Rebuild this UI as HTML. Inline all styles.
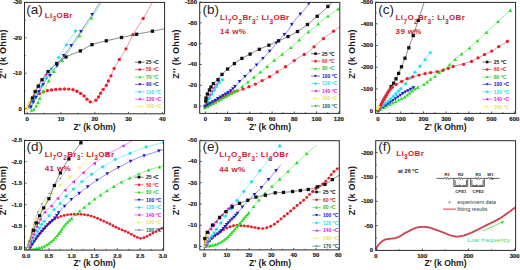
<!DOCTYPE html>
<html><head><meta charset="utf-8"><style>
html,body{margin:0;padding:0;background:#fff;}
svg{display:block;font-family:"Liberation Sans", sans-serif;}
</style></head><body>
<svg width="520" height="270" viewBox="0 0 520 270">
<rect width="520" height="270" fill="#fff"/>
<clipPath id="ca"><rect x="24.5" y="2.4" width="140.1" height="111.39999999999999"/></clipPath>
<g clip-path="url(#ca)">
<path d="M28.00 108.50 L28.22 107.99 L28.52 107.30 L28.86 106.47 L29.25 105.56 L29.67 104.61 L30.11 103.67 L30.56 102.79 L31.00 102.00 L31.45 101.29 L31.92 100.60 L32.41 99.94 L32.92 99.30 L33.43 98.68 L33.96 98.10 L34.48 97.53 L35.00 97.00 L35.51 96.50 L36.02 96.03 L36.53 95.60 L37.04 95.19 L37.57 94.80 L38.12 94.42 L38.69 94.06 L39.30 93.70 L39.94 93.35 L40.62 93.01 L41.32 92.69 L42.04 92.38 L42.78 92.08 L43.52 91.80 L44.26 91.54 L45.00 91.30 L45.72 91.08 L46.43 90.89 L47.14 90.71 L47.86 90.55 L48.59 90.40 L49.35 90.26 L50.15 90.13 L51.00 90.00 L51.91 89.87 L52.87 89.75 L53.88 89.64 L54.91 89.53 L55.95 89.43 L56.99 89.35 L58.01 89.27 L59.00 89.20 L59.98 89.14 L60.97 89.10 L61.97 89.06 L62.95 89.03 L63.91 89.01 L64.83 89.00 L65.70 89.00 L66.50 89.00 L67.23 89.01 L67.90 89.02 L68.52 89.03 L69.09 89.06 L69.65 89.09 L70.19 89.14 L70.74 89.21 L71.30 89.30 L71.88 89.41 L72.45 89.54 L73.02 89.68 L73.59 89.84 L74.14 90.02 L74.68 90.20 L75.20 90.40 L75.70 90.60 L76.17 90.81 L76.61 91.04 L77.03 91.28 L77.43 91.53 L77.83 91.79 L78.24 92.06 L78.66 92.33 L79.10 92.60 L79.57 92.87 L80.06 93.15 L80.56 93.43 L81.07 93.72 L81.57 94.02 L82.07 94.33 L82.55 94.65 L83.00 95.00 L83.42 95.37 L83.83 95.77 L84.21 96.18 L84.59 96.61 L84.96 97.04 L85.33 97.47 L85.71 97.89 L86.10 98.30 L86.50 98.71 L86.91 99.13 L87.32 99.56 L87.73 99.97 L88.15 100.38 L88.56 100.76 L88.98 101.10 L89.40 101.40 L89.82 101.67 L90.25 101.94 L90.68 102.19 L91.11 102.40 L91.54 102.57 L91.97 102.68 L92.39 102.73 L92.80 102.70 L93.21 102.57 L93.61 102.36 L94.01 102.07 L94.40 101.73 L94.79 101.36 L95.17 100.96 L95.54 100.57 L95.90 100.20 L96.25 99.84 L96.60 99.46 L96.93 99.08 L97.26 98.68 L97.58 98.27 L97.90 97.86 L98.20 97.43 L98.50 97.00 L98.78 96.55 L99.05 96.09 L99.30 95.62 L99.55 95.14 L99.80 94.66 L100.05 94.17 L100.32 93.68 L100.60 93.20 L100.90 92.72 L101.20 92.23 L101.52 91.74 L101.84 91.26 L102.17 90.77 L102.50 90.28 L102.85 89.79 L103.20 89.30 L103.57 88.82 L103.96 88.34 L104.37 87.86 L104.78 87.38 L105.19 86.90 L105.58 86.41 L105.96 85.91 L106.30 85.40 L106.61 84.88 L106.88 84.35 L107.14 83.82 L107.38 83.28 L107.62 82.73 L107.86 82.17 L108.12 81.59 L108.40 81.00 L108.70 80.40 L109.00 79.81 L109.32 79.20 L109.64 78.58 L109.97 77.94 L110.30 77.27 L110.65 76.56 L111.00 75.80 L111.35 75.00 L111.69 74.16 L112.03 73.30 L112.39 72.39 L112.76 71.46 L113.17 70.50 L113.61 69.51 L114.10 68.50 L114.64 67.46 L115.22 66.39 L115.83 65.29 L116.47 64.16 L117.15 63.00 L117.85 61.82 L118.56 60.62 L119.30 59.40 L120.06 58.17 L120.86 56.94 L121.69 55.69 L122.54 54.41 L123.40 53.10 L124.27 51.73 L125.14 50.30 L126.00 48.80 L126.84 47.22 L127.65 45.57 L128.46 43.86 L129.28 42.10 L130.13 40.30 L131.02 38.45 L131.97 36.59 L133.00 34.70 L134.12 32.78 L135.33 30.83 L136.61 28.84 L137.93 26.81 L139.26 24.76 L140.60 22.69 L141.92 20.60 L143.20 18.50 L144.51 16.26 L145.91 13.81 L147.33 11.26 L148.74 8.74 L150.06 6.34 L151.25 4.17 L152.25 2.36 L153.00 1.00" fill="none" stroke="#ed575f" stroke-width="0.65"/>
<circle cx="39.30" cy="93.70" r="1.65" fill="#e8202a"/>
<circle cx="43.23" cy="91.96" r="1.65" fill="#e8202a"/>
<circle cx="47.33" cy="90.67" r="1.65" fill="#e8202a"/>
<circle cx="51.56" cy="89.92" r="1.65" fill="#e8202a"/>
<circle cx="55.83" cy="89.44" r="1.65" fill="#e8202a"/>
<circle cx="60.12" cy="89.14" r="1.65" fill="#e8202a"/>
<circle cx="64.42" cy="89.01" r="1.65" fill="#e8202a"/>
<circle cx="68.72" cy="89.04" r="1.65" fill="#e8202a"/>
<circle cx="72.96" cy="89.67" r="1.65" fill="#e8202a"/>
<circle cx="76.95" cy="91.24" r="1.65" fill="#e8202a"/>
<circle cx="80.63" cy="93.47" r="1.65" fill="#e8202a"/>
<circle cx="84.06" cy="96.02" r="1.65" fill="#e8202a"/>
<circle cx="86.96" cy="99.19" r="1.65" fill="#e8202a"/>
<circle cx="90.29" cy="101.87" r="1.65" fill="#e8202a"/>
<circle cx="95.90" cy="100.20" r="1.65" fill="#e8202a"/>
<circle cx="98.50" cy="97.00" r="1.65" fill="#e8202a"/>
<circle cx="100.60" cy="93.20" r="1.65" fill="#e8202a"/>
<circle cx="103.20" cy="89.30" r="1.65" fill="#e8202a"/>
<circle cx="106.30" cy="85.40" r="1.65" fill="#e8202a"/>
<circle cx="108.40" cy="81.00" r="1.65" fill="#e8202a"/>
<circle cx="111.00" cy="75.80" r="1.65" fill="#e8202a"/>
<circle cx="114.10" cy="68.50" r="1.65" fill="#e8202a"/>
<circle cx="119.30" cy="59.40" r="1.65" fill="#e8202a"/>
<circle cx="126.00" cy="48.80" r="1.65" fill="#e8202a"/>
<circle cx="133.00" cy="34.70" r="1.65" fill="#e8202a"/>
<circle cx="143.20" cy="18.50" r="1.65" fill="#e8202a"/>
<path d="M26.80 109.50 L26.97 109.16 L27.19 108.70 L27.45 108.16 L27.74 107.56 L28.06 106.92 L28.38 106.27 L28.70 105.62 L29.00 105.00 L29.30 104.40 L29.60 103.79 L29.92 103.16 L30.23 102.53 L30.55 101.90 L30.87 101.26 L31.19 100.63 L31.50 100.00 L31.81 99.38 L32.12 98.75 L32.44 98.12 L32.75 97.50 L33.06 96.88 L33.38 96.25 L33.69 95.62 L34.00 95.00 L34.33 94.34 L34.68 93.63 L35.05 92.91 L35.41 92.19 L35.75 91.51 L36.05 90.90 L36.31 90.39 L36.50 90.00" fill="none" stroke="#f5f281" stroke-width="2.5"/>
<path d="M28.78 109.50L25.18 107.52L25.18 111.48Z" fill="#f2ee58"/>
<path d="M29.48 108.06L25.88 106.08L25.88 110.04Z" fill="#f2ee58"/>
<path d="M30.18 106.62L26.58 104.64L26.58 108.60Z" fill="#f2ee58"/>
<path d="M30.89 105.19L27.29 103.21L27.29 107.17Z" fill="#f2ee58"/>
<path d="M31.60 103.75L28.00 101.77L28.00 105.73Z" fill="#f2ee58"/>
<path d="M32.32 102.32L28.72 100.34L28.72 104.30Z" fill="#f2ee58"/>
<path d="M33.03 100.89L29.43 98.91L29.43 102.87Z" fill="#f2ee58"/>
<path d="M33.75 99.46L30.15 97.48L30.15 101.44Z" fill="#f2ee58"/>
<path d="M34.46 98.03L30.86 96.05L30.86 100.01Z" fill="#f2ee58"/>
<path d="M35.18 96.60L31.58 94.62L31.58 98.58Z" fill="#f2ee58"/>
<path d="M35.90 95.17L32.30 93.19L32.30 97.15Z" fill="#f2ee58"/>
<path d="M36.61 93.74L33.01 91.76L33.01 95.72Z" fill="#f2ee58"/>
<path d="M37.33 92.31L33.73 90.33L33.73 94.29Z" fill="#f2ee58"/>
<path d="M38.04 90.88L34.44 88.90L34.44 92.86Z" fill="#f2ee58"/>
<path d="M28.50 108.50 L28.69 108.00 L28.94 107.33 L29.23 106.54 L29.56 105.66 L29.92 104.72 L30.28 103.78 L30.65 102.86 L31.00 102.00 L31.34 101.20 L31.69 100.42 L32.05 99.65 L32.41 98.88 L32.79 98.08 L33.18 97.27 L33.58 96.41 L34.00 95.50 L34.44 94.52 L34.91 93.48 L35.39 92.39 L35.88 91.28 L36.38 90.17 L36.89 89.07 L37.40 88.00 L37.90 87.00 L38.40 86.04 L38.91 85.11 L39.43 84.20 L39.94 83.31 L40.46 82.45 L40.98 81.61 L41.49 80.79 L42.00 80.00 L42.53 79.20 L43.10 78.39 L43.68 77.59 L44.26 76.81 L44.80 76.09 L45.28 75.45 L45.69 74.91 L46.00 74.50" fill="none" stroke="#e757e7" stroke-width="0.65"/>
<path d="M27.68 106.00L30.98 104.19L30.98 107.81Z" fill="#e020e0"/>
<path d="M29.68 101.50L32.98 99.69L32.98 103.31Z" fill="#e020e0"/>
<path d="M32.19 96.00L35.48 94.19L35.48 97.81Z" fill="#e020e0"/>
<path d="M36.09 87.00L39.38 85.19L39.38 88.81Z" fill="#e020e0"/>
<path d="M40.19 80.00L43.48 78.19L43.48 81.81Z" fill="#e020e0"/>
<path d="M44.19 74.50L47.48 72.69L47.48 76.31Z" fill="#e020e0"/>
<path d="M29.50 109.00 L29.73 108.46 L30.03 107.73 L30.38 106.87 L30.78 105.91 L31.21 104.90 L31.64 103.88 L32.08 102.90 L32.50 102.00 L32.91 101.17 L33.32 100.38 L33.73 99.59 L34.16 98.81 L34.59 98.03 L35.04 97.22 L35.51 96.38 L36.00 95.50 L36.51 94.58 L37.04 93.62 L37.59 92.63 L38.16 91.62 L38.73 90.60 L39.32 89.57 L39.91 88.53 L40.50 87.50 L41.09 86.47 L41.69 85.45 L42.30 84.42 L42.91 83.38 L43.54 82.32 L44.18 81.24 L44.83 80.14 L45.50 79.00 L46.21 77.80 L46.95 76.52 L47.73 75.21 L48.51 73.88 L49.28 72.56 L50.03 71.29 L50.74 70.09 L51.40 69.00 L52.00 68.01 L52.57 67.10 L53.10 66.24 L53.61 65.44 L54.10 64.68 L54.57 63.94 L55.04 63.22 L55.50 62.50 L55.95 61.80 L56.37 61.16 L56.78 60.54 L57.18 59.94 L57.57 59.35 L57.97 58.73 L58.37 58.09 L58.80 57.40 L59.24 56.66 L59.69 55.88 L60.15 55.08 L60.62 54.26 L61.09 53.44 L61.56 52.61 L62.03 51.79 L62.50 51.00 L62.97 50.23 L63.43 49.46 L63.90 48.70 L64.37 47.95 L64.84 47.20 L65.32 46.44 L65.81 45.67 L66.30 44.90 L66.80 44.12 L67.30 43.35 L67.81 42.57 L68.32 41.79 L68.85 40.99 L69.38 40.18 L69.93 39.35 L70.50 38.50 L71.12 37.56 L71.81 36.53 L72.54 35.44 L73.26 34.35 L73.96 33.31 L74.58 32.37 L75.11 31.59 L75.50 31.00" fill="none" stroke="#59e7f3" stroke-width="0.65"/>
<path d="M30.50 105.02L32.48 107.00L30.50 108.98L28.52 107.00Z" fill="#22e0f0"/>
<path d="M32.50 100.52L34.48 102.50L32.50 104.48L30.52 102.50Z" fill="#22e0f0"/>
<path d="M35.00 96.02L36.98 98.00L35.00 99.98L33.02 98.00Z" fill="#22e0f0"/>
<path d="M38.00 90.52L39.98 92.50L38.00 94.48L36.02 92.50Z" fill="#22e0f0"/>
<path d="M41.50 84.02L43.48 86.00L41.50 87.98L39.52 86.00Z" fill="#22e0f0"/>
<path d="M46.00 76.02L47.98 78.00L46.00 79.98L44.02 78.00Z" fill="#22e0f0"/>
<path d="M51.40 66.82L53.38 68.80L51.40 70.78L49.42 68.80Z" fill="#22e0f0"/>
<path d="M58.80 55.42L60.78 57.40L58.80 59.38L56.82 57.40Z" fill="#22e0f0"/>
<path d="M66.30 42.92L68.28 44.90L66.30 46.88L64.32 44.90Z" fill="#22e0f0"/>
<path d="M75.50 29.02L77.48 31.00L75.50 32.98L73.52 31.00Z" fill="#22e0f0"/>
<path d="M30.50 110.50 L30.70 110.47 L30.96 110.45 L31.28 110.42 L31.62 110.38 L31.99 110.32 L32.35 110.24 L32.69 110.14 L33.00 110.00 L33.28 109.83 L33.55 109.62 L33.81 109.38 L34.06 109.12 L34.31 108.85 L34.55 108.57 L34.78 108.28 L35.00 108.00 L35.20 107.73 L35.38 107.49 L35.54 107.24 L35.70 106.98 L35.86 106.69 L36.05 106.36 L36.25 105.97 L36.50 105.50 L36.78 104.96 L37.08 104.36 L37.41 103.71 L37.75 103.01 L38.11 102.27 L38.49 101.48 L38.89 100.66 L39.30 99.80 L39.72 98.90 L40.16 97.96 L40.61 96.97 L41.08 95.94 L41.57 94.88 L42.09 93.78 L42.63 92.66 L43.20 91.50 L43.81 90.30 L44.46 89.03 L45.15 87.72 L45.86 86.38 L46.57 85.03 L47.29 83.69 L48.01 82.38 L48.70 81.10 L49.39 79.84 L50.08 78.57 L50.78 77.31 L51.47 76.06 L52.15 74.84 L52.82 73.66 L53.47 72.55 L54.10 71.50 L54.69 70.54 L55.26 69.66 L55.80 68.84 L56.32 68.06 L56.85 67.30 L57.38 66.55 L57.93 65.79 L58.50 65.00 L59.07 64.22 L59.63 63.49 L60.19 62.77 L60.76 62.05 L61.36 61.29 L62.00 60.46 L62.71 59.54 L63.50 58.50 L64.38 57.32 L65.35 56.02 L66.39 54.62 L67.48 53.16 L68.58 51.66 L69.68 50.15 L70.76 48.65 L71.80 47.20 L72.81 45.75 L73.83 44.28 L74.84 42.79 L75.84 41.30 L76.83 39.83 L77.79 38.40 L78.71 37.01 L79.60 35.70 L80.44 34.46 L81.23 33.29 L81.99 32.16 L82.72 31.08 L83.44 30.01 L84.15 28.95 L84.87 27.89 L85.60 26.80 L86.35 25.70 L87.10 24.59 L87.86 23.47 L88.61 22.37 L89.36 21.27 L90.09 20.19 L90.81 19.13 L91.50 18.10 L92.16 17.11 L92.80 16.16 L93.42 15.23 L94.03 14.32 L94.63 13.40 L95.24 12.47 L95.86 11.51 L96.50 10.50 L97.20 9.38 L97.97 8.14 L98.77 6.83 L99.56 5.53 L100.32 4.28 L101.00 3.15 L101.57 2.20 L102.00 1.50" fill="none" stroke="#59e559" stroke-width="0.65"/>
<path d="M31.50 108.48L33.31 111.78L29.68 111.78Z" fill="#22dd22"/>
<path d="M34.00 107.39L35.81 110.69L32.19 110.69Z" fill="#22dd22"/>
<path d="M36.20 104.19L38.02 107.48L34.39 107.48Z" fill="#22dd22"/>
<path d="M38.00 100.69L39.81 103.98L36.19 103.98Z" fill="#22dd22"/>
<path d="M39.80 96.69L41.61 99.98L37.98 99.98Z" fill="#22dd22"/>
<path d="M43.20 89.39L45.02 92.69L41.39 92.69Z" fill="#22dd22"/>
<path d="M48.70 79.28L50.52 82.58L46.89 82.58Z" fill="#22dd22"/>
<path d="M54.10 69.69L55.91 72.98L52.29 72.98Z" fill="#22dd22"/>
<path d="M62.40 58.69L64.22 61.98L60.59 61.98Z" fill="#22dd22"/>
<path d="M79.60 33.89L81.41 37.19L77.78 37.19Z" fill="#22dd22"/>
<path d="M91.50 16.29L93.31 19.59L89.69 19.59Z" fill="#22dd22"/>
<path d="M30.00 109.00 L30.27 108.46 L30.63 107.73 L31.06 106.87 L31.53 105.91 L32.03 104.90 L32.54 103.88 L33.04 102.90 L33.50 102.00 L33.93 101.17 L34.36 100.36 L34.79 99.57 L35.22 98.78 L35.65 97.99 L36.09 97.18 L36.54 96.36 L37.00 95.50 L37.47 94.61 L37.95 93.70 L38.44 92.76 L38.94 91.81 L39.44 90.86 L39.95 89.90 L40.47 88.94 L41.00 88.00 L41.54 87.06 L42.09 86.10 L42.65 85.14 L43.22 84.19 L43.79 83.24 L44.36 82.30 L44.93 81.39 L45.50 80.50 L46.05 79.65 L46.57 78.85 L47.08 78.08 L47.60 77.31 L48.14 76.54 L48.71 75.74 L49.32 74.90 L50.00 74.00 L50.75 73.04 L51.56 72.05 L52.42 71.02 L53.31 69.96 L54.21 68.88 L55.13 67.77 L56.03 66.64 L56.90 65.50 L57.75 64.33 L58.59 63.13 L59.43 61.89 L60.26 60.64 L61.10 59.38 L61.95 58.11 L62.82 56.85 L63.70 55.60 L64.59 54.38 L65.47 53.21 L66.36 52.04 L67.27 50.87 L68.20 49.66 L69.15 48.40 L70.15 47.05 L71.20 45.60 L72.34 43.99 L73.57 42.21 L74.86 40.33 L76.17 38.40 L77.47 36.48 L78.71 34.64 L79.87 32.93 L80.90 31.40 L81.80 30.07 L82.59 28.89 L83.30 27.83 L83.95 26.84 L84.57 25.90 L85.19 24.97 L85.82 24.02 L86.50 23.00 L87.22 21.93 L87.96 20.82 L88.71 19.71 L89.46 18.60 L90.20 17.51 L90.91 16.45 L91.58 15.44 L92.20 14.50 L92.76 13.64 L93.27 12.85 L93.73 12.11 L94.18 11.41 L94.61 10.71 L95.05 10.01 L95.50 9.28 L96.00 8.50 L96.56 7.62 L97.18 6.66 L97.83 5.64 L98.49 4.62 L99.11 3.66 L99.67 2.78 L100.15 2.05 L100.50 1.50" fill="none" stroke="#5151db" stroke-width="0.65"/>
<path d="M31.00 108.81L32.81 105.52L29.18 105.52Z" fill="#1818d0"/>
<path d="M33.50 103.81L35.31 100.52L31.68 100.52Z" fill="#1818d0"/>
<path d="M36.00 99.31L37.81 96.02L34.19 96.02Z" fill="#1818d0"/>
<path d="M39.10 93.31L40.91 90.02L37.29 90.02Z" fill="#1818d0"/>
<path d="M43.20 86.31L45.02 83.02L41.39 83.02Z" fill="#1818d0"/>
<path d="M50.00 77.41L51.81 74.11L48.19 74.11Z" fill="#1818d0"/>
<path d="M56.90 67.81L58.71 64.52L55.09 64.52Z" fill="#1818d0"/>
<path d="M63.70 57.41L65.52 54.12L61.89 54.12Z" fill="#1818d0"/>
<path d="M71.20 47.41L73.02 44.12L69.39 44.12Z" fill="#1818d0"/>
<path d="M80.90 33.21L82.72 29.91L79.09 29.91Z" fill="#1818d0"/>
<path d="M92.20 16.32L94.02 13.02L90.39 13.02Z" fill="#1818d0"/>
<path d="M28.50 108.00 L28.61 107.71 L28.75 107.33 L28.91 106.88 L29.09 106.38 L29.30 105.82 L29.52 105.23 L29.75 104.62 L30.00 104.00 L30.26 103.35 L30.55 102.65 L30.86 101.91 L31.18 101.15 L31.50 100.37 L31.84 99.58 L32.17 98.78 L32.50 98.00 L32.83 97.21 L33.15 96.41 L33.48 95.59 L33.81 94.77 L34.15 93.95 L34.49 93.15 L34.84 92.36 L35.20 91.60 L35.56 90.87 L35.93 90.18 L36.31 89.51 L36.69 88.84 L37.08 88.18 L37.47 87.51 L37.88 86.82 L38.30 86.10 L38.72 85.36 L39.13 84.63 L39.54 83.88 L39.96 83.12 L40.41 82.34 L40.89 81.53 L41.42 80.68 L42.00 79.80 L42.63 78.87 L43.30 77.88 L44.00 76.86 L44.74 75.81 L45.52 74.75 L46.34 73.69 L47.20 72.63 L48.10 71.60 L49.05 70.57 L50.06 69.53 L51.11 68.48 L52.20 67.44 L53.31 66.42 L54.44 65.41 L55.57 64.44 L56.70 63.50 L57.79 62.61 L58.86 61.75 L59.91 60.93 L60.99 60.12 L62.11 59.34 L63.30 58.56 L64.59 57.78 L66.00 57.00 L67.58 56.22 L69.31 55.45 L71.15 54.69 L73.06 53.93 L74.98 53.18 L76.88 52.42 L78.70 51.66 L80.40 50.90 L81.97 50.11 L83.43 49.30 L84.84 48.48 L86.21 47.66 L87.58 46.86 L88.98 46.09 L90.44 45.37 L92.00 44.70 L93.65 44.10 L95.36 43.55 L97.13 43.04 L98.92 42.57 L100.75 42.12 L102.60 41.68 L104.45 41.24 L106.30 40.80 L108.16 40.36 L110.04 39.93 L111.94 39.51 L113.85 39.11 L115.77 38.70 L117.69 38.30 L119.60 37.90 L121.50 37.50 L123.39 37.09 L125.27 36.69 L127.14 36.29 L129.01 35.89 L130.89 35.49 L132.78 35.09 L134.68 34.69 L136.60 34.30 L138.56 33.90 L140.55 33.51 L142.57 33.11 L144.59 32.72 L146.61 32.33 L148.59 31.94 L150.53 31.57 L152.40 31.20 L154.30 30.82 L156.27 30.43 L158.26 30.04 L160.19 29.66 L161.99 29.30 L163.61 28.98 L164.97 28.71 L166.00 28.50" fill="none" stroke="#444444" stroke-width="0.65"/>
<rect x="30.85" y="96.35" width="3.30" height="3.30" fill="#111111"/>
<rect x="33.55" y="89.95" width="3.30" height="3.30" fill="#111111"/>
<rect x="36.65" y="84.45" width="3.30" height="3.30" fill="#111111"/>
<rect x="40.35" y="78.15" width="3.30" height="3.30" fill="#111111"/>
<rect x="46.45" y="69.95" width="3.30" height="3.30" fill="#111111"/>
<rect x="55.05" y="61.85" width="3.30" height="3.30" fill="#111111"/>
<rect x="64.35" y="55.35" width="3.30" height="3.30" fill="#111111"/>
<rect x="78.75" y="49.25" width="3.30" height="3.30" fill="#111111"/>
<rect x="90.35" y="43.05" width="3.30" height="3.30" fill="#111111"/>
<rect x="104.65" y="39.15" width="3.30" height="3.30" fill="#111111"/>
<rect x="119.85" y="35.85" width="3.30" height="3.30" fill="#111111"/>
<rect x="134.95" y="32.65" width="3.30" height="3.30" fill="#111111"/>
<rect x="150.75" y="29.55" width="3.30" height="3.30" fill="#111111"/>
</g>
<rect x="24.5" y="2.4" width="140.1" height="111.39999999999999" fill="none" stroke="#2a2a2a" stroke-width="1"/>
<line x1="24.5" y1="2.40" x2="26.5" y2="2.40" stroke="#333" stroke-width="0.8"/>
<text x="21.80" y="4.30" font-size="6.0" fill="#151515" text-anchor="end" font-weight="bold" stroke="#151515" stroke-width="0.15">-30</text>
<line x1="24.5" y1="37.80" x2="26.5" y2="37.80" stroke="#333" stroke-width="0.8"/>
<text x="21.80" y="39.70" font-size="6.0" fill="#151515" text-anchor="end" font-weight="bold" stroke="#151515" stroke-width="0.15">-20</text>
<line x1="24.5" y1="73.20" x2="26.5" y2="73.20" stroke="#333" stroke-width="0.8"/>
<text x="21.80" y="75.10" font-size="6.0" fill="#151515" text-anchor="end" font-weight="bold" stroke="#151515" stroke-width="0.15">-10</text>
<line x1="24.5" y1="108.60" x2="26.5" y2="108.60" stroke="#333" stroke-width="0.8"/>
<text x="21.80" y="110.50" font-size="6.0" fill="#151515" text-anchor="end" font-weight="bold" stroke="#151515" stroke-width="0.15">0</text>
<line x1="24.5" y1="20.10" x2="25.7" y2="20.10" stroke="#333" stroke-width="0.7"/>
<line x1="24.5" y1="55.50" x2="25.7" y2="55.50" stroke="#333" stroke-width="0.7"/>
<line x1="24.5" y1="90.90" x2="25.7" y2="90.90" stroke="#333" stroke-width="0.7"/>
<line x1="27.20" y1="113.8" x2="27.20" y2="111.8" stroke="#333" stroke-width="0.8"/>
<text x="27.20" y="121.20" font-size="6.0" fill="#151515" text-anchor="middle" font-weight="bold" stroke="#151515" stroke-width="0.15">0</text>
<line x1="61.00" y1="113.8" x2="61.00" y2="111.8" stroke="#333" stroke-width="0.8"/>
<text x="61.00" y="121.20" font-size="6.0" fill="#151515" text-anchor="middle" font-weight="bold" stroke="#151515" stroke-width="0.15">10</text>
<line x1="94.80" y1="113.8" x2="94.80" y2="111.8" stroke="#333" stroke-width="0.8"/>
<text x="94.80" y="121.20" font-size="6.0" fill="#151515" text-anchor="middle" font-weight="bold" stroke="#151515" stroke-width="0.15">20</text>
<line x1="128.60" y1="113.8" x2="128.60" y2="111.8" stroke="#333" stroke-width="0.8"/>
<text x="128.60" y="121.20" font-size="6.0" fill="#151515" text-anchor="middle" font-weight="bold" stroke="#151515" stroke-width="0.15">30</text>
<line x1="162.40" y1="113.8" x2="162.40" y2="111.8" stroke="#333" stroke-width="0.8"/>
<text x="162.40" y="121.20" font-size="6.0" fill="#151515" text-anchor="middle" font-weight="bold" stroke="#151515" stroke-width="0.15">40</text>
<line x1="44.10" y1="113.8" x2="44.10" y2="112.6" stroke="#333" stroke-width="0.7"/>
<line x1="77.90" y1="113.8" x2="77.90" y2="112.6" stroke="#333" stroke-width="0.7"/>
<line x1="111.70" y1="113.8" x2="111.70" y2="112.6" stroke="#333" stroke-width="0.7"/>
<line x1="145.50" y1="113.8" x2="145.50" y2="112.6" stroke="#333" stroke-width="0.7"/>
<text x="94.60" y="129.90" font-size="8.6" fill="#1a1a1a" text-anchor="middle" font-weight="bold" >Z' (k Ohm)</text>
<text x="0" y="0" font-size="9.1" fill="#1a1a1a" text-anchor="middle" font-weight="bold" letter-spacing="0.25" transform="translate(6.30,54.00) rotate(-90)">Z'' (k Ohm)</text>
<text x="26.20" y="14.40" font-size="13.5" fill="#262626" text-anchor="start" font-weight="normal" >(a)</text>
<text x="44.8" y="17.6" font-size="8.0" fill="#cc2234" font-weight="bold" letter-spacing="0.35">Li<tspan dy="3.3" font-size="6.56">3</tspan><tspan dy="-3.3">OBr</tspan></text>
<line x1="135" y1="62.20" x2="144.5" y2="62.20" stroke="#111111" stroke-width="0.6"/>
<rect x="138.45" y="60.90" width="2.60" height="2.60" fill="#111111"/>
<text x="146.00" y="64.00" font-size="5.0" fill="#111111" text-anchor="start" font-weight="bold" >25 <tspan dy="-1.5" font-size="3.2">o</tspan><tspan dy="1.5">C</tspan></text>
<line x1="135" y1="69.60" x2="144.5" y2="69.60" stroke="#e8202a" stroke-width="0.6"/>
<circle cx="139.75" cy="69.60" r="1.30" fill="#e8202a"/>
<text x="146.00" y="71.40" font-size="5.0" fill="#e8202a" text-anchor="start" font-weight="bold" >50 <tspan dy="-1.5" font-size="3.2">o</tspan><tspan dy="1.5">C</tspan></text>
<line x1="135" y1="77.00" x2="144.5" y2="77.00" stroke="#22dd22" stroke-width="0.6"/>
<path d="M139.75 75.57L141.18 78.17L138.32 78.17Z" fill="#22dd22"/>
<text x="146.00" y="78.80" font-size="5.0" fill="#30c030" text-anchor="start" font-weight="bold" >70 <tspan dy="-1.5" font-size="3.2">o</tspan><tspan dy="1.5">C</tspan></text>
<line x1="135" y1="84.40" x2="144.5" y2="84.40" stroke="#1818d0" stroke-width="0.6"/>
<path d="M139.75 85.83L141.18 83.23L138.32 83.23Z" fill="#1818d0"/>
<text x="146.00" y="86.20" font-size="5.0" fill="#1818d0" text-anchor="start" font-weight="bold" >90 <tspan dy="-1.5" font-size="3.2">o</tspan><tspan dy="1.5">C</tspan></text>
<line x1="135" y1="91.80" x2="144.5" y2="91.80" stroke="#22e0f0" stroke-width="0.6"/>
<path d="M139.75 90.24L141.31 91.80L139.75 93.36L138.19 91.80Z" fill="#22e0f0"/>
<text x="146.00" y="93.60" font-size="5.0" fill="#30d8e8" text-anchor="start" font-weight="bold" >110 <tspan dy="-1.5" font-size="3.2">o</tspan><tspan dy="1.5">C</tspan></text>
<line x1="135" y1="99.20" x2="144.5" y2="99.20" stroke="#e020e0" stroke-width="0.6"/>
<path d="M138.32 99.20L140.92 97.77L140.92 100.63Z" fill="#e020e0"/>
<text x="146.00" y="101.00" font-size="5.0" fill="#e020e0" text-anchor="start" font-weight="bold" >130 <tspan dy="-1.5" font-size="3.2">o</tspan><tspan dy="1.5">C</tspan></text>
<line x1="135" y1="106.60" x2="144.5" y2="106.60" stroke="#f2ee58" stroke-width="0.6"/>
<path d="M141.18 106.60L138.58 105.17L138.58 108.03Z" fill="#f2ee58"/>
<text x="146.00" y="108.40" font-size="5.0" fill="#e8e060" text-anchor="start" font-weight="bold" >150 <tspan dy="-1.5" font-size="3.2">o</tspan><tspan dy="1.5">C</tspan></text>
<clipPath id="cb"><rect x="199.7" y="2.4" width="140.10000000000002" height="111.0"/></clipPath>
<g clip-path="url(#cb)">
<path d="M205.00 107.50 L205.04 107.15 L205.10 106.68 L205.17 106.12 L205.24 105.50 L205.33 104.85 L205.41 104.20 L205.51 103.57 L205.60 103.00 L205.70 102.47 L205.80 101.94 L205.91 101.42 L206.02 100.91 L206.14 100.40 L206.26 99.92 L206.38 99.45 L206.50 99.00 L206.63 98.56 L206.77 98.11 L206.91 97.67 L207.06 97.25 L207.19 96.86 L207.32 96.52 L207.42 96.22 L207.50 96.00" fill="none" stroke="#f5f281" stroke-width="1.0"/>
<path d="M206.81 107.50L203.51 105.69L203.51 109.31Z" fill="#f2ee58"/>
<path d="M207.03 105.71L203.73 103.90L203.73 107.53Z" fill="#f2ee58"/>
<path d="M207.27 103.93L203.97 102.11L203.97 105.74Z" fill="#f2ee58"/>
<path d="M207.57 102.16L204.27 100.34L204.27 103.97Z" fill="#f2ee58"/>
<path d="M207.96 100.40L204.66 98.58L204.66 102.21Z" fill="#f2ee58"/>
<path d="M208.41 98.66L205.11 96.84L205.11 100.47Z" fill="#f2ee58"/>
<path d="M208.98 96.95L205.68 95.13L205.68 98.76Z" fill="#f2ee58"/>
<path d="M205.50 106.00 L205.65 105.53 L205.86 104.90 L206.10 104.15 L206.38 103.31 L206.66 102.44 L206.95 101.57 L207.24 100.74 L207.50 100.00 L207.75 99.31 L208.01 98.63 L208.27 97.96 L208.53 97.31 L208.79 96.68 L209.04 96.09 L209.27 95.52 L209.50 95.00 L209.70 94.54 L209.88 94.13 L210.03 93.77 L210.19 93.44 L210.35 93.11 L210.53 92.77 L210.74 92.41 L211.00 92.00 L211.30 91.55 L211.64 91.08 L212.02 90.59 L212.41 90.09 L212.81 89.57 L213.21 89.05 L213.61 88.53 L214.00 88.00 L214.38 87.46 L214.76 86.90 L215.15 86.32 L215.53 85.74 L215.91 85.17 L216.29 84.62 L216.65 84.09 L217.00 83.60 L217.35 83.13 L217.72 82.66 L218.08 82.21 L218.44 81.77 L218.77 81.38 L219.06 81.03 L219.31 80.73 L219.50 80.50" fill="none" stroke="#e757e7" stroke-width="0.65"/>
<path d="M203.69 106.00L206.99 104.19L206.99 107.81Z" fill="#e020e0"/>
<path d="M204.93 102.20L208.23 100.38L208.23 104.01Z" fill="#e020e0"/>
<path d="M206.27 98.43L209.57 96.62L209.57 100.25Z" fill="#e020e0"/>
<path d="M207.80 94.73L211.10 92.92L211.10 96.55Z" fill="#e020e0"/>
<path d="M209.72 91.24L213.02 89.42L213.02 93.05Z" fill="#e020e0"/>
<path d="M212.14 88.06L215.44 86.24L215.44 89.87Z" fill="#e020e0"/>
<path d="M214.38 84.75L217.68 82.93L217.68 86.56Z" fill="#e020e0"/>
<path d="M216.80 81.56L220.10 79.75L220.10 83.38Z" fill="#e020e0"/>
<path d="M205.50 106.00 L205.73 105.53 L206.04 104.90 L206.41 104.15 L206.81 103.31 L207.24 102.44 L207.68 101.57 L208.10 100.74 L208.50 100.00 L208.88 99.32 L209.26 98.66 L209.65 98.01 L210.03 97.38 L210.41 96.76 L210.79 96.16 L211.15 95.57 L211.50 95.00 L211.84 94.45 L212.17 93.93 L212.50 93.43 L212.81 92.94 L213.12 92.46 L213.42 91.98 L213.71 91.49 L214.00 91.00 L214.27 90.50 L214.51 90.00 L214.74 89.50 L214.97 89.00 L215.20 88.50 L215.44 88.00 L215.71 87.50 L216.00 87.00 L216.32 86.50 L216.67 85.99 L217.03 85.47 L217.40 84.96 L217.79 84.46 L218.18 83.96 L218.59 83.47 L219.00 83.00 L219.45 82.52 L219.94 82.03 L220.46 81.53 L220.99 81.05 L221.49 80.60 L221.94 80.20 L222.32 79.86 L222.60 79.60" fill="none" stroke="#59e7f3" stroke-width="0.65"/>
<path d="M205.50 104.02L207.48 106.00L205.50 107.98L203.52 106.00Z" fill="#22e0f0"/>
<path d="M207.48 99.98L209.46 101.96L207.48 103.94L205.50 101.96Z" fill="#22e0f0"/>
<path d="M209.64 96.03L211.62 98.01L209.64 99.99L207.66 98.01Z" fill="#22e0f0"/>
<path d="M212.01 92.21L213.99 94.19L212.01 96.17L210.03 94.19Z" fill="#22e0f0"/>
<path d="M214.34 88.36L216.32 90.34L214.34 92.32L212.36 90.34Z" fill="#22e0f0"/>
<path d="M216.42 84.38L218.40 86.36L216.42 88.34L214.44 86.36Z" fill="#22e0f0"/>
<path d="M219.18 80.83L221.16 82.81L219.18 84.79L217.20 82.81Z" fill="#22e0f0"/>
<path d="M222.46 77.75L224.44 79.73L222.46 81.71L220.48 79.73Z" fill="#22e0f0"/>
<path d="M205.00 107.00 L205.39 106.81 L205.90 106.56 L206.51 106.25 L207.19 105.92 L207.91 105.56 L208.63 105.20 L209.34 104.84 L210.00 104.50 L210.62 104.17 L211.25 103.84 L211.88 103.51 L212.50 103.17 L213.12 102.83 L213.75 102.49 L214.38 102.14 L215.00 101.80 L215.62 101.45 L216.25 101.11 L216.88 100.76 L217.50 100.41 L218.12 100.05 L218.75 99.70 L219.38 99.35 L220.00 99.00 L220.62 98.65 L221.25 98.30 L221.88 97.95 L222.50 97.60 L223.12 97.25 L223.75 96.90 L224.38 96.55 L225.00 96.20 L225.62 95.84 L226.25 95.48 L226.88 95.11 L227.50 94.74 L228.12 94.38 L228.75 94.04 L229.38 93.71 L230.00 93.40 L230.62 93.12 L231.25 92.85 L231.88 92.60 L232.50 92.36 L233.12 92.13 L233.75 91.91 L234.38 91.70 L235.00 91.50 L235.63 91.31 L236.25 91.14 L236.88 90.99 L237.51 90.84 L238.14 90.70 L238.76 90.55 L239.38 90.38 L240.00 90.20 L240.60 90.00 L241.19 89.80 L241.76 89.59 L242.34 89.37 L242.92 89.14 L243.52 88.90 L244.14 88.66 L244.80 88.40 L245.49 88.13 L246.21 87.85 L246.96 87.55 L247.72 87.25 L248.49 86.94 L249.26 86.63 L250.04 86.31 L250.80 86.00 L251.56 85.69 L252.34 85.37 L253.12 85.05 L253.89 84.73 L254.67 84.40 L255.43 84.07 L256.18 83.74 L256.90 83.40 L257.60 83.06 L258.28 82.72 L258.94 82.37 L259.59 82.02 L260.23 81.67 L260.88 81.31 L261.53 80.96 L262.20 80.60 L262.88 80.24 L263.56 79.89 L264.24 79.53 L264.93 79.17 L265.62 78.81 L266.31 78.44 L267.01 78.07 L267.70 77.70 L268.40 77.33 L269.10 76.95 L269.81 76.57 L270.51 76.19 L271.22 75.81 L271.92 75.41 L272.61 75.01 L273.30 74.60 L273.97 74.17 L274.63 73.74 L275.28 73.29 L275.93 72.84 L276.57 72.38 L277.23 71.92 L277.91 71.46 L278.60 71.00 L279.32 70.54 L280.05 70.09 L280.80 69.63 L281.56 69.17 L282.32 68.71 L283.08 68.25 L283.85 67.78 L284.60 67.30 L285.35 66.82 L286.10 66.33 L286.85 65.84 L287.60 65.34 L288.35 64.84 L289.10 64.34 L289.85 63.82 L290.60 63.30 L291.35 62.76 L292.10 62.20 L292.85 61.64 L293.61 61.06 L294.36 60.49 L295.11 59.94 L295.85 59.40 L296.60 58.90 L297.34 58.43 L298.08 57.98 L298.82 57.56 L299.56 57.15 L300.29 56.75 L301.03 56.34 L301.76 55.93 L302.50 55.50 L303.22 55.09 L303.91 54.71 L304.59 54.35 L305.28 53.98 L305.99 53.57 L306.74 53.10 L307.53 52.55 L308.40 51.90 L309.35 51.12 L310.37 50.23 L311.44 49.25 L312.55 48.21 L313.68 47.15 L314.81 46.09 L315.92 45.07 L317.00 44.10 L318.04 43.19 L319.05 42.30 L320.05 41.43 L321.04 40.57 L322.05 39.71 L323.09 38.85 L324.17 37.98 L325.30 37.10 L326.52 36.18 L327.83 35.23 L329.19 34.25 L330.57 33.28 L331.94 32.33 L333.25 31.42 L334.49 30.57 L335.60 29.80 L336.63 29.09 L337.62 28.41 L338.57 27.78 L339.44 27.19 L340.24 26.67 L340.94 26.20 L341.53 25.81 L342.00 25.50" fill="none" stroke="#ed575f" stroke-width="0.65"/>
<circle cx="205.00" cy="107.00" r="1.65" fill="#e8202a"/>
<circle cx="207.69" cy="105.67" r="1.65" fill="#e8202a"/>
<circle cx="210.36" cy="104.31" r="1.65" fill="#e8202a"/>
<circle cx="213.01" cy="102.89" r="1.65" fill="#e8202a"/>
<circle cx="215.64" cy="101.45" r="1.65" fill="#e8202a"/>
<circle cx="218.25" cy="99.98" r="1.65" fill="#e8202a"/>
<circle cx="220.87" cy="98.51" r="1.65" fill="#e8202a"/>
<circle cx="223.49" cy="97.05" r="1.65" fill="#e8202a"/>
<circle cx="226.10" cy="95.57" r="1.65" fill="#e8202a"/>
<circle cx="228.69" cy="94.07" r="1.65" fill="#e8202a"/>
<circle cx="231.40" cy="92.79" r="1.65" fill="#e8202a"/>
<circle cx="234.22" cy="91.75" r="1.65" fill="#e8202a"/>
<circle cx="237.11" cy="90.94" r="1.65" fill="#e8202a"/>
<circle cx="243.02" cy="89.10" r="1.65" fill="#e8202a"/>
<circle cx="248.97" cy="86.75" r="1.65" fill="#e8202a"/>
<circle cx="255.41" cy="84.08" r="1.65" fill="#e8202a"/>
<circle cx="262.17" cy="80.61" r="1.65" fill="#e8202a"/>
<circle cx="269.50" cy="76.74" r="1.65" fill="#e8202a"/>
<circle cx="277.16" cy="71.97" r="1.65" fill="#e8202a"/>
<circle cx="285.49" cy="66.73" r="1.65" fill="#e8202a"/>
<circle cx="294.26" cy="60.56" r="1.65" fill="#e8202a"/>
<circle cx="304.26" cy="54.52" r="1.65" fill="#e8202a"/>
<circle cx="314.04" cy="46.81" r="1.65" fill="#e8202a"/>
<circle cx="323.43" cy="38.58" r="1.65" fill="#e8202a"/>
<circle cx="333.54" cy="31.22" r="1.65" fill="#e8202a"/>
<path d="M205.00 107.80 L205.77 107.40 L206.80 106.87 L208.02 106.25 L209.38 105.55 L210.81 104.81 L212.27 104.05 L213.68 103.30 L215.00 102.60 L216.25 101.92 L217.50 101.23 L218.75 100.52 L220.00 99.82 L221.25 99.11 L222.50 98.40 L223.75 97.70 L225.00 97.00 L226.26 96.31 L227.53 95.63 L228.81 94.96 L230.09 94.28 L231.35 93.60 L232.60 92.91 L233.82 92.22 L235.00 91.50 L236.16 90.76 L237.31 89.99 L238.44 89.20 L239.55 88.41 L240.63 87.62 L241.67 86.85 L242.66 86.10 L243.60 85.40 L244.47 84.74 L245.28 84.11 L246.04 83.50 L246.76 82.92 L247.46 82.34 L248.15 81.77 L248.86 81.19 L249.60 80.60 L250.36 80.00 L251.13 79.39 L251.91 78.78 L252.68 78.17 L253.45 77.57 L254.21 76.97 L254.97 76.38 L255.70 75.80 L256.41 75.23 L257.11 74.68 L257.79 74.14 L258.47 73.60 L259.14 73.06 L259.82 72.52 L260.50 71.97 L261.20 71.40 L261.90 70.83 L262.61 70.25 L263.31 69.67 L264.02 69.09 L264.75 68.49 L265.48 67.88 L266.23 67.25 L267.00 66.60 L267.80 65.92 L268.63 65.20 L269.47 64.45 L270.33 63.70 L271.19 62.95 L272.05 62.20 L272.89 61.48 L273.70 60.80 L274.49 60.15 L275.26 59.52 L276.03 58.91 L276.78 58.32 L277.53 57.73 L278.28 57.16 L279.04 56.58 L279.80 56.00 L280.58 55.42 L281.36 54.85 L282.15 54.29 L282.94 53.73 L283.72 53.17 L284.50 52.62 L285.26 52.06 L286.00 51.50 L286.72 50.94 L287.42 50.38 L288.11 49.83 L288.79 49.27 L289.47 48.71 L290.14 48.15 L290.82 47.58 L291.50 47.00 L292.18 46.43 L292.86 45.86 L293.53 45.29 L294.20 44.72 L294.88 44.13 L295.57 43.52 L296.27 42.88 L297.00 42.20 L297.72 41.48 L298.43 40.74 L299.14 39.97 L299.87 39.17 L300.63 38.35 L301.45 37.51 L302.33 36.66 L303.30 35.80 L304.37 34.92 L305.54 34.03 L306.78 33.12 L308.07 32.19 L309.39 31.24 L310.71 30.28 L312.02 29.30 L313.30 28.30 L314.52 27.29 L315.71 26.26 L316.89 25.21 L318.07 24.14 L319.28 23.06 L320.54 21.96 L321.87 20.84 L323.30 19.70 L324.89 18.49 L326.67 17.20 L328.55 15.85 L330.46 14.51 L332.34 13.20 L334.10 11.96 L335.68 10.85 L337.00 9.90 L338.08 9.10 L338.98 8.42 L339.73 7.83 L340.36 7.34 L340.87 6.92 L341.31 6.56 L341.67 6.26 L342.00 6.00" fill="none" stroke="#59e559" stroke-width="0.65"/>
<path d="M205.00 105.98L206.81 109.28L203.19 109.28Z" fill="#22dd22"/>
<path d="M207.67 104.61L209.48 107.91L205.85 107.91Z" fill="#22dd22"/>
<path d="M210.33 103.24L212.15 106.54L208.52 106.54Z" fill="#22dd22"/>
<path d="M212.99 101.85L214.81 105.15L211.18 105.15Z" fill="#22dd22"/>
<path d="M215.64 100.44L217.45 103.74L213.82 103.74Z" fill="#22dd22"/>
<path d="M218.26 98.98L220.08 102.28L216.45 102.28Z" fill="#22dd22"/>
<path d="M220.88 97.51L222.69 100.81L219.06 100.81Z" fill="#22dd22"/>
<path d="M223.49 96.03L225.30 99.33L221.67 99.33Z" fill="#22dd22"/>
<path d="M226.11 94.58L227.93 97.88L224.30 97.88Z" fill="#22dd22"/>
<path d="M228.76 93.17L230.58 96.47L226.95 96.47Z" fill="#22dd22"/>
<path d="M231.41 91.76L233.22 95.06L229.59 95.06Z" fill="#22dd22"/>
<path d="M234.02 90.28L235.83 93.58L232.20 93.58Z" fill="#22dd22"/>
<path d="M236.55 88.68L238.37 91.98L234.74 91.98Z" fill="#22dd22"/>
<path d="M242.24 84.60L244.06 87.90L240.43 87.90Z" fill="#22dd22"/>
<path d="M247.91 80.15L249.73 83.45L246.10 83.45Z" fill="#22dd22"/>
<path d="M253.95 75.37L255.76 78.67L252.13 78.67Z" fill="#22dd22"/>
<path d="M260.39 70.24L262.20 73.54L258.57 73.54Z" fill="#22dd22"/>
<path d="M267.17 64.64L268.98 67.94L265.35 67.94Z" fill="#22dd22"/>
<path d="M274.29 58.50L276.10 61.80L272.47 61.80Z" fill="#22dd22"/>
<path d="M282.27 52.39L284.08 55.69L280.45 55.69Z" fill="#22dd22"/>
<path d="M290.75 45.82L292.57 49.12L288.94 49.12Z" fill="#22dd22"/>
<path d="M299.21 38.08L301.02 41.38L297.39 41.38Z" fill="#22dd22"/>
<path d="M308.47 30.09L310.28 33.39L306.65 33.39Z" fill="#22dd22"/>
<path d="M318.18 22.23L319.99 25.53L316.36 25.53Z" fill="#22dd22"/>
<path d="M327.96 14.46L329.77 17.76L326.14 17.76Z" fill="#22dd22"/>
<path d="M338.15 7.23L339.97 10.53L336.34 10.53Z" fill="#22dd22"/>
<path d="M205.00 106.30 L205.77 105.84 L206.80 105.22 L208.02 104.49 L209.38 103.67 L210.81 102.81 L212.27 101.94 L213.68 101.09 L215.00 100.30 L216.28 99.53 L217.59 98.75 L218.93 97.95 L220.25 97.16 L221.54 96.39 L222.78 95.65 L223.94 94.94 L225.00 94.30 L225.96 93.72 L226.83 93.20 L227.63 92.72 L228.38 92.27 L229.07 91.84 L229.73 91.41 L230.37 90.97 L231.00 90.50 L231.59 90.02 L232.12 89.55 L232.60 89.08 L233.06 88.61 L233.51 88.12 L233.98 87.61 L234.47 87.07 L235.00 86.50 L235.58 85.88 L236.18 85.21 L236.80 84.50 L237.44 83.78 L238.08 83.06 L238.73 82.34 L239.37 81.65 L240.00 81.00 L240.62 80.39 L241.25 79.82 L241.88 79.26 L242.50 78.72 L243.12 78.18 L243.75 77.64 L244.38 77.08 L245.00 76.50 L245.62 75.90 L246.25 75.29 L246.88 74.66 L247.50 74.03 L248.12 73.40 L248.75 72.76 L249.38 72.13 L250.00 71.50 L250.62 70.88 L251.24 70.26 L251.85 69.65 L252.47 69.03 L253.09 68.41 L253.71 67.79 L254.35 67.15 L255.00 66.50 L255.66 65.84 L256.34 65.17 L257.03 64.50 L257.72 63.81 L258.42 63.12 L259.11 62.42 L259.81 61.71 L260.50 61.00 L261.18 60.28 L261.85 59.56 L262.52 58.83 L263.19 58.09 L263.86 57.34 L264.55 56.57 L265.26 55.80 L266.00 55.00 L266.77 54.19 L267.57 53.35 L268.40 52.51 L269.23 51.65 L270.07 50.78 L270.90 49.90 L271.71 49.00 L272.50 48.10 L273.24 47.19 L273.93 46.28 L274.60 45.35 L275.26 44.42 L275.94 43.47 L276.66 42.50 L277.44 41.51 L278.30 40.50 L279.26 39.48 L280.29 38.45 L281.39 37.40 L282.53 36.34 L283.68 35.24 L284.83 34.11 L285.94 32.93 L287.00 31.70 L287.99 30.40 L288.93 29.04 L289.83 27.62 L290.73 26.17 L291.64 24.70 L292.59 23.22 L293.61 21.75 L294.70 20.30 L295.93 18.83 L297.28 17.31 L298.72 15.77 L300.19 14.24 L301.63 12.74 L303.00 11.30 L304.24 9.94 L305.30 8.70 L306.20 7.54 L307.00 6.42 L307.70 5.36 L308.31 4.37 L308.84 3.48 L309.29 2.69 L309.68 2.03 L310.00 1.50" fill="none" stroke="#5151db" stroke-width="0.65"/>
<path d="M205.00 108.11L206.81 104.81L203.19 104.81Z" fill="#1818d0"/>
<path d="M207.57 106.57L209.39 103.27L205.76 103.27Z" fill="#1818d0"/>
<path d="M210.14 105.03L211.96 101.73L208.33 101.73Z" fill="#1818d0"/>
<path d="M212.72 103.48L214.53 100.18L210.90 100.18Z" fill="#1818d0"/>
<path d="M215.29 101.94L217.11 98.64L213.48 98.64Z" fill="#1818d0"/>
<path d="M217.86 100.40L219.68 97.10L216.05 97.10Z" fill="#1818d0"/>
<path d="M220.44 98.86L222.26 95.56L218.63 95.56Z" fill="#1818d0"/>
<path d="M223.01 97.32L224.83 94.02L221.20 94.02Z" fill="#1818d0"/>
<path d="M225.58 95.76L227.39 92.46L223.76 92.46Z" fill="#1818d0"/>
<path d="M228.15 94.22L229.97 90.92L226.34 90.92Z" fill="#1818d0"/>
<path d="M230.66 92.57L232.47 89.27L228.84 89.27Z" fill="#1818d0"/>
<path d="M232.90 90.59L234.72 87.29L231.09 87.29Z" fill="#1818d0"/>
<path d="M234.94 88.38L236.75 85.08L233.12 85.08Z" fill="#1818d0"/>
<path d="M239.63 83.19L241.45 79.89L237.82 79.89Z" fill="#1818d0"/>
<path d="M244.99 78.32L246.81 75.02L243.18 75.02Z" fill="#1818d0"/>
<path d="M250.53 72.79L252.34 69.49L248.71 69.49Z" fill="#1818d0"/>
<path d="M256.52 66.81L258.34 63.51L254.71 63.51Z" fill="#1818d0"/>
<path d="M262.89 60.23L264.71 56.93L261.08 56.93Z" fill="#1818d0"/>
<path d="M269.67 53.01L271.48 49.71L267.85 49.71Z" fill="#1818d0"/>
<path d="M276.38 44.69L278.20 41.39L274.57 41.39Z" fill="#1818d0"/>
<path d="M284.39 36.36L286.20 33.06L282.57 33.06Z" fill="#1818d0"/>
<path d="M291.78 26.31L293.59 23.01L289.96 23.01Z" fill="#1818d0"/>
<path d="M300.33 15.90L302.15 12.60L298.52 12.60Z" fill="#1818d0"/>
<path d="M308.77 5.42L310.58 2.12L306.95 2.12Z" fill="#1818d0"/>
<path d="M205.50 106.00 L205.52 105.60 L205.56 105.05 L205.59 104.40 L205.64 103.69 L205.68 102.95 L205.72 102.23 L205.77 101.56 L205.80 101.00 L205.82 100.54 L205.83 100.13 L205.83 99.77 L205.83 99.44 L205.84 99.11 L205.87 98.77 L205.92 98.41 L206.00 98.00 L206.11 97.55 L206.25 97.07 L206.41 96.57 L206.59 96.06 L206.78 95.54 L206.98 95.02 L207.19 94.51 L207.40 94.00 L207.62 93.49 L207.87 92.98 L208.12 92.46 L208.39 91.94 L208.65 91.43 L208.91 90.93 L209.17 90.45 L209.40 90.00 L209.61 89.58 L209.81 89.19 L209.99 88.82 L210.18 88.46 L210.36 88.11 L210.55 87.75 L210.76 87.39 L211.00 87.00 L211.25 86.60 L211.49 86.19 L211.74 85.78 L212.01 85.36 L212.30 84.94 L212.63 84.50 L212.99 84.06 L213.40 83.60 L213.87 83.14 L214.41 82.67 L214.99 82.20 L215.60 81.71 L216.22 81.21 L216.84 80.70 L217.44 80.16 L218.00 79.60 L218.52 79.01 L219.00 78.39 L219.47 77.75 L219.94 77.09 L220.41 76.42 L220.90 75.74 L221.43 75.07 L222.00 74.40 L222.62 73.73 L223.26 73.06 L223.93 72.39 L224.62 71.71 L225.34 71.03 L226.08 70.35 L226.83 69.68 L227.60 69.00 L228.39 68.32 L229.20 67.65 L230.03 66.97 L230.88 66.29 L231.75 65.61 L232.62 64.94 L233.51 64.27 L234.40 63.60 L235.30 62.93 L236.21 62.26 L237.13 61.60 L238.06 60.93 L239.01 60.28 L239.96 59.63 L240.92 59.01 L241.90 58.40 L242.88 57.82 L243.88 57.27 L244.88 56.74 L245.89 56.23 L246.92 55.71 L247.96 55.19 L249.02 54.66 L250.10 54.10 L251.20 53.52 L252.32 52.92 L253.46 52.31 L254.61 51.69 L255.78 51.07 L256.95 50.46 L258.12 49.87 L259.30 49.30 L260.48 48.76 L261.67 48.23 L262.87 47.72 L264.07 47.22 L265.28 46.73 L266.48 46.23 L267.69 45.72 L268.90 45.20 L270.11 44.66 L271.32 44.12 L272.54 43.57 L273.76 43.01 L274.98 42.46 L276.19 41.90 L277.40 41.35 L278.60 40.80 L279.79 40.26 L280.97 39.73 L282.14 39.21 L283.31 38.69 L284.48 38.16 L285.65 37.62 L286.82 37.07 L288.00 36.50 L289.18 35.92 L290.36 35.35 L291.53 34.76 L292.71 34.17 L293.90 33.55 L295.09 32.91 L296.29 32.23 L297.50 31.50 L298.73 30.73 L299.97 29.92 L301.23 29.07 L302.49 28.20 L303.75 27.30 L305.01 26.38 L306.26 25.45 L307.50 24.50 L308.72 23.54 L309.92 22.57 L311.12 21.58 L312.31 20.58 L313.50 19.54 L314.71 18.49 L315.94 17.41 L317.20 16.30 L318.53 15.12 L319.94 13.86 L321.39 12.55 L322.84 11.23 L324.25 9.93 L325.60 8.69 L326.82 7.53 L327.90 6.50 L328.84 5.57 L329.69 4.69 L330.45 3.88 L331.12 3.14 L331.71 2.47 L332.21 1.89 L332.64 1.39 L333.00 1.00" fill="none" stroke="#444444" stroke-width="0.65"/>
<rect x="204.15" y="99.35" width="3.30" height="3.30" fill="#111111"/>
<rect x="204.35" y="96.35" width="3.30" height="3.30" fill="#111111"/>
<rect x="205.75" y="92.35" width="3.30" height="3.30" fill="#111111"/>
<rect x="207.75" y="88.35" width="3.30" height="3.30" fill="#111111"/>
<rect x="209.35" y="85.35" width="3.30" height="3.30" fill="#111111"/>
<rect x="211.75" y="81.95" width="3.30" height="3.30" fill="#111111"/>
<rect x="216.35" y="77.95" width="3.30" height="3.30" fill="#111111"/>
<rect x="220.35" y="72.75" width="3.30" height="3.30" fill="#111111"/>
<rect x="225.95" y="67.35" width="3.30" height="3.30" fill="#111111"/>
<rect x="232.75" y="61.95" width="3.30" height="3.30" fill="#111111"/>
<rect x="240.25" y="56.75" width="3.30" height="3.30" fill="#111111"/>
<rect x="248.45" y="52.45" width="3.30" height="3.30" fill="#111111"/>
<rect x="257.65" y="47.65" width="3.30" height="3.30" fill="#111111"/>
<rect x="267.25" y="43.55" width="3.30" height="3.30" fill="#111111"/>
<rect x="276.95" y="39.15" width="3.30" height="3.30" fill="#111111"/>
<rect x="286.35" y="34.85" width="3.30" height="3.30" fill="#111111"/>
<rect x="295.85" y="29.85" width="3.30" height="3.30" fill="#111111"/>
<rect x="305.85" y="22.85" width="3.30" height="3.30" fill="#111111"/>
<rect x="315.55" y="14.65" width="3.30" height="3.30" fill="#111111"/>
<rect x="326.25" y="4.85" width="3.30" height="3.30" fill="#111111"/>
</g>
<rect x="199.7" y="2.4" width="140.10000000000002" height="111.0" fill="none" stroke="#2a2a2a" stroke-width="1"/>
<line x1="199.7" y1="2.10" x2="201.7" y2="2.10" stroke="#333" stroke-width="0.8"/>
<text x="197.00" y="4.00" font-size="6.0" fill="#151515" text-anchor="end" font-weight="bold" stroke="#151515" stroke-width="0.15">-100</text>
<line x1="199.7" y1="22.90" x2="201.7" y2="22.90" stroke="#333" stroke-width="0.8"/>
<text x="197.00" y="24.80" font-size="6.0" fill="#151515" text-anchor="end" font-weight="bold" stroke="#151515" stroke-width="0.15">-80</text>
<line x1="199.7" y1="43.70" x2="201.7" y2="43.70" stroke="#333" stroke-width="0.8"/>
<text x="197.00" y="45.60" font-size="6.0" fill="#151515" text-anchor="end" font-weight="bold" stroke="#151515" stroke-width="0.15">-60</text>
<line x1="199.7" y1="64.50" x2="201.7" y2="64.50" stroke="#333" stroke-width="0.8"/>
<text x="197.00" y="66.40" font-size="6.0" fill="#151515" text-anchor="end" font-weight="bold" stroke="#151515" stroke-width="0.15">-40</text>
<line x1="199.7" y1="85.30" x2="201.7" y2="85.30" stroke="#333" stroke-width="0.8"/>
<text x="197.00" y="87.20" font-size="6.0" fill="#151515" text-anchor="end" font-weight="bold" stroke="#151515" stroke-width="0.15">-20</text>
<line x1="199.7" y1="106.10" x2="201.7" y2="106.10" stroke="#333" stroke-width="0.8"/>
<text x="197.00" y="108.00" font-size="6.0" fill="#151515" text-anchor="end" font-weight="bold" stroke="#151515" stroke-width="0.15">0</text>
<line x1="199.7" y1="12.50" x2="200.89999999999998" y2="12.50" stroke="#333" stroke-width="0.7"/>
<line x1="199.7" y1="33.30" x2="200.89999999999998" y2="33.30" stroke="#333" stroke-width="0.7"/>
<line x1="199.7" y1="54.10" x2="200.89999999999998" y2="54.10" stroke="#333" stroke-width="0.7"/>
<line x1="199.7" y1="74.90" x2="200.89999999999998" y2="74.90" stroke="#333" stroke-width="0.7"/>
<line x1="199.7" y1="95.70" x2="200.89999999999998" y2="95.70" stroke="#333" stroke-width="0.7"/>
<line x1="205.30" y1="113.4" x2="205.30" y2="111.4" stroke="#333" stroke-width="0.8"/>
<text x="205.30" y="121.00" font-size="6.0" fill="#151515" text-anchor="middle" font-weight="bold" stroke="#151515" stroke-width="0.15">0</text>
<line x1="227.56" y1="113.4" x2="227.56" y2="111.4" stroke="#333" stroke-width="0.8"/>
<text x="227.56" y="121.00" font-size="6.0" fill="#151515" text-anchor="middle" font-weight="bold" stroke="#151515" stroke-width="0.15">20</text>
<line x1="249.82" y1="113.4" x2="249.82" y2="111.4" stroke="#333" stroke-width="0.8"/>
<text x="249.82" y="121.00" font-size="6.0" fill="#151515" text-anchor="middle" font-weight="bold" stroke="#151515" stroke-width="0.15">40</text>
<line x1="272.08" y1="113.4" x2="272.08" y2="111.4" stroke="#333" stroke-width="0.8"/>
<text x="272.08" y="121.00" font-size="6.0" fill="#151515" text-anchor="middle" font-weight="bold" stroke="#151515" stroke-width="0.15">60</text>
<line x1="294.34" y1="113.4" x2="294.34" y2="111.4" stroke="#333" stroke-width="0.8"/>
<text x="294.34" y="121.00" font-size="6.0" fill="#151515" text-anchor="middle" font-weight="bold" stroke="#151515" stroke-width="0.15">80</text>
<line x1="316.60" y1="113.4" x2="316.60" y2="111.4" stroke="#333" stroke-width="0.8"/>
<text x="316.60" y="121.00" font-size="6.0" fill="#151515" text-anchor="middle" font-weight="bold" stroke="#151515" stroke-width="0.15">100</text>
<line x1="338.86" y1="113.4" x2="338.86" y2="111.4" stroke="#333" stroke-width="0.8"/>
<text x="338.86" y="121.00" font-size="6.0" fill="#151515" text-anchor="middle" font-weight="bold" stroke="#151515" stroke-width="0.15">120</text>
<line x1="216.43" y1="113.4" x2="216.43" y2="112.2" stroke="#333" stroke-width="0.7"/>
<line x1="238.69" y1="113.4" x2="238.69" y2="112.2" stroke="#333" stroke-width="0.7"/>
<line x1="260.95" y1="113.4" x2="260.95" y2="112.2" stroke="#333" stroke-width="0.7"/>
<line x1="283.21" y1="113.4" x2="283.21" y2="112.2" stroke="#333" stroke-width="0.7"/>
<line x1="305.47" y1="113.4" x2="305.47" y2="112.2" stroke="#333" stroke-width="0.7"/>
<line x1="327.73" y1="113.4" x2="327.73" y2="112.2" stroke="#333" stroke-width="0.7"/>
<text x="270.00" y="129.90" font-size="8.6" fill="#1a1a1a" text-anchor="middle" font-weight="bold" >Z' (k Ohm)</text>
<text x="0" y="0" font-size="9.1" fill="#1a1a1a" text-anchor="middle" font-weight="bold" letter-spacing="0.25" transform="translate(178.70,54.00) rotate(-90)">Z'' (k Ohm)</text>
<text x="202.50" y="14.40" font-size="13.5" fill="#262626" text-anchor="start" font-weight="normal" >(b)</text>
<text x="220" y="20.2" font-size="8.0" fill="#cc2234" font-weight="bold" letter-spacing="0.35">Li<tspan dy="3.3" font-size="6.56">7</tspan><tspan dy="-3.3">O</tspan><tspan dy="3.3" font-size="6.56">2</tspan><tspan dy="-3.3">Br</tspan><tspan dy="3.3" font-size="6.56">3</tspan><tspan dy="-3.3">: Li</tspan><tspan dy="3.3" font-size="6.56">3</tspan><tspan dy="-3.3">OBr</tspan></text>
<text x="220" y="34.4" font-size="8.0" fill="#cc2234" font-weight="bold" letter-spacing="0.35">14 w%</text>
<line x1="311" y1="53.70" x2="320" y2="53.70" stroke="#111111" stroke-width="0.6"/>
<rect x="314.20" y="52.40" width="2.60" height="2.60" fill="#111111"/>
<text x="322.00" y="55.50" font-size="5.0" fill="#111111" text-anchor="start" font-weight="bold" >25 <tspan dy="-1.5" font-size="3.2">o</tspan><tspan dy="1.5">C</tspan></text>
<line x1="311" y1="61.17" x2="320" y2="61.17" stroke="#e8202a" stroke-width="0.6"/>
<circle cx="315.50" cy="61.17" r="1.30" fill="#e8202a"/>
<text x="322.00" y="62.97" font-size="5.0" fill="#e8202a" text-anchor="start" font-weight="bold" >60 <tspan dy="-1.5" font-size="3.2">o</tspan><tspan dy="1.5">C</tspan></text>
<line x1="311" y1="68.64" x2="320" y2="68.64" stroke="#22dd22" stroke-width="0.6"/>
<path d="M315.50 67.21L316.93 69.81L314.07 69.81Z" fill="#22dd22"/>
<text x="322.00" y="70.44" font-size="5.0" fill="#30c030" text-anchor="start" font-weight="bold" >80 <tspan dy="-1.5" font-size="3.2">o</tspan><tspan dy="1.5">C</tspan></text>
<line x1="311" y1="76.11" x2="320" y2="76.11" stroke="#1818d0" stroke-width="0.6"/>
<path d="M315.50 77.54L316.93 74.94L314.07 74.94Z" fill="#1818d0"/>
<text x="322.00" y="77.91" font-size="5.0" fill="#1818d0" text-anchor="start" font-weight="bold" >100 <tspan dy="-1.5" font-size="3.2">o</tspan><tspan dy="1.5">C</tspan></text>
<line x1="311" y1="83.58" x2="320" y2="83.58" stroke="#22e0f0" stroke-width="0.6"/>
<path d="M315.50 82.02L317.06 83.58L315.50 85.14L313.94 83.58Z" fill="#22e0f0"/>
<text x="322.00" y="85.38" font-size="5.0" fill="#30d8e8" text-anchor="start" font-weight="bold" >120 <tspan dy="-1.5" font-size="3.2">o</tspan><tspan dy="1.5">C</tspan></text>
<line x1="311" y1="91.05" x2="320" y2="91.05" stroke="#e020e0" stroke-width="0.6"/>
<path d="M314.07 91.05L316.67 89.62L316.67 92.48Z" fill="#e020e0"/>
<text x="322.00" y="92.85" font-size="5.0" fill="#e020e0" text-anchor="start" font-weight="bold" >140 <tspan dy="-1.5" font-size="3.2">o</tspan><tspan dy="1.5">C</tspan></text>
<line x1="311" y1="98.52" x2="320" y2="98.52" stroke="#f2ee58" stroke-width="0.6"/>
<path d="M316.93 98.52L314.33 97.09L314.33 99.95Z" fill="#f2ee58"/>
<text x="322.00" y="100.32" font-size="5.0" fill="#e8e060" text-anchor="start" font-weight="bold" >160 <tspan dy="-1.5" font-size="3.2">o</tspan><tspan dy="1.5">C</tspan></text>
<line x1="311" y1="105.99" x2="320" y2="105.99" stroke="#206878" stroke-width="0.6"/>
<circle cx="315.50" cy="105.99" r="0.78" fill="#206878"/>
<text x="322.00" y="107.79" font-size="5.0" fill="#206878" text-anchor="start" font-weight="bold" >180 <tspan dy="-1.5" font-size="3.2">o</tspan><tspan dy="1.5">C</tspan></text>
<clipPath id="cc"><rect x="375.6" y="2.4" width="140.0" height="111.0"/></clipPath>
<g clip-path="url(#cc)">
<path d="M378.00 110.50 L378.19 110.00 L378.45 109.32 L378.75 108.52 L379.09 107.62 L379.45 106.69 L379.82 105.74 L380.17 104.83 L380.50 104.00 L380.81 103.22 L381.11 102.44 L381.42 101.67 L381.72 100.91 L382.03 100.15 L382.34 99.42 L382.66 98.70 L383.00 98.00 L383.35 97.32 L383.71 96.67 L384.09 96.03 L384.47 95.41 L384.85 94.79 L385.24 94.19 L385.62 93.59 L386.00 93.00 L386.38 92.40 L386.77 91.78 L387.16 91.17 L387.55 90.56 L387.93 89.98 L388.31 89.44 L388.66 88.94 L389.00 88.50 L389.31 88.14 L389.60 87.85 L389.87 87.62 L390.14 87.42 L390.40 87.24 L390.65 87.03 L390.92 86.80 L391.20 86.50 L391.49 86.16 L391.79 85.79 L392.09 85.41 L392.39 85.00 L392.69 84.58 L393.00 84.13 L393.30 83.67 L393.60 83.20 L393.90 82.71 L394.20 82.20 L394.49 81.67 L394.79 81.13 L395.09 80.57 L395.39 80.00 L395.69 79.41 L396.00 78.80 L396.31 78.18 L396.63 77.55 L396.95 76.90 L397.27 76.24 L397.59 75.56 L397.92 74.86 L398.26 74.14 L398.60 73.40 L398.94 72.65 L399.29 71.88 L399.64 71.10 L399.99 70.30 L400.36 69.47 L400.73 68.62 L401.11 67.73 L401.50 66.80 L401.91 65.83 L402.33 64.83 L402.76 63.80 L403.19 62.74 L403.64 61.64 L404.09 60.52 L404.54 59.37 L405.00 58.20 L405.46 57.00 L405.91 55.77 L406.38 54.51 L406.84 53.23 L407.32 51.91 L407.80 50.57 L408.29 49.20 L408.80 47.80 L409.32 46.38 L409.84 44.95 L410.38 43.49 L410.92 42.00 L411.47 40.47 L412.04 38.90 L412.61 37.28 L413.20 35.60 L413.80 33.87 L414.40 32.11 L415.01 30.30 L415.63 28.45 L416.27 26.54 L416.92 24.57 L417.60 22.52 L418.30 20.40 L419.07 18.04 L419.94 15.39 L420.85 12.58 L421.77 9.75 L422.65 7.04 L423.44 4.58 L424.11 2.53 L424.60 1.00" fill="none" stroke="#444444" stroke-width="0.65"/>
<rect x="389.55" y="84.85" width="3.30" height="3.30" fill="#111111"/>
<rect x="391.95" y="81.55" width="3.30" height="3.30" fill="#111111"/>
<rect x="394.35" y="77.15" width="3.30" height="3.30" fill="#111111"/>
<rect x="396.95" y="71.75" width="3.30" height="3.30" fill="#111111"/>
<rect x="399.85" y="65.15" width="3.30" height="3.30" fill="#111111"/>
<rect x="403.35" y="56.55" width="3.30" height="3.30" fill="#111111"/>
<rect x="407.15" y="46.15" width="3.30" height="3.30" fill="#111111"/>
<rect x="411.55" y="33.95" width="3.30" height="3.30" fill="#111111"/>
<rect x="416.65" y="18.75" width="3.30" height="3.30" fill="#111111"/>
<path d="M378.00 110.50 L378.15 110.15 L378.35 109.69 L378.58 109.14 L378.84 108.53 L379.13 107.89 L379.42 107.23 L379.71 106.59 L380.00 106.00 L380.29 105.43 L380.59 104.85 L380.90 104.27 L381.22 103.69 L381.54 103.11 L381.86 102.55 L382.18 102.01 L382.50 101.50 L382.83 100.99 L383.18 100.47 L383.55 99.96 L383.91 99.47 L384.25 99.01 L384.55 98.61 L384.81 98.26 L385.00 98.00" fill="none" stroke="#e757e7" stroke-width="0.65"/>
<path d="M376.19 110.50L379.49 108.69L379.49 112.31Z" fill="#e020e0"/>
<path d="M377.17 108.20L380.47 106.39L380.47 110.02Z" fill="#e020e0"/>
<path d="M378.22 105.93L381.52 104.12L381.52 107.75Z" fill="#e020e0"/>
<path d="M379.38 103.72L382.68 101.91L382.68 105.54Z" fill="#e020e0"/>
<path d="M380.65 101.56L383.95 99.75L383.95 103.38Z" fill="#e020e0"/>
<path d="M382.06 99.51L385.36 97.69L385.36 101.32Z" fill="#e020e0"/>
<path d="M378.00 110.50 L378.54 110.23 L379.26 109.88 L380.11 109.45 L381.06 108.98 L382.07 108.48 L383.09 107.97 L384.08 107.47 L385.00 107.00 L385.88 106.54 L386.76 106.08 L387.65 105.61 L388.53 105.14 L389.41 104.67 L390.29 104.20 L391.15 103.74 L392.00 103.30 L392.84 102.87 L393.66 102.44 L394.47 102.03 L395.28 101.62 L396.08 101.21 L396.89 100.81 L397.69 100.40 L398.50 100.00 L399.32 99.61 L400.15 99.23 L400.98 98.86 L401.81 98.49 L402.63 98.11 L403.44 97.70 L404.23 97.27 L405.00 96.80 L405.75 96.27 L406.49 95.70 L407.21 95.08 L407.92 94.45 L408.61 93.82 L409.29 93.20 L409.95 92.63 L410.60 92.10 L411.22 91.63 L411.81 91.19 L412.38 90.77 L412.93 90.38 L413.48 90.00 L414.04 89.64 L414.61 89.27 L415.20 88.90 L415.82 88.52 L416.47 88.15 L417.14 87.78 L417.81 87.41 L418.47 87.06 L419.11 86.72 L419.73 86.40 L420.30 86.10 L420.83 85.83 L421.34 85.59 L421.81 85.38 L422.27 85.17 L422.71 84.97 L423.14 84.77 L423.57 84.55 L424.00 84.30 L424.42 84.03 L424.83 83.75 L425.23 83.46 L425.62 83.16 L426.01 82.85 L426.40 82.54 L426.80 82.22 L427.20 81.90 L427.60 81.58 L427.99 81.25 L428.38 80.92 L428.77 80.59 L429.17 80.25 L429.59 79.90 L430.03 79.55 L430.50 79.20 L431.01 78.84 L431.54 78.49 L432.10 78.13 L432.68 77.77 L433.27 77.40 L433.85 77.01 L434.43 76.62 L435.00 76.20 L435.55 75.76 L436.10 75.29 L436.65 74.80 L437.20 74.31 L437.75 73.81 L438.30 73.32 L438.85 72.85 L439.40 72.40 L439.95 71.99 L440.49 71.62 L441.04 71.27 L441.58 70.92 L442.13 70.56 L442.70 70.19 L443.29 69.77 L443.90 69.30 L444.54 68.78 L445.20 68.22 L445.88 67.62 L446.58 67.00 L447.29 66.36 L447.99 65.71 L448.70 65.05 L449.40 64.40 L450.09 63.74 L450.77 63.05 L451.45 62.36 L452.13 61.65 L452.82 60.94 L453.53 60.25 L454.25 59.56 L455.00 58.90 L455.77 58.27 L456.55 57.66 L457.35 57.07 L458.16 56.48 L458.99 55.89 L459.84 55.29 L460.71 54.66 L461.60 54.00 L462.52 53.31 L463.46 52.61 L464.42 51.89 L465.41 51.15 L466.40 50.39 L467.40 49.62 L468.40 48.82 L469.40 48.00 L470.39 47.16 L471.38 46.29 L472.38 45.40 L473.37 44.49 L474.38 43.57 L475.40 42.63 L476.44 41.67 L477.50 40.70 L478.56 39.73 L479.63 38.76 L480.70 37.78 L481.79 36.77 L482.90 35.75 L484.05 34.68 L485.25 33.57 L486.50 32.40 L487.81 31.16 L489.18 29.86 L490.59 28.51 L492.04 27.12 L493.51 25.72 L495.00 24.30 L496.50 22.89 L498.00 21.50 L499.58 20.06 L501.28 18.52 L503.04 16.94 L504.79 15.38 L506.46 13.89 L508.00 12.53 L509.34 11.34 L510.40 10.40 L511.17 9.72 L511.70 9.25 L512.03 8.96 L512.22 8.81 L512.32 8.73 L512.36 8.71 L512.41 8.68 L512.50 8.60" fill="none" stroke="#59e559" stroke-width="0.65"/>
<path d="M378.00 108.69L379.81 111.98L376.19 111.98Z" fill="#22dd22"/>
<path d="M380.96 107.22L382.77 110.52L379.14 110.52Z" fill="#22dd22"/>
<path d="M383.91 105.74L385.72 109.04L382.09 109.04Z" fill="#22dd22"/>
<path d="M386.84 104.22L388.65 107.52L385.02 107.52Z" fill="#22dd22"/>
<path d="M389.75 102.67L391.56 105.97L387.93 105.97Z" fill="#22dd22"/>
<path d="M392.67 101.14L394.49 104.44L390.86 104.44Z" fill="#22dd22"/>
<path d="M395.61 99.64L397.43 102.94L393.80 102.94Z" fill="#22dd22"/>
<path d="M398.56 98.16L400.37 101.46L396.74 101.46Z" fill="#22dd22"/>
<path d="M401.56 96.78L403.37 100.08L399.74 100.08Z" fill="#22dd22"/>
<path d="M404.50 95.29L406.32 98.59L402.69 98.59Z" fill="#22dd22"/>
<path d="M407.14 93.32L408.96 96.62L405.33 96.62Z" fill="#22dd22"/>
<path d="M409.60 91.12L411.42 94.42L407.79 94.42Z" fill="#22dd22"/>
<path d="M412.20 89.09L414.01 92.39L410.38 92.39Z" fill="#22dd22"/>
<path d="M414.94 87.25L416.75 90.55L413.12 90.55Z" fill="#22dd22"/>
<path d="M417.80 85.61L419.62 88.91L415.99 88.91Z" fill="#22dd22"/>
<path d="M424.00 82.48L425.81 85.78L422.19 85.78Z" fill="#22dd22"/>
<path d="M427.20 80.09L429.01 83.39L425.38 83.39Z" fill="#22dd22"/>
<path d="M430.50 77.39L432.31 80.69L428.69 80.69Z" fill="#22dd22"/>
<path d="M435.00 74.39L436.81 77.69L433.19 77.69Z" fill="#22dd22"/>
<path d="M439.40 70.59L441.21 73.89L437.58 73.89Z" fill="#22dd22"/>
<path d="M443.90 67.48L445.71 70.78L442.08 70.78Z" fill="#22dd22"/>
<path d="M449.50 62.98L451.31 66.28L447.69 66.28Z" fill="#22dd22"/>
<path d="M455.20 57.79L457.01 61.09L453.38 61.09Z" fill="#22dd22"/>
<path d="M461.60 52.09L463.42 55.38L459.79 55.38Z" fill="#22dd22"/>
<path d="M469.40 46.19L471.21 49.48L467.58 49.48Z" fill="#22dd22"/>
<path d="M477.50 38.89L479.31 42.19L475.69 42.19Z" fill="#22dd22"/>
<path d="M486.50 30.58L488.31 33.88L484.69 33.88Z" fill="#22dd22"/>
<path d="M498.00 19.68L499.81 22.98L496.19 22.98Z" fill="#22dd22"/>
<path d="M510.40 8.59L512.22 11.88L508.58 11.88Z" fill="#22dd22"/>
<path d="M378.00 110.50 L378.54 110.14 L379.26 109.66 L380.11 109.09 L381.06 108.45 L382.07 107.78 L383.09 107.09 L384.08 106.42 L385.00 105.80 L385.88 105.20 L386.76 104.60 L387.65 103.99 L388.53 103.39 L389.41 102.78 L390.29 102.18 L391.15 101.59 L392.00 101.00 L392.84 100.42 L393.66 99.85 L394.47 99.29 L395.28 98.72 L396.08 98.17 L396.89 97.61 L397.69 97.06 L398.50 96.50 L399.33 95.93 L400.19 95.33 L401.06 94.73 L401.93 94.13 L402.77 93.56 L403.57 93.01 L404.32 92.52 L405.00 92.10 L405.60 91.75 L406.13 91.47 L406.61 91.23 L407.06 91.04 L407.47 90.86 L407.88 90.69 L408.28 90.51 L408.70 90.30 L409.12 90.08 L409.53 89.86 L409.92 89.65 L410.31 89.43 L410.69 89.21 L411.08 88.99 L411.48 88.75 L411.90 88.50 L412.36 88.22 L412.86 87.91 L413.38 87.57 L413.90 87.24 L414.40 86.92 L414.84 86.62 L415.22 86.38 L415.50 86.20" fill="none" stroke="#5151db" stroke-width="0.65"/>
<path d="M378.00 112.31L379.81 109.02L376.19 109.02Z" fill="#1818d0"/>
<path d="M380.49 110.65L382.31 107.35L378.68 107.35Z" fill="#1818d0"/>
<path d="M382.98 108.98L384.80 105.68L381.17 105.68Z" fill="#1818d0"/>
<path d="M385.47 107.30L387.29 104.00L383.66 104.00Z" fill="#1818d0"/>
<path d="M387.95 105.60L389.76 102.30L386.13 102.30Z" fill="#1818d0"/>
<path d="M390.42 103.90L392.23 100.60L388.60 100.60Z" fill="#1818d0"/>
<path d="M392.89 102.20L394.70 98.90L391.07 98.90Z" fill="#1818d0"/>
<path d="M395.35 100.49L397.17 97.19L393.54 97.19Z" fill="#1818d0"/>
<path d="M397.82 98.78L399.64 95.48L396.01 95.48Z" fill="#1818d0"/>
<path d="M400.29 97.08L402.10 93.78L398.47 93.78Z" fill="#1818d0"/>
<path d="M402.76 95.38L404.57 92.08L400.94 92.08Z" fill="#1818d0"/>
<path d="M405.28 93.75L407.10 90.45L403.47 90.45Z" fill="#1818d0"/>
<path d="M407.98 92.46L409.80 89.16L406.17 89.16Z" fill="#1818d0"/>
<path d="M410.64 91.06L412.45 87.76L408.82 87.76Z" fill="#1818d0"/>
<path d="M413.20 89.50L415.02 86.20L411.39 86.20Z" fill="#1818d0"/>
<path d="M378.00 110.50 L378.46 110.03 L379.08 109.40 L379.81 108.65 L380.62 107.81 L381.49 106.94 L382.36 106.07 L383.21 105.24 L384.00 104.50 L384.75 103.83 L385.50 103.20 L386.25 102.58 L387.00 101.98 L387.75 101.38 L388.50 100.78 L389.25 100.15 L390.00 99.50 L390.75 98.82 L391.51 98.13 L392.27 97.42 L393.03 96.70 L393.79 95.98 L394.54 95.25 L395.27 94.52 L396.00 93.80 L396.72 93.07 L397.45 92.31 L398.17 91.55 L398.88 90.79 L399.58 90.05 L400.25 89.33 L400.89 88.64 L401.50 88.00 L402.07 87.42 L402.59 86.89 L403.09 86.39 L403.57 85.92 L404.03 85.46 L404.48 84.99 L404.94 84.51 L405.40 84.00 L405.87 83.46 L406.32 82.90 L406.78 82.33 L407.22 81.75 L407.67 81.17 L408.11 80.60 L408.56 80.04 L409.00 79.50 L409.44 78.98 L409.88 78.48 L410.32 77.99 L410.76 77.50 L411.19 77.01 L411.63 76.52 L412.06 76.02 L412.50 75.50 L412.93 74.97 L413.35 74.43 L413.77 73.89 L414.19 73.34 L414.61 72.78 L415.05 72.21 L415.51 71.61 L416.00 71.00 L416.51 70.37 L417.05 69.71 L417.60 69.04 L418.17 68.36 L418.75 67.66 L419.33 66.95 L419.92 66.23 L420.50 65.50 L421.08 64.77 L421.66 64.03 L422.24 63.28 L422.83 62.52 L423.42 61.75 L424.03 60.96 L424.65 60.14 L425.30 59.30 L426.01 58.37 L426.80 57.34 L427.62 56.25 L428.45 55.16 L429.24 54.12 L429.95 53.18 L430.55 52.39 L431.00 51.80" fill="none" stroke="#59e7f3" stroke-width="0.65"/>
<path d="M378.00 108.52L379.98 110.50L378.00 112.48L376.02 110.50Z" fill="#22e0f0"/>
<path d="M380.45 106.02L382.43 108.00L380.45 109.98L378.47 108.00Z" fill="#22e0f0"/>
<path d="M382.92 103.54L384.90 105.52L382.92 107.50L380.94 105.52Z" fill="#22e0f0"/>
<path d="M385.52 101.20L387.50 103.18L385.52 105.16L383.54 103.18Z" fill="#22e0f0"/>
<path d="M388.24 99.00L390.22 100.98L388.24 102.96L386.26 100.98Z" fill="#22e0f0"/>
<path d="M390.89 96.71L392.87 98.69L390.89 100.67L388.91 98.69Z" fill="#22e0f0"/>
<path d="M393.45 94.32L395.43 96.30L393.45 98.28L391.47 96.30Z" fill="#22e0f0"/>
<path d="M395.95 91.87L397.93 93.85L395.95 95.83L393.97 93.85Z" fill="#22e0f0"/>
<path d="M398.38 89.35L400.36 91.33L398.38 93.31L396.40 91.33Z" fill="#22e0f0"/>
<path d="M400.77 86.80L402.75 88.78L400.77 90.76L398.79 88.78Z" fill="#22e0f0"/>
<path d="M405.62 81.76L407.60 83.74L405.62 85.72L403.64 83.74Z" fill="#22e0f0"/>
<path d="M410.15 76.19L412.13 78.17L410.15 80.15L408.17 78.17Z" fill="#22e0f0"/>
<path d="M414.94 70.38L416.92 72.36L414.94 74.34L412.96 72.36Z" fill="#22e0f0"/>
<path d="M419.92 64.24L421.90 66.22L419.92 68.20L417.94 66.22Z" fill="#22e0f0"/>
<path d="M425.02 57.68L427.00 59.66L425.02 61.64L423.04 59.66Z" fill="#22e0f0"/>
<path d="M430.30 50.74L432.28 52.72L430.30 54.70L428.32 52.72Z" fill="#22e0f0"/>
<path d="M378.00 110.50 L378.15 110.19 L378.36 109.77 L378.60 109.27 L378.88 108.72 L379.16 108.14 L379.45 107.56 L379.74 107.00 L380.00 106.50 L380.25 106.04 L380.50 105.59 L380.75 105.15 L381.00 104.72 L381.25 104.29 L381.50 103.86 L381.75 103.43 L382.00 103.00 L382.25 102.56 L382.50 102.12 L382.75 101.69 L383.00 101.25 L383.25 100.81 L383.50 100.38 L383.75 99.94 L384.00 99.50 L384.25 99.06 L384.50 98.62 L384.75 98.19 L385.00 97.75 L385.25 97.31 L385.50 96.88 L385.75 96.44 L386.00 96.00 L386.25 95.56 L386.50 95.11 L386.75 94.67 L387.00 94.22 L387.25 93.78 L387.50 93.34 L387.75 92.91 L388.00 92.50 L388.24 92.10 L388.48 91.71 L388.71 91.34 L388.94 90.97 L389.18 90.60 L389.43 90.24 L389.70 89.87 L390.00 89.50 L390.32 89.12 L390.67 88.73 L391.03 88.34 L391.41 87.94 L391.80 87.56 L392.20 87.19 L392.60 86.83 L393.00 86.50 L393.40 86.20 L393.79 85.93 L394.19 85.67 L394.60 85.43 L395.02 85.19 L395.46 84.95 L395.91 84.69 L396.40 84.40 L396.91 84.09 L397.44 83.77 L397.98 83.44 L398.55 83.10 L399.13 82.75 L399.74 82.40 L400.36 82.05 L401.00 81.70 L401.67 81.34 L402.36 80.97 L403.08 80.59 L403.81 80.21 L404.56 79.83 L405.31 79.47 L406.06 79.12 L406.80 78.80 L407.54 78.50 L408.29 78.23 L409.04 77.97 L409.79 77.72 L410.55 77.48 L411.30 77.25 L412.05 77.02 L412.80 76.80 L413.54 76.58 L414.28 76.37 L415.02 76.16 L415.76 75.96 L416.49 75.77 L417.23 75.58 L417.96 75.39 L418.70 75.20 L419.44 75.01 L420.18 74.83 L420.91 74.65 L421.65 74.47 L422.39 74.29 L423.12 74.12 L423.86 73.96 L424.60 73.80 L425.33 73.65 L426.06 73.50 L426.78 73.36 L427.50 73.22 L428.23 73.09 L428.97 72.96 L429.72 72.83 L430.50 72.70 L431.31 72.57 L432.16 72.45 L433.02 72.33 L433.90 72.21 L434.77 72.09 L435.62 71.96 L436.43 71.83 L437.20 71.70 L437.91 71.57 L438.57 71.44 L439.19 71.31 L439.79 71.18 L440.39 71.03 L441.00 70.88 L441.63 70.70 L442.30 70.50 L443.01 70.27 L443.76 70.01 L444.53 69.73 L445.31 69.44 L446.09 69.14 L446.86 68.85 L447.60 68.56 L448.30 68.30 L448.93 68.06 L449.48 67.85 L449.98 67.64 L450.48 67.44 L451.02 67.24 L451.62 67.02 L452.34 66.77 L453.20 66.50 L454.24 66.19 L455.45 65.84 L456.77 65.47 L458.16 65.09 L459.57 64.70 L460.96 64.32 L462.29 63.95 L463.50 63.60 L464.62 63.28 L465.70 62.99 L466.73 62.71 L467.74 62.43 L468.71 62.15 L469.66 61.86 L470.59 61.54 L471.50 61.20 L472.38 60.82 L473.23 60.42 L474.05 59.99 L474.84 59.56 L475.63 59.11 L476.41 58.67 L477.20 58.23 L478.00 57.80 L478.81 57.38 L479.61 56.97 L480.41 56.56 L481.21 56.15 L482.01 55.74 L482.83 55.33 L483.65 54.92 L484.50 54.50 L485.37 54.09 L486.26 53.68 L487.16 53.28 L488.07 52.87 L488.98 52.45 L489.90 52.02 L490.80 51.57 L491.70 51.10 L492.57 50.60 L493.43 50.09 L494.27 49.56 L495.11 49.01 L495.97 48.45 L496.84 47.88 L497.75 47.30 L498.70 46.70 L499.74 46.07 L500.88 45.38 L502.07 44.66 L503.27 43.94 L504.44 43.24 L505.53 42.59 L506.50 42.00 L507.30 41.50 L507.94 41.09 L508.45 40.75 L508.86 40.46 L509.19 40.23 L509.44 40.03 L509.65 39.86 L509.83 39.72 L510.00 39.60" fill="none" stroke="#ed575f" stroke-width="0.65"/>
<circle cx="378.00" cy="110.50" r="1.65" fill="#e8202a"/>
<circle cx="379.10" cy="108.26" r="1.65" fill="#e8202a"/>
<circle cx="380.25" cy="106.04" r="1.65" fill="#e8202a"/>
<circle cx="381.50" cy="103.87" r="1.65" fill="#e8202a"/>
<circle cx="382.74" cy="101.70" r="1.65" fill="#e8202a"/>
<circle cx="383.98" cy="99.53" r="1.65" fill="#e8202a"/>
<circle cx="385.22" cy="97.36" r="1.65" fill="#e8202a"/>
<circle cx="386.46" cy="95.19" r="1.65" fill="#e8202a"/>
<circle cx="387.69" cy="93.01" r="1.65" fill="#e8202a"/>
<circle cx="389.00" cy="90.88" r="1.65" fill="#e8202a"/>
<circle cx="390.53" cy="88.91" r="1.65" fill="#e8202a"/>
<circle cx="392.31" cy="87.16" r="1.65" fill="#e8202a"/>
<circle cx="396.10" cy="84.40" r="1.65" fill="#e8202a"/>
<circle cx="401.70" cy="81.40" r="1.65" fill="#e8202a"/>
<circle cx="407.20" cy="78.70" r="1.65" fill="#e8202a"/>
<circle cx="412.80" cy="76.80" r="1.65" fill="#e8202a"/>
<circle cx="419.00" cy="75.10" r="1.65" fill="#e8202a"/>
<circle cx="425.00" cy="73.70" r="1.65" fill="#e8202a"/>
<circle cx="430.60" cy="72.60" r="1.65" fill="#e8202a"/>
<circle cx="437.20" cy="71.60" r="1.65" fill="#e8202a"/>
<circle cx="442.80" cy="70.40" r="1.65" fill="#e8202a"/>
<circle cx="448.30" cy="68.30" r="1.65" fill="#e8202a"/>
<circle cx="453.20" cy="66.50" r="1.65" fill="#e8202a"/>
<circle cx="463.70" cy="64.30" r="1.65" fill="#e8202a"/>
<circle cx="471.50" cy="61.40" r="1.65" fill="#e8202a"/>
<circle cx="478.00" cy="57.80" r="1.65" fill="#e8202a"/>
<circle cx="484.50" cy="54.50" r="1.65" fill="#e8202a"/>
<circle cx="491.70" cy="51.10" r="1.65" fill="#e8202a"/>
<circle cx="498.70" cy="46.70" r="1.65" fill="#e8202a"/>
<circle cx="507.30" cy="41.50" r="1.65" fill="#e8202a"/>
<path d="M376.30 110.50 L376.41 110.35 L376.56 110.15 L376.74 109.92 L376.94 109.66 L377.16 109.37 L377.38 109.08 L377.59 108.79 L377.80 108.50 L378.01 108.19 L378.25 107.85 L378.50 107.49 L378.74 107.12 L378.98 106.78 L379.19 106.46 L379.37 106.20 L379.50 106.00" fill="none" stroke="#f5f281" stroke-width="2.0"/>
<path d="M378.17 110.50L374.77 108.63L374.77 112.37Z" fill="#f2ee58"/>
<path d="M379.08 109.31L375.68 107.44L375.68 111.18Z" fill="#f2ee58"/>
<path d="M379.96 108.09L376.56 106.22L376.56 109.96Z" fill="#f2ee58"/>
<path d="M380.80 106.85L377.40 104.98L377.40 108.72Z" fill="#f2ee58"/>
</g>
<rect x="375.6" y="2.4" width="140.0" height="111.0" fill="none" stroke="#2a2a2a" stroke-width="1"/>
<line x1="375.6" y1="2.10" x2="377.6" y2="2.10" stroke="#333" stroke-width="0.8"/>
<text x="373.00" y="4.00" font-size="6.0" fill="#151515" text-anchor="end" font-weight="bold" stroke="#151515" stroke-width="0.15">-500</text>
<line x1="375.6" y1="23.80" x2="377.6" y2="23.80" stroke="#333" stroke-width="0.8"/>
<text x="373.00" y="25.70" font-size="6.0" fill="#151515" text-anchor="end" font-weight="bold" stroke="#151515" stroke-width="0.15">-400</text>
<line x1="375.6" y1="45.50" x2="377.6" y2="45.50" stroke="#333" stroke-width="0.8"/>
<text x="373.00" y="47.40" font-size="6.0" fill="#151515" text-anchor="end" font-weight="bold" stroke="#151515" stroke-width="0.15">-300</text>
<line x1="375.6" y1="67.20" x2="377.6" y2="67.20" stroke="#333" stroke-width="0.8"/>
<text x="373.00" y="69.10" font-size="6.0" fill="#151515" text-anchor="end" font-weight="bold" stroke="#151515" stroke-width="0.15">-200</text>
<line x1="375.6" y1="88.90" x2="377.6" y2="88.90" stroke="#333" stroke-width="0.8"/>
<text x="373.00" y="90.80" font-size="6.0" fill="#151515" text-anchor="end" font-weight="bold" stroke="#151515" stroke-width="0.15">-100</text>
<line x1="375.6" y1="110.60" x2="377.6" y2="110.60" stroke="#333" stroke-width="0.8"/>
<text x="373.00" y="112.50" font-size="6.0" fill="#151515" text-anchor="end" font-weight="bold" stroke="#151515" stroke-width="0.15">0</text>
<line x1="375.6" y1="12.95" x2="376.8" y2="12.95" stroke="#333" stroke-width="0.7"/>
<line x1="375.6" y1="34.65" x2="376.8" y2="34.65" stroke="#333" stroke-width="0.7"/>
<line x1="375.6" y1="56.35" x2="376.8" y2="56.35" stroke="#333" stroke-width="0.7"/>
<line x1="375.6" y1="78.05" x2="376.8" y2="78.05" stroke="#333" stroke-width="0.7"/>
<line x1="375.6" y1="99.75" x2="376.8" y2="99.75" stroke="#333" stroke-width="0.7"/>
<line x1="378.00" y1="113.4" x2="378.00" y2="111.4" stroke="#333" stroke-width="0.8"/>
<text x="378.00" y="121.00" font-size="6.0" fill="#151515" text-anchor="middle" font-weight="bold" stroke="#151515" stroke-width="0.15">0</text>
<line x1="400.72" y1="113.4" x2="400.72" y2="111.4" stroke="#333" stroke-width="0.8"/>
<text x="400.72" y="121.00" font-size="6.0" fill="#151515" text-anchor="middle" font-weight="bold" stroke="#151515" stroke-width="0.15">100</text>
<line x1="423.44" y1="113.4" x2="423.44" y2="111.4" stroke="#333" stroke-width="0.8"/>
<text x="423.44" y="121.00" font-size="6.0" fill="#151515" text-anchor="middle" font-weight="bold" stroke="#151515" stroke-width="0.15">200</text>
<line x1="446.16" y1="113.4" x2="446.16" y2="111.4" stroke="#333" stroke-width="0.8"/>
<text x="446.16" y="121.00" font-size="6.0" fill="#151515" text-anchor="middle" font-weight="bold" stroke="#151515" stroke-width="0.15">300</text>
<line x1="468.88" y1="113.4" x2="468.88" y2="111.4" stroke="#333" stroke-width="0.8"/>
<text x="468.88" y="121.00" font-size="6.0" fill="#151515" text-anchor="middle" font-weight="bold" stroke="#151515" stroke-width="0.15">400</text>
<line x1="491.60" y1="113.4" x2="491.60" y2="111.4" stroke="#333" stroke-width="0.8"/>
<text x="491.60" y="121.00" font-size="6.0" fill="#151515" text-anchor="middle" font-weight="bold" stroke="#151515" stroke-width="0.15">500</text>
<line x1="514.32" y1="113.4" x2="514.32" y2="111.4" stroke="#333" stroke-width="0.8"/>
<text x="514.32" y="121.00" font-size="6.0" fill="#151515" text-anchor="middle" font-weight="bold" stroke="#151515" stroke-width="0.15">600</text>
<line x1="389.36" y1="113.4" x2="389.36" y2="112.2" stroke="#333" stroke-width="0.7"/>
<line x1="412.08" y1="113.4" x2="412.08" y2="112.2" stroke="#333" stroke-width="0.7"/>
<line x1="434.80" y1="113.4" x2="434.80" y2="112.2" stroke="#333" stroke-width="0.7"/>
<line x1="457.52" y1="113.4" x2="457.52" y2="112.2" stroke="#333" stroke-width="0.7"/>
<line x1="480.24" y1="113.4" x2="480.24" y2="112.2" stroke="#333" stroke-width="0.7"/>
<line x1="502.96" y1="113.4" x2="502.96" y2="112.2" stroke="#333" stroke-width="0.7"/>
<text x="445.50" y="129.90" font-size="8.6" fill="#1a1a1a" text-anchor="middle" font-weight="bold" >Z' (k Ohm)</text>
<text x="0" y="0" font-size="9.1" fill="#1a1a1a" text-anchor="middle" font-weight="bold" letter-spacing="0.25" transform="translate(354.70,54.00) rotate(-90)">Z'' (k Ohm)</text>
<text x="378.30" y="14.40" font-size="13.5" fill="#262626" text-anchor="start" font-weight="normal" >(c)</text>
<text x="395.6" y="20.2" font-size="8.0" fill="#cc2234" font-weight="bold" letter-spacing="0.35">Li<tspan dy="3.3" font-size="6.56">7</tspan><tspan dy="-3.3">O</tspan><tspan dy="3.3" font-size="6.56">2</tspan><tspan dy="-3.3">Br</tspan><tspan dy="3.3" font-size="6.56">3</tspan><tspan dy="-3.3">: Li</tspan><tspan dy="3.3" font-size="6.56">3</tspan><tspan dy="-3.3">OBr</tspan></text>
<text x="395.6" y="34.4" font-size="8.0" fill="#cc2234" font-weight="bold" letter-spacing="0.35">39 w%</text>
<line x1="482.5" y1="62.00" x2="491.7" y2="62.00" stroke="#111111" stroke-width="0.6"/>
<rect x="485.80" y="60.70" width="2.60" height="2.60" fill="#111111"/>
<text x="493.80" y="63.80" font-size="5.0" fill="#111111" text-anchor="start" font-weight="bold" >25 <tspan dy="-1.5" font-size="3.2">o</tspan><tspan dy="1.5">C</tspan></text>
<line x1="482.5" y1="69.45" x2="491.7" y2="69.45" stroke="#e8202a" stroke-width="0.6"/>
<circle cx="487.10" cy="69.45" r="1.30" fill="#e8202a"/>
<text x="493.80" y="71.25" font-size="5.0" fill="#e8202a" text-anchor="start" font-weight="bold" >60 <tspan dy="-1.5" font-size="3.2">o</tspan><tspan dy="1.5">C</tspan></text>
<line x1="482.5" y1="76.90" x2="491.7" y2="76.90" stroke="#22dd22" stroke-width="0.6"/>
<path d="M487.10 75.47L488.53 78.07L485.67 78.07Z" fill="#22dd22"/>
<text x="493.80" y="78.70" font-size="5.0" fill="#30c030" text-anchor="start" font-weight="bold" >80 <tspan dy="-1.5" font-size="3.2">o</tspan><tspan dy="1.5">C</tspan></text>
<line x1="482.5" y1="84.35" x2="491.7" y2="84.35" stroke="#1818d0" stroke-width="0.6"/>
<path d="M487.10 85.78L488.53 83.18L485.67 83.18Z" fill="#1818d0"/>
<text x="493.80" y="86.15" font-size="5.0" fill="#1818d0" text-anchor="start" font-weight="bold" >100 <tspan dy="-1.5" font-size="3.2">o</tspan><tspan dy="1.5">C</tspan></text>
<line x1="482.5" y1="91.80" x2="491.7" y2="91.80" stroke="#22e0f0" stroke-width="0.6"/>
<path d="M487.10 90.24L488.66 91.80L487.10 93.36L485.54 91.80Z" fill="#22e0f0"/>
<text x="493.80" y="93.60" font-size="5.0" fill="#30d8e8" text-anchor="start" font-weight="bold" >120 <tspan dy="-1.5" font-size="3.2">o</tspan><tspan dy="1.5">C</tspan></text>
<line x1="482.5" y1="99.25" x2="491.7" y2="99.25" stroke="#e020e0" stroke-width="0.6"/>
<path d="M485.67 99.25L488.27 97.82L488.27 100.68Z" fill="#e020e0"/>
<text x="493.80" y="101.05" font-size="5.0" fill="#e020e0" text-anchor="start" font-weight="bold" >140 <tspan dy="-1.5" font-size="3.2">o</tspan><tspan dy="1.5">C</tspan></text>
<line x1="482.5" y1="106.70" x2="491.7" y2="106.70" stroke="#f2ee58" stroke-width="0.6"/>
<path d="M488.53 106.70L485.93 105.27L485.93 108.13Z" fill="#f2ee58"/>
<text x="493.80" y="108.50" font-size="5.0" fill="#e8e060" text-anchor="start" font-weight="bold" >160 <tspan dy="-1.5" font-size="3.2">o</tspan><tspan dy="1.5">C</tspan></text>
<clipPath id="cd"><rect x="24.5" y="140.5" width="139.1" height="109.6"/></clipPath>
<g clip-path="url(#cd)">
<path d="M28.50 250.00 L28.84 249.46 L29.30 248.74 L29.84 247.89 L30.44 246.94 L31.08 245.93 L31.73 244.91 L32.38 243.92 L33.00 243.00 L33.60 242.12 L34.21 241.23 L34.84 240.33 L35.47 239.44 L36.10 238.55 L36.74 237.68 L37.37 236.83 L38.00 236.00 L38.62 235.20 L39.25 234.42 L39.88 233.65 L40.50 232.91 L41.12 232.17 L41.75 231.44 L42.38 230.72 L43.00 230.00 L43.62 229.29 L44.23 228.58 L44.83 227.88 L45.44 227.19 L46.05 226.50 L46.68 225.83 L47.33 225.16 L48.00 224.50 L48.69 223.84 L49.40 223.17 L50.13 222.51 L50.87 221.86 L51.63 221.22 L52.40 220.61 L53.19 220.04 L54.00 219.50 L54.84 219.00 L55.71 218.53 L56.60 218.09 L57.51 217.68 L58.42 217.30 L59.33 216.94 L60.22 216.61 L61.10 216.30 L61.95 216.03 L62.79 215.79 L63.61 215.58 L64.43 215.39 L65.25 215.23 L66.09 215.08 L66.93 214.94 L67.80 214.80 L68.70 214.67 L69.63 214.55 L70.58 214.43 L71.53 214.34 L72.48 214.25 L73.42 214.19 L74.33 214.13 L75.20 214.10 L76.03 214.09 L76.82 214.09 L77.59 214.11 L78.34 214.15 L79.08 214.20 L79.84 214.26 L80.60 214.33 L81.40 214.40 L82.22 214.47 L83.05 214.55 L83.89 214.64 L84.74 214.73 L85.59 214.84 L86.46 214.97 L87.33 215.12 L88.20 215.30 L89.08 215.51 L89.97 215.74 L90.87 215.99 L91.77 216.26 L92.68 216.54 L93.58 216.85 L94.49 217.17 L95.40 217.50 L96.31 217.85 L97.22 218.23 L98.13 218.62 L99.05 219.03 L99.97 219.45 L100.88 219.87 L101.79 220.29 L102.70 220.70 L103.60 221.10 L104.51 221.50 L105.41 221.90 L106.31 222.31 L107.20 222.71 L108.10 223.13 L109.00 223.56 L109.90 224.00 L110.78 224.46 L111.65 224.93 L112.50 225.42 L113.36 225.91 L114.24 226.41 L115.15 226.91 L116.09 227.41 L117.10 227.90 L118.18 228.39 L119.34 228.87 L120.55 229.36 L121.78 229.84 L123.02 230.33 L124.23 230.82 L125.40 231.31 L126.50 231.80 L127.53 232.30 L128.53 232.83 L129.48 233.35 L130.41 233.88 L131.32 234.40 L132.22 234.90 L133.11 235.37 L134.00 235.80 L134.89 236.22 L135.77 236.65 L136.65 237.08 L137.51 237.47 L138.36 237.82 L139.19 238.10 L140.01 238.30 L140.80 238.40 L141.57 238.39 L142.31 238.27 L143.03 238.07 L143.73 237.80 L144.43 237.49 L145.11 237.16 L145.80 236.82 L146.50 236.50 L147.19 236.18 L147.88 235.83 L148.56 235.46 L149.23 235.07 L149.91 234.67 L150.59 234.28 L151.29 233.88 L152.00 233.50 L152.71 233.14 L153.42 232.79 L154.13 232.44 L154.84 232.09 L155.58 231.73 L156.35 231.36 L157.15 230.95 L158.00 230.50 L158.96 229.98 L160.05 229.38 L161.21 228.72 L162.38 228.06 L163.50 227.42 L164.52 226.84 L165.37 226.36 L166.00 226.00" fill="none" stroke="#ed575f" stroke-width="0.65"/>
<circle cx="28.50" cy="250.00" r="1.40" fill="#e8202a"/>
<circle cx="30.32" cy="247.13" r="1.40" fill="#e8202a"/>
<circle cx="32.16" cy="244.27" r="1.40" fill="#e8202a"/>
<circle cx="34.06" cy="241.45" r="1.40" fill="#e8202a"/>
<circle cx="36.02" cy="238.67" r="1.40" fill="#e8202a"/>
<circle cx="38.05" cy="235.94" r="1.40" fill="#e8202a"/>
<circle cx="40.18" cy="233.29" r="1.40" fill="#e8202a"/>
<circle cx="42.39" cy="230.71" r="1.40" fill="#e8202a"/>
<circle cx="44.61" cy="228.14" r="1.40" fill="#e8202a"/>
<circle cx="46.89" cy="225.61" r="1.40" fill="#e8202a"/>
<circle cx="49.33" cy="223.24" r="1.40" fill="#e8202a"/>
<circle cx="51.89" cy="221.01" r="1.40" fill="#e8202a"/>
<circle cx="54.69" cy="219.09" r="1.40" fill="#e8202a"/>
<circle cx="57.74" cy="217.58" r="1.40" fill="#e8202a"/>
<circle cx="60.91" cy="216.37" r="1.40" fill="#e8202a"/>
<circle cx="64.18" cy="215.45" r="1.40" fill="#e8202a"/>
<circle cx="67.53" cy="214.84" r="1.40" fill="#e8202a"/>
<circle cx="70.90" cy="214.40" r="1.40" fill="#e8202a"/>
<circle cx="74.29" cy="214.14" r="1.40" fill="#e8202a"/>
<circle cx="77.69" cy="214.12" r="1.40" fill="#e8202a"/>
<circle cx="81.08" cy="214.37" r="1.40" fill="#e8202a"/>
<circle cx="84.46" cy="214.70" r="1.40" fill="#e8202a"/>
<circle cx="87.82" cy="215.22" r="1.40" fill="#e8202a"/>
<circle cx="91.11" cy="216.06" r="1.40" fill="#e8202a"/>
<circle cx="94.34" cy="217.12" r="1.40" fill="#e8202a"/>
<circle cx="97.51" cy="218.35" r="1.40" fill="#e8202a"/>
<circle cx="100.61" cy="219.75" r="1.40" fill="#e8202a"/>
<circle cx="103.71" cy="221.15" r="1.40" fill="#e8202a"/>
<circle cx="106.81" cy="222.54" r="1.40" fill="#e8202a"/>
<circle cx="109.88" cy="223.99" r="1.40" fill="#e8202a"/>
<circle cx="112.86" cy="225.63" r="1.40" fill="#e8202a"/>
<circle cx="115.84" cy="227.27" r="1.40" fill="#e8202a"/>
<circle cx="118.92" cy="228.70" r="1.40" fill="#e8202a"/>
<circle cx="122.08" cy="229.96" r="1.40" fill="#e8202a"/>
<circle cx="125.23" cy="231.24" r="1.40" fill="#e8202a"/>
<circle cx="128.30" cy="232.71" r="1.40" fill="#e8202a"/>
<circle cx="131.26" cy="234.37" r="1.40" fill="#e8202a"/>
<circle cx="134.28" cy="235.93" r="1.40" fill="#e8202a"/>
<circle cx="137.35" cy="237.39" r="1.40" fill="#e8202a"/>
<circle cx="140.59" cy="238.37" r="1.40" fill="#e8202a"/>
<circle cx="143.89" cy="237.73" r="1.40" fill="#e8202a"/>
<circle cx="146.96" cy="236.28" r="1.40" fill="#e8202a"/>
<circle cx="149.95" cy="234.65" r="1.40" fill="#e8202a"/>
<circle cx="152.93" cy="233.03" r="1.40" fill="#e8202a"/>
<circle cx="155.99" cy="231.53" r="1.40" fill="#e8202a"/>
<circle cx="159.00" cy="229.96" r="1.40" fill="#e8202a"/>
<circle cx="161.96" cy="228.29" r="1.40" fill="#e8202a"/>
<circle cx="164.92" cy="226.61" r="1.40" fill="#e8202a"/>
<path d="M28.00 249.50 L28.41 249.47 L28.95 249.44 L29.58 249.41 L30.29 249.36 L31.06 249.30 L31.89 249.23 L32.74 249.13 L33.60 249.00 L34.52 248.84 L35.52 248.67 L36.58 248.47 L37.67 248.25 L38.77 248.01 L39.84 247.76 L40.86 247.49 L41.80 247.20 L42.66 246.90 L43.46 246.60 L44.22 246.28 L44.94 245.94 L45.65 245.57 L46.36 245.18 L47.07 244.76 L47.80 244.30 L48.55 243.79 L49.31 243.25 L50.07 242.66 L50.83 242.05 L51.58 241.42 L52.31 240.78 L53.02 240.14 L53.70 239.50 L54.35 238.86 L54.99 238.20 L55.60 237.54 L56.19 236.86 L56.77 236.19 L57.33 235.52 L57.87 234.85 L58.40 234.20 L58.90 233.56 L59.38 232.92 L59.84 232.29 L60.29 231.66 L60.72 231.04 L61.15 230.42 L61.57 229.81 L62.00 229.20 L62.43 228.59 L62.85 227.97 L63.26 227.35 L63.68 226.74 L64.08 226.15 L64.49 225.57 L64.89 225.02 L65.30 224.50 L65.70 224.02 L66.10 223.57 L66.50 223.15 L66.89 222.75 L67.29 222.36 L67.69 221.98 L68.09 221.59 L68.50 221.20 L68.91 220.81 L69.33 220.42 L69.75 220.05 L70.18 219.67 L70.60 219.30 L71.03 218.91 L71.46 218.51 L71.90 218.10 L72.33 217.67 L72.76 217.22 L73.18 216.77 L73.61 216.31 L74.05 215.84 L74.50 215.36 L74.99 214.88 L75.50 214.40 L76.05 213.92 L76.63 213.43 L77.23 212.93 L77.85 212.43 L78.48 211.93 L79.12 211.42 L79.76 210.91 L80.40 210.40 L81.03 209.89 L81.67 209.37 L82.31 208.85 L82.96 208.33 L83.61 207.81 L84.27 207.28 L84.93 206.74 L85.60 206.20 L86.26 205.65 L86.93 205.11 L87.59 204.55 L88.26 203.99 L88.94 203.43 L89.63 202.86 L90.35 202.28 L91.10 201.70 L91.87 201.11 L92.66 200.51 L93.48 199.90 L94.31 199.29 L95.15 198.67 L96.02 198.05 L96.90 197.42 L97.80 196.80 L98.72 196.18 L99.65 195.55 L100.60 194.92 L101.57 194.29 L102.55 193.66 L103.55 193.01 L104.57 192.36 L105.60 191.70 L106.64 191.02 L107.70 190.33 L108.77 189.63 L109.86 188.92 L110.97 188.21 L112.09 187.50 L113.24 186.80 L114.40 186.10 L115.59 185.40 L116.80 184.70 L118.04 184.00 L119.29 183.31 L120.55 182.61 L121.83 181.93 L123.11 181.26 L124.40 180.60 L125.69 179.96 L126.97 179.34 L128.26 178.73 L129.56 178.13 L130.88 177.53 L132.22 176.93 L133.59 176.32 L135.00 175.70 L136.44 175.06 L137.91 174.39 L139.40 173.71 L140.92 173.04 L142.46 172.37 L144.02 171.72 L145.60 171.09 L147.20 170.50 L148.88 169.93 L150.68 169.38 L152.53 168.84 L154.38 168.32 L156.18 167.84 L157.87 167.38 L159.40 166.97 L160.70 166.60 L161.79 166.28 L162.73 166.00 L163.52 165.76 L164.19 165.56 L164.76 165.38 L165.24 165.23 L165.65 165.11 L166.00 165.00" fill="none" stroke="#59e559" stroke-width="0.65"/>
<path d="M28.00 247.69L29.82 250.99L26.18 250.99Z" fill="#22dd22"/>
<path d="M30.79 247.51L32.61 250.81L28.98 250.81Z" fill="#22dd22"/>
<path d="M33.58 247.19L35.39 250.49L31.76 250.49Z" fill="#22dd22"/>
<path d="M36.33 246.70L38.15 250.00L34.52 250.00Z" fill="#22dd22"/>
<path d="M39.07 246.13L40.89 249.43L37.26 249.43Z" fill="#22dd22"/>
<path d="M41.77 245.39L43.59 248.69L39.96 248.69Z" fill="#22dd22"/>
<path d="M44.38 244.38L46.20 247.68L42.57 247.68Z" fill="#22dd22"/>
<path d="M46.86 243.07L48.67 246.37L45.04 246.37Z" fill="#22dd22"/>
<path d="M49.19 241.52L51.00 244.82L47.37 244.82Z" fill="#22dd22"/>
<path d="M51.38 239.78L53.19 243.08L49.56 243.08Z" fill="#22dd22"/>
<path d="M53.46 237.91L55.28 241.21L51.65 241.21Z" fill="#22dd22"/>
<path d="M55.42 235.91L57.24 239.21L53.61 239.21Z" fill="#22dd22"/>
<path d="M57.25 233.79L59.07 237.09L55.44 237.09Z" fill="#22dd22"/>
<path d="M59.01 231.61L60.82 234.91L57.19 234.91Z" fill="#22dd22"/>
<path d="M60.64 229.34L62.46 232.64L58.83 232.64Z" fill="#22dd22"/>
<path d="M62.24 227.04L64.06 230.34L60.43 230.34Z" fill="#22dd22"/>
<path d="M63.81 224.72L65.63 228.02L62.00 228.02Z" fill="#22dd22"/>
<path d="M65.48 222.47L67.29 225.77L63.66 225.77Z" fill="#22dd22"/>
<path d="M67.40 220.44L69.22 223.74L65.59 223.74Z" fill="#22dd22"/>
<path d="M69.44 218.52L71.25 221.82L67.62 221.82Z" fill="#22dd22"/>
<path d="M71.52 216.65L73.33 219.95L69.70 219.95Z" fill="#22dd22"/>
<path d="M75.36 212.71L77.18 216.01L73.55 216.01Z" fill="#22dd22"/>
<path d="M79.68 209.16L81.50 212.46L77.87 212.46Z" fill="#22dd22"/>
<path d="M84.33 205.42L86.14 208.72L82.51 208.72Z" fill="#22dd22"/>
<path d="M89.23 201.37L91.05 204.67L87.42 204.67Z" fill="#22dd22"/>
<path d="M94.60 197.26L96.42 200.56L92.79 200.56Z" fill="#22dd22"/>
<path d="M100.53 193.15L102.35 196.45L98.72 196.45Z" fill="#22dd22"/>
<path d="M106.99 188.98L108.80 192.28L105.17 192.28Z" fill="#22dd22"/>
<path d="M113.89 184.59L115.71 187.89L112.08 187.89Z" fill="#22dd22"/>
<path d="M121.49 180.30L123.30 183.60L119.67 183.60Z" fill="#22dd22"/>
<path d="M129.82 176.20L131.64 179.50L128.01 179.50Z" fill="#22dd22"/>
<path d="M138.85 172.15L140.67 175.45L137.04 175.45Z" fill="#22dd22"/>
<path d="M148.63 168.20L150.44 171.50L146.81 171.50Z" fill="#22dd22"/>
<path d="M159.44 165.14L161.25 168.44L157.62 168.44Z" fill="#22dd22"/>
<path d="M28.50 250.00 L28.84 249.46 L29.30 248.74 L29.84 247.89 L30.44 246.94 L31.08 245.93 L31.73 244.91 L32.38 243.92 L33.00 243.00 L33.60 242.12 L34.21 241.23 L34.84 240.33 L35.47 239.44 L36.10 238.55 L36.74 237.68 L37.37 236.83 L38.00 236.00 L38.62 235.20 L39.25 234.42 L39.88 233.65 L40.50 232.91 L41.12 232.17 L41.75 231.44 L42.38 230.72 L43.00 230.00 L43.62 229.29 L44.22 228.59 L44.83 227.91 L45.43 227.22 L46.04 226.55 L46.67 225.87 L47.32 225.19 L48.00 224.50 L48.71 223.82 L49.45 223.17 L50.20 222.53 L50.98 221.88 L51.76 221.20 L52.54 220.49 L53.33 219.73 L54.10 218.90 L54.87 217.98 L55.64 216.97 L56.42 215.90 L57.19 214.79 L57.97 213.68 L58.75 212.60 L59.52 211.56 L60.30 210.60 L61.07 209.72 L61.84 208.88 L62.61 208.09 L63.38 207.32 L64.15 206.57 L64.93 205.83 L65.71 205.07 L66.50 204.30 L67.30 203.50 L68.10 202.69 L68.91 201.88 L69.72 201.07 L70.53 200.27 L71.35 199.48 L72.18 198.73 L73.00 198.00 L73.82 197.32 L74.63 196.68 L75.45 196.08 L76.26 195.49 L77.09 194.90 L77.94 194.30 L78.80 193.67 L79.70 193.00 L80.62 192.29 L81.56 191.56 L82.52 190.81 L83.50 190.04 L84.50 189.27 L85.51 188.48 L86.55 187.69 L87.60 186.90 L88.66 186.12 L89.71 185.33 L90.78 184.55 L91.87 183.76 L92.99 182.95 L94.16 182.13 L95.40 181.28 L96.70 180.40 L98.09 179.48 L99.55 178.52 L101.08 177.54 L102.66 176.53 L104.26 175.52 L105.88 174.52 L107.50 173.55 L109.10 172.60 L110.68 171.69 L112.27 170.80 L113.85 169.93 L115.45 169.07 L117.07 168.21 L118.71 167.35 L120.38 166.48 L122.10 165.60 L123.85 164.69 L125.63 163.76 L127.43 162.81 L129.26 161.87 L131.12 160.93 L133.02 160.02 L134.94 159.14 L136.90 158.30 L138.94 157.50 L141.06 156.73 L143.25 155.98 L145.46 155.25 L147.64 154.55 L149.77 153.88 L151.80 153.23 L153.70 152.60 L155.54 151.98 L157.38 151.37 L159.18 150.77 L160.90 150.19 L162.49 149.67 L163.90 149.20 L165.08 148.81 L166.00 148.50" fill="none" stroke="#5151db" stroke-width="0.65"/>
<path d="M28.50 251.81L30.32 248.51L26.68 248.51Z" fill="#1818d0"/>
<path d="M30.21 249.11L32.03 245.81L28.40 245.81Z" fill="#1818d0"/>
<path d="M31.94 246.42L33.75 243.12L30.12 243.12Z" fill="#1818d0"/>
<path d="M33.72 243.76L35.54 240.46L31.91 240.46Z" fill="#1818d0"/>
<path d="M35.55 241.14L37.37 237.84L33.74 237.84Z" fill="#1818d0"/>
<path d="M37.44 238.55L39.26 235.25L35.63 235.25Z" fill="#1818d0"/>
<path d="M39.41 236.03L41.23 232.73L37.60 232.73Z" fill="#1818d0"/>
<path d="M41.47 233.58L43.29 230.28L39.66 230.28Z" fill="#1818d0"/>
<path d="M43.57 231.16L45.38 227.86L41.75 227.86Z" fill="#1818d0"/>
<path d="M45.68 228.76L47.50 225.46L43.87 225.46Z" fill="#1818d0"/>
<path d="M47.88 226.44L49.69 223.14L46.06 223.14Z" fill="#1818d0"/>
<path d="M50.26 224.30L52.07 221.00L48.44 221.00Z" fill="#1818d0"/>
<path d="M52.66 222.19L54.48 218.89L50.85 218.89Z" fill="#1818d0"/>
<path d="M54.83 219.84L56.65 216.54L53.02 216.54Z" fill="#1818d0"/>
<path d="M56.73 217.27L58.55 213.97L54.92 213.97Z" fill="#1818d0"/>
<path d="M58.58 214.65L60.39 211.35L56.76 211.35Z" fill="#1818d0"/>
<path d="M64.59 207.97L66.40 204.67L62.77 204.67Z" fill="#1818d0"/>
<path d="M71.31 201.34L73.13 198.04L69.50 198.04Z" fill="#1818d0"/>
<path d="M79.23 195.16L81.05 191.86L77.42 191.86Z" fill="#1818d0"/>
<path d="M87.71 188.64L89.52 185.34L85.89 185.34Z" fill="#1818d0"/>
<path d="M96.97 182.03L98.79 178.73L95.16 178.73Z" fill="#1818d0"/>
<path d="M107.20 175.54L109.01 172.24L105.38 172.24Z" fill="#1818d0"/>
<path d="M118.46 169.30L120.28 166.00L116.65 166.00Z" fill="#1818d0"/>
<path d="M130.63 162.99L132.45 159.69L128.82 159.69Z" fill="#1818d0"/>
<path d="M144.13 157.50L145.94 154.20L142.31 154.20Z" fill="#1818d0"/>
<path d="M158.88 152.68L160.70 149.38L157.07 149.38Z" fill="#1818d0"/>
<path d="M28.00 249.00 L28.30 248.39 L28.70 247.59 L29.16 246.63 L29.69 245.56 L30.25 244.42 L30.84 243.26 L31.42 242.10 L32.00 241.00 L32.58 239.92 L33.18 238.80 L33.80 237.65 L34.44 236.50 L35.08 235.35 L35.73 234.20 L36.37 233.08 L37.00 232.00 L37.62 230.94 L38.24 229.88 L38.86 228.84 L39.48 227.81 L40.10 226.81 L40.73 225.84 L41.36 224.90 L42.00 224.00 L42.65 223.15 L43.32 222.36 L43.99 221.60 L44.67 220.88 L45.34 220.16 L46.01 219.45 L46.66 218.74 L47.30 218.00 L47.91 217.25 L48.49 216.50 L49.05 215.75 L49.61 215.00 L50.17 214.25 L50.75 213.50 L51.35 212.75 L52.00 212.00 L52.69 211.25 L53.42 210.51 L54.18 209.77 L54.95 209.03 L55.73 208.29 L56.50 207.54 L57.27 206.77 L58.00 206.00 L58.71 205.21 L59.40 204.41 L60.09 203.60 L60.76 202.78 L61.44 201.96 L62.12 201.14 L62.80 200.32 L63.50 199.50 L64.20 198.69 L64.88 197.89 L65.57 197.08 L66.26 196.28 L66.97 195.47 L67.71 194.66 L68.48 193.84 L69.30 193.00 L70.17 192.15 L71.08 191.28 L72.04 190.41 L73.01 189.53 L74.01 188.64 L75.01 187.75 L76.01 186.87 L77.00 186.00 L77.95 185.15 L78.86 184.32 L79.76 183.50 L80.67 182.68 L81.62 181.84 L82.64 180.98 L83.76 180.07 L85.00 179.10 L86.37 178.07 L87.84 176.99 L89.40 175.87 L91.03 174.72 L92.72 173.55 L94.46 172.36 L96.22 171.18 L98.00 170.00 L99.82 168.80 L101.70 167.57 L103.62 166.31 L105.59 165.05 L107.57 163.81 L109.56 162.61 L111.54 161.46 L113.50 160.40 L115.43 159.43 L117.33 158.53 L119.23 157.69 L121.14 156.89 L123.06 156.11 L125.02 155.33 L127.03 154.53 L129.10 153.70 L131.26 152.82 L133.51 151.90 L135.81 150.96 L138.15 150.02 L140.49 149.11 L142.79 148.24 L145.04 147.43 L147.20 146.70 L149.34 146.05 L151.52 145.45 L153.69 144.90 L155.81 144.39 L157.82 143.94 L159.69 143.52 L161.36 143.14 L162.80 142.80 L163.98 142.50 L164.95 142.26 L165.74 142.06 L166.38 141.91 L166.89 141.78 L167.31 141.67 L167.67 141.58 L168.00 141.50" fill="none" stroke="#59e7f3" stroke-width="0.65"/>
<path d="M28.00 247.02L29.98 249.00L28.00 250.98L26.02 249.00Z" fill="#22e0f0"/>
<path d="M29.76 243.43L31.74 245.41L29.76 247.39L27.78 245.41Z" fill="#22e0f0"/>
<path d="M31.56 239.86L33.54 241.84L31.56 243.82L29.58 241.84Z" fill="#22e0f0"/>
<path d="M33.45 236.33L35.43 238.31L33.45 240.29L31.47 238.31Z" fill="#22e0f0"/>
<path d="M35.38 232.83L37.36 234.81L35.38 236.79L33.40 234.81Z" fill="#22e0f0"/>
<path d="M37.38 229.37L39.36 231.35L37.38 233.33L35.40 231.35Z" fill="#22e0f0"/>
<path d="M39.43 225.93L41.41 227.91L39.43 229.89L37.45 227.91Z" fill="#22e0f0"/>
<path d="M41.61 222.57L43.59 224.55L41.61 226.53L39.63 224.55Z" fill="#22e0f0"/>
<path d="M44.13 219.47L46.11 221.45L44.13 223.43L42.15 221.45Z" fill="#22e0f0"/>
<path d="M49.03 213.80L51.01 215.78L49.03 217.76L47.05 215.78Z" fill="#22e0f0"/>
<path d="M54.16 207.80L56.14 209.78L54.16 211.76L52.18 209.78Z" fill="#22e0f0"/>
<path d="M60.13 201.57L62.11 203.55L60.13 205.53L58.15 203.55Z" fill="#22e0f0"/>
<path d="M66.20 194.37L68.18 196.35L66.20 198.33L64.22 196.35Z" fill="#22e0f0"/>
<path d="M73.48 187.12L75.46 189.10L73.48 191.08L71.50 189.10Z" fill="#22e0f0"/>
<path d="M81.86 179.66L83.84 181.64L81.86 183.62L79.88 181.64Z" fill="#22e0f0"/>
<path d="M91.65 172.31L93.63 174.29L91.65 176.27L89.67 174.29Z" fill="#22e0f0"/>
<path d="M102.76 164.89L104.74 166.87L102.76 168.85L100.78 166.87Z" fill="#22e0f0"/>
<path d="M115.32 157.50L117.30 159.48L115.32 161.46L113.34 159.48Z" fill="#22e0f0"/>
<path d="M130.00 151.35L131.98 153.33L130.00 155.31L128.02 153.33Z" fill="#22e0f0"/>
<path d="M146.18 145.06L148.16 147.04L146.18 149.02L144.20 147.04Z" fill="#22e0f0"/>
<path d="M163.62 140.62L165.60 142.60L163.62 144.58L161.64 142.60Z" fill="#22e0f0"/>
<path d="M28.00 249.00 L28.22 248.31 L28.52 247.41 L28.86 246.33 L29.25 245.12 L29.67 243.84 L30.11 242.53 L30.56 241.23 L31.00 240.00 L31.45 238.80 L31.91 237.57 L32.38 236.32 L32.88 235.06 L33.38 233.79 L33.91 232.52 L34.45 231.26 L35.00 230.00 L35.58 228.74 L36.18 227.45 L36.80 226.16 L37.44 224.88 L38.08 223.60 L38.73 222.36 L39.37 221.15 L40.00 220.00 L40.62 218.88 L41.25 217.78 L41.88 216.70 L42.50 215.66 L43.12 214.66 L43.75 213.71 L44.38 212.82 L45.00 212.00 L45.62 211.27 L46.24 210.65 L46.85 210.10 L47.46 209.59 L48.08 209.10 L48.71 208.59 L49.35 208.03 L50.00 207.40 L50.66 206.70 L51.33 205.98 L52.01 205.23 L52.70 204.45 L53.40 203.65 L54.12 202.82 L54.85 201.97 L55.60 201.10 L56.37 200.20 L57.16 199.25 L57.97 198.28 L58.79 197.29 L59.62 196.28 L60.47 195.28 L61.33 194.28 L62.20 193.30 L63.07 192.34 L63.95 191.40 L64.83 190.46 L65.73 189.52 L66.65 188.57 L67.60 187.61 L68.58 186.62 L69.60 185.60 L70.66 184.55 L71.74 183.49 L72.85 182.41 L73.99 181.31 L75.16 180.19 L76.37 179.04 L77.61 177.88 L78.90 176.70 L80.22 175.49 L81.55 174.27 L82.92 173.02 L84.33 171.75 L85.79 170.46 L87.29 169.16 L88.86 167.84 L90.50 166.50 L92.22 165.12 L94.03 163.69 L95.90 162.22 L97.82 160.74 L99.78 159.28 L101.75 157.85 L103.73 156.49 L105.70 155.20 L107.69 154.00 L109.73 152.86 L111.80 151.77 L113.88 150.72 L115.94 149.71 L117.96 148.70 L119.92 147.71 L121.80 146.70 L123.68 145.65 L125.61 144.54 L127.54 143.42 L129.41 142.32 L131.14 141.29 L132.70 140.36 L134.00 139.59 L135.00 139.00" fill="none" stroke="#e757e7" stroke-width="0.65"/>
<path d="M26.18 249.00L29.48 247.19L29.48 250.81Z" fill="#e020e0"/>
<path d="M27.41 245.19L30.71 243.38L30.71 247.01Z" fill="#e020e0"/>
<path d="M28.68 241.40L31.98 239.59L31.98 243.22Z" fill="#e020e0"/>
<path d="M30.06 237.65L33.36 235.83L33.36 239.46Z" fill="#e020e0"/>
<path d="M31.52 233.92L34.82 232.10L34.82 235.73Z" fill="#e020e0"/>
<path d="M33.08 230.24L36.38 228.42L36.38 232.05Z" fill="#e020e0"/>
<path d="M34.77 226.61L38.07 224.80L38.07 228.43Z" fill="#e020e0"/>
<path d="M36.56 223.04L39.86 221.22L39.86 224.85Z" fill="#e020e0"/>
<path d="M38.46 219.51L41.76 217.70L41.76 221.33Z" fill="#e020e0"/>
<path d="M42.95 212.31L46.25 210.49L46.25 214.12Z" fill="#e020e0"/>
<path d="M49.46 206.05L52.76 204.23L52.76 207.86Z" fill="#e020e0"/>
<path d="M55.96 198.51L59.26 196.70L59.26 200.33Z" fill="#e020e0"/>
<path d="M63.18 190.29L66.48 188.47L66.48 192.10Z" fill="#e020e0"/>
<path d="M71.70 181.77L75.00 179.95L75.00 183.58Z" fill="#e020e0"/>
<path d="M81.41 172.75L84.71 170.94L84.71 174.57Z" fill="#e020e0"/>
<path d="M92.58 163.40L95.88 161.58L95.88 165.21Z" fill="#e020e0"/>
<path d="M105.65 154.13L108.95 152.32L108.95 155.95Z" fill="#e020e0"/>
<path d="M121.28 145.97L124.58 144.16L124.58 147.79Z" fill="#e020e0"/>
<path d="M27.50 248.50 L27.73 247.69 L28.03 246.60 L28.38 245.31 L28.78 243.88 L29.21 242.36 L29.64 240.84 L30.08 239.36 L30.50 238.00 L30.91 236.73 L31.33 235.46 L31.75 234.21 L32.19 232.97 L32.63 231.73 L33.08 230.49 L33.54 229.25 L34.00 228.00 L34.47 226.75 L34.94 225.50 L35.42 224.25 L35.91 223.00 L36.40 221.75 L36.92 220.50 L37.45 219.25 L38.00 218.00 L38.57 216.75 L39.14 215.50 L39.74 214.25 L40.34 213.00 L40.97 211.75 L41.62 210.50 L42.30 209.25 L43.00 208.00 L43.75 206.74 L44.54 205.45 L45.37 204.16 L46.22 202.88 L47.07 201.60 L47.91 200.36 L48.73 199.15 L49.50 198.00 L50.25 196.88 L50.98 195.77 L51.70 194.68 L52.41 193.62 L53.09 192.62 L53.75 191.67 L54.39 190.79 L55.00 190.00 L55.55 189.31 L56.03 188.74 L56.47 188.25 L56.89 187.81 L57.33 187.39 L57.81 186.97 L58.36 186.52 L59.00 186.00 L59.72 185.47 L60.50 184.96 L61.32 184.45 L62.19 183.93 L63.12 183.35 L64.09 182.70 L65.12 181.96 L66.20 181.10 L67.36 180.09 L68.62 178.96 L69.95 177.73 L71.32 176.43 L72.71 175.08 L74.08 173.73 L75.42 172.39 L76.70 171.10 L77.93 169.83 L79.14 168.56 L80.33 167.27 L81.51 165.99 L82.66 164.71 L83.79 163.45 L84.91 162.21 L86.00 161.00 L87.08 159.81 L88.14 158.63 L89.18 157.46 L90.21 156.31 L91.20 155.18 L92.17 154.08 L93.10 153.02 L94.00 152.00 L94.89 150.98 L95.78 149.95 L96.66 148.92 L97.50 147.94 L98.28 147.02 L98.97 146.21 L99.55 145.53 L100.00 145.00" fill="none" stroke="#f5f281" stroke-width="0.65"/>
<path d="M29.32 248.50L26.02 246.69L26.02 250.31Z" fill="#f2ee58"/>
<path d="M30.38 244.65L27.08 242.83L27.08 246.46Z" fill="#f2ee58"/>
<path d="M31.47 240.80L28.17 238.98L28.17 242.61Z" fill="#f2ee58"/>
<path d="M32.65 236.97L29.35 235.16L29.35 238.79Z" fill="#f2ee58"/>
<path d="M33.93 233.18L30.63 231.37L30.63 235.00Z" fill="#f2ee58"/>
<path d="M35.29 229.42L31.99 227.61L31.99 231.24Z" fill="#f2ee58"/>
<path d="M36.69 225.68L33.39 223.86L33.39 227.49Z" fill="#f2ee58"/>
<path d="M38.14 221.95L34.84 220.13L34.84 223.76Z" fill="#f2ee58"/>
<path d="M39.70 218.26L36.40 216.45L36.40 220.08Z" fill="#f2ee58"/>
<path d="M43.62 210.16L40.32 208.35L40.32 211.98Z" fill="#f2ee58"/>
<path d="M48.61 202.01L45.31 200.19L45.31 203.82Z" fill="#f2ee58"/>
<path d="M54.44 193.30L51.14 191.49L51.14 195.12Z" fill="#f2ee58"/>
<path d="M62.23 185.02L58.93 183.20L58.93 186.83Z" fill="#f2ee58"/>
<path d="M72.14 177.37L68.84 175.56L68.84 179.19Z" fill="#f2ee58"/>
<path d="M81.82 167.63L78.52 165.81L78.52 169.44Z" fill="#f2ee58"/>
<path d="M91.89 156.45L88.59 154.64L88.59 158.27Z" fill="#f2ee58"/>
<path d="M27.00 248.00 L27.15 247.47 L27.35 246.77 L27.58 245.93 L27.84 245.00 L28.13 244.01 L28.42 242.98 L28.71 241.97 L29.00 241.00 L29.29 240.06 L29.58 239.12 L29.88 238.17 L30.19 237.21 L30.51 236.21 L30.84 235.19 L31.16 234.12 L31.50 233.00 L31.84 231.83 L32.18 230.60 L32.53 229.32 L32.88 228.02 L33.24 226.69 L33.62 225.36 L34.00 224.02 L34.40 222.70 L34.81 221.36 L35.24 219.99 L35.68 218.60 L36.13 217.21 L36.59 215.83 L37.06 214.49 L37.53 213.21 L38.00 212.00 L38.46 210.89 L38.89 209.87 L39.33 208.92 L39.77 208.00 L40.24 207.08 L40.76 206.13 L41.34 205.11 L42.00 204.00 L42.73 202.82 L43.50 201.61 L44.33 200.37 L45.21 199.08 L46.14 197.74 L47.13 196.33 L48.18 194.86 L49.30 193.30 L50.54 191.59 L51.94 189.72 L53.43 187.73 L54.96 185.71 L56.47 183.70 L57.92 181.77 L59.25 179.98 L60.40 178.40 L61.40 176.98 L62.32 175.65 L63.15 174.40 L63.89 173.27 L64.55 172.25 L65.12 171.36 L65.61 170.60 L66.00 170.00" fill="none" stroke="#578d99" stroke-width="0.4"/>
<circle cx="29.00" cy="241.00" r="0.66" fill="#206878"/>
<circle cx="31.50" cy="233.00" r="0.66" fill="#206878"/>
<circle cx="34.40" cy="222.70" r="0.66" fill="#206878"/>
<circle cx="38.00" cy="212.00" r="0.66" fill="#206878"/>
<circle cx="42.00" cy="204.00" r="0.66" fill="#206878"/>
<circle cx="49.30" cy="193.30" r="0.66" fill="#206878"/>
<circle cx="60.40" cy="178.40" r="0.66" fill="#206878"/>
<path d="M27.00 248.00 L27.23 247.39 L27.53 246.60 L27.89 245.66 L28.29 244.61 L28.72 243.48 L29.16 242.31 L29.59 241.14 L30.00 240.00 L30.40 238.85 L30.81 237.64 L31.22 236.38 L31.64 235.11 L32.06 233.84 L32.48 232.60 L32.90 231.41 L33.30 230.30 L33.70 229.27 L34.09 228.31 L34.47 227.39 L34.86 226.50 L35.24 225.63 L35.62 224.77 L36.01 223.90 L36.40 223.00 L36.79 222.09 L37.17 221.19 L37.55 220.28 L37.94 219.38 L38.33 218.47 L38.73 217.56 L39.16 216.64 L39.60 215.70 L40.06 214.76 L40.54 213.82 L41.02 212.87 L41.52 211.92 L42.04 210.95 L42.58 209.96 L43.13 208.95 L43.70 207.90 L44.30 206.84 L44.92 205.79 L45.56 204.73 L46.21 203.64 L46.88 202.50 L47.55 201.31 L48.23 200.05 L48.90 198.70 L49.57 197.24 L50.24 195.67 L50.92 194.02 L51.60 192.31 L52.29 190.58 L52.98 188.85 L53.69 187.15 L54.40 185.50 L55.11 183.91 L55.81 182.34 L56.50 180.79 L57.21 179.25 L57.94 177.70 L58.71 176.13 L59.53 174.54 L60.40 172.90 L61.32 171.23 L62.27 169.55 L63.25 167.84 L64.28 166.12 L65.35 164.37 L66.47 162.58 L67.65 160.76 L68.90 158.90 L70.29 156.91 L71.86 154.76 L73.53 152.52 L75.24 150.28 L76.90 148.10 L78.44 146.08 L79.80 144.29 L80.90 142.80 L81.73 141.63 L82.37 140.69 L82.85 139.96 L83.20 139.39 L83.46 138.95 L83.65 138.60 L83.82 138.29 L84.00 138.00" fill="none" stroke="#444444" stroke-width="0.65"/>
<rect x="31.65" y="228.65" width="3.30" height="3.30" fill="#111111"/>
<rect x="34.75" y="221.35" width="3.30" height="3.30" fill="#111111"/>
<rect x="37.95" y="214.05" width="3.30" height="3.30" fill="#111111"/>
<rect x="42.05" y="206.25" width="3.30" height="3.30" fill="#111111"/>
<rect x="47.25" y="197.05" width="3.30" height="3.30" fill="#111111"/>
<rect x="52.75" y="183.85" width="3.30" height="3.30" fill="#111111"/>
<rect x="58.75" y="171.25" width="3.30" height="3.30" fill="#111111"/>
<rect x="67.25" y="157.25" width="3.30" height="3.30" fill="#111111"/>
<rect x="79.25" y="141.15" width="3.30" height="3.30" fill="#111111"/>
</g>
<rect x="24.5" y="140.5" width="139.1" height="109.6" fill="none" stroke="#2a2a2a" stroke-width="1"/>
<line x1="24.5" y1="140.20" x2="26.5" y2="140.20" stroke="#333" stroke-width="0.8"/>
<text x="22.00" y="142.10" font-size="6.0" fill="#151515" text-anchor="end" font-weight="bold" stroke="#151515" stroke-width="0.15">-2.5</text>
<line x1="24.5" y1="161.70" x2="26.5" y2="161.70" stroke="#333" stroke-width="0.8"/>
<text x="22.00" y="163.60" font-size="6.0" fill="#151515" text-anchor="end" font-weight="bold" stroke="#151515" stroke-width="0.15">-2.0</text>
<line x1="24.5" y1="183.20" x2="26.5" y2="183.20" stroke="#333" stroke-width="0.8"/>
<text x="22.00" y="185.10" font-size="6.0" fill="#151515" text-anchor="end" font-weight="bold" stroke="#151515" stroke-width="0.15">-1.5</text>
<line x1="24.5" y1="204.70" x2="26.5" y2="204.70" stroke="#333" stroke-width="0.8"/>
<text x="22.00" y="206.60" font-size="6.0" fill="#151515" text-anchor="end" font-weight="bold" stroke="#151515" stroke-width="0.15">-1.0</text>
<line x1="24.5" y1="226.20" x2="26.5" y2="226.20" stroke="#333" stroke-width="0.8"/>
<text x="22.00" y="228.10" font-size="6.0" fill="#151515" text-anchor="end" font-weight="bold" stroke="#151515" stroke-width="0.15">-0.5</text>
<line x1="24.5" y1="247.70" x2="26.5" y2="247.70" stroke="#333" stroke-width="0.8"/>
<text x="22.00" y="249.60" font-size="6.0" fill="#151515" text-anchor="end" font-weight="bold" stroke="#151515" stroke-width="0.15">0.0</text>
<line x1="24.5" y1="150.95" x2="25.7" y2="150.95" stroke="#333" stroke-width="0.7"/>
<line x1="24.5" y1="172.45" x2="25.7" y2="172.45" stroke="#333" stroke-width="0.7"/>
<line x1="24.5" y1="193.95" x2="25.7" y2="193.95" stroke="#333" stroke-width="0.7"/>
<line x1="24.5" y1="215.45" x2="25.7" y2="215.45" stroke="#333" stroke-width="0.7"/>
<line x1="24.5" y1="236.95" x2="25.7" y2="236.95" stroke="#333" stroke-width="0.7"/>
<line x1="26.20" y1="250.1" x2="26.20" y2="248.1" stroke="#333" stroke-width="0.8"/>
<text x="26.20" y="257.60" font-size="6.0" fill="#151515" text-anchor="middle" font-weight="bold" stroke="#151515" stroke-width="0.15">0.0</text>
<line x1="48.97" y1="250.1" x2="48.97" y2="248.1" stroke="#333" stroke-width="0.8"/>
<text x="48.97" y="257.60" font-size="6.0" fill="#151515" text-anchor="middle" font-weight="bold" stroke="#151515" stroke-width="0.15">0.5</text>
<line x1="71.75" y1="250.1" x2="71.75" y2="248.1" stroke="#333" stroke-width="0.8"/>
<text x="71.75" y="257.60" font-size="6.0" fill="#151515" text-anchor="middle" font-weight="bold" stroke="#151515" stroke-width="0.15">1.0</text>
<line x1="94.52" y1="250.1" x2="94.52" y2="248.1" stroke="#333" stroke-width="0.8"/>
<text x="94.52" y="257.60" font-size="6.0" fill="#151515" text-anchor="middle" font-weight="bold" stroke="#151515" stroke-width="0.15">1.5</text>
<line x1="117.30" y1="250.1" x2="117.30" y2="248.1" stroke="#333" stroke-width="0.8"/>
<text x="117.30" y="257.60" font-size="6.0" fill="#151515" text-anchor="middle" font-weight="bold" stroke="#151515" stroke-width="0.15">2.0</text>
<line x1="140.07" y1="250.1" x2="140.07" y2="248.1" stroke="#333" stroke-width="0.8"/>
<text x="140.07" y="257.60" font-size="6.0" fill="#151515" text-anchor="middle" font-weight="bold" stroke="#151515" stroke-width="0.15">2.5</text>
<line x1="162.85" y1="250.1" x2="162.85" y2="248.1" stroke="#333" stroke-width="0.8"/>
<text x="162.85" y="257.60" font-size="6.0" fill="#151515" text-anchor="middle" font-weight="bold" stroke="#151515" stroke-width="0.15">3.0</text>
<line x1="37.59" y1="250.1" x2="37.59" y2="248.9" stroke="#333" stroke-width="0.7"/>
<line x1="60.36" y1="250.1" x2="60.36" y2="248.9" stroke="#333" stroke-width="0.7"/>
<line x1="83.14" y1="250.1" x2="83.14" y2="248.9" stroke="#333" stroke-width="0.7"/>
<line x1="105.91" y1="250.1" x2="105.91" y2="248.9" stroke="#333" stroke-width="0.7"/>
<line x1="128.69" y1="250.1" x2="128.69" y2="248.9" stroke="#333" stroke-width="0.7"/>
<line x1="151.46" y1="250.1" x2="151.46" y2="248.9" stroke="#333" stroke-width="0.7"/>
<text x="94.60" y="266.30" font-size="8.6" fill="#1a1a1a" text-anchor="middle" font-weight="bold" >Z' (k Ohm)</text>
<text x="0" y="0" font-size="9.1" fill="#1a1a1a" text-anchor="middle" font-weight="bold" letter-spacing="0.25" transform="translate(6.30,190.50) rotate(-90)">Z'' (k Ohm)</text>
<text x="26.50" y="150.80" font-size="13.5" fill="#262626" text-anchor="start" font-weight="normal" >(d)</text>
<text x="44.8" y="156.6" font-size="8.0" fill="#cc2234" font-weight="bold" letter-spacing="0.35">Li<tspan dy="3.3" font-size="6.56">7</tspan><tspan dy="-3.3">O</tspan><tspan dy="3.3" font-size="6.56">2</tspan><tspan dy="-3.3">Br</tspan><tspan dy="3.3" font-size="6.56">3</tspan><tspan dy="-3.3">: Li</tspan><tspan dy="3.3" font-size="6.56">3</tspan><tspan dy="-3.3">OBr</tspan></text>
<text x="44.8" y="170.5" font-size="8.0" fill="#cc2234" font-weight="bold" letter-spacing="0.35">41 w%</text>
<line x1="134.5" y1="177.20" x2="143.5" y2="177.20" stroke="#111111" stroke-width="0.6"/>
<rect x="137.70" y="175.90" width="2.60" height="2.60" fill="#111111"/>
<text x="146.00" y="179.00" font-size="5.0" fill="#111111" text-anchor="start" font-weight="bold" >25 <tspan dy="-1.5" font-size="3.2">o</tspan><tspan dy="1.5">C</tspan></text>
<line x1="134.5" y1="184.75" x2="143.5" y2="184.75" stroke="#e8202a" stroke-width="0.6"/>
<circle cx="139.00" cy="184.75" r="1.30" fill="#e8202a"/>
<text x="146.00" y="186.55" font-size="5.0" fill="#e8202a" text-anchor="start" font-weight="bold" >50 <tspan dy="-1.5" font-size="3.2">o</tspan><tspan dy="1.5">C</tspan></text>
<line x1="134.5" y1="192.30" x2="143.5" y2="192.30" stroke="#22dd22" stroke-width="0.6"/>
<path d="M139.00 190.87L140.43 193.47L137.57 193.47Z" fill="#22dd22"/>
<text x="146.00" y="194.10" font-size="5.0" fill="#30c030" text-anchor="start" font-weight="bold" >80 <tspan dy="-1.5" font-size="3.2">o</tspan><tspan dy="1.5">C</tspan></text>
<line x1="134.5" y1="199.85" x2="143.5" y2="199.85" stroke="#1818d0" stroke-width="0.6"/>
<path d="M139.00 201.28L140.43 198.68L137.57 198.68Z" fill="#1818d0"/>
<text x="146.00" y="201.65" font-size="5.0" fill="#1818d0" text-anchor="start" font-weight="bold" >100 <tspan dy="-1.5" font-size="3.2">o</tspan><tspan dy="1.5">C</tspan></text>
<line x1="134.5" y1="207.40" x2="143.5" y2="207.40" stroke="#22e0f0" stroke-width="0.6"/>
<path d="M139.00 205.84L140.56 207.40L139.00 208.96L137.44 207.40Z" fill="#22e0f0"/>
<text x="146.00" y="209.20" font-size="5.0" fill="#30d8e8" text-anchor="start" font-weight="bold" >120 <tspan dy="-1.5" font-size="3.2">o</tspan><tspan dy="1.5">C</tspan></text>
<line x1="134.5" y1="214.95" x2="143.5" y2="214.95" stroke="#e020e0" stroke-width="0.6"/>
<path d="M137.57 214.95L140.17 213.52L140.17 216.38Z" fill="#e020e0"/>
<text x="146.00" y="216.75" font-size="5.0" fill="#e020e0" text-anchor="start" font-weight="bold" >140 <tspan dy="-1.5" font-size="3.2">o</tspan><tspan dy="1.5">C</tspan></text>
<line x1="134.5" y1="222.50" x2="143.5" y2="222.50" stroke="#f2ee58" stroke-width="0.6"/>
<path d="M140.43 222.50L137.83 221.07L137.83 223.93Z" fill="#f2ee58"/>
<text x="146.00" y="224.30" font-size="5.0" fill="#e8e060" text-anchor="start" font-weight="bold" >160 <tspan dy="-1.5" font-size="3.2">o</tspan><tspan dy="1.5">C</tspan></text>
<line x1="134.5" y1="230.05" x2="143.5" y2="230.05" stroke="#206878" stroke-width="0.6"/>
<circle cx="139.00" cy="230.05" r="0.78" fill="#206878"/>
<text x="146.00" y="231.85" font-size="5.0" fill="#206878" text-anchor="start" font-weight="bold" >180 <tspan dy="-1.5" font-size="3.2">o</tspan><tspan dy="1.5">C</tspan></text>
<clipPath id="ce"><rect x="199.8" y="140.7" width="139.5" height="109.20000000000002"/></clipPath>
<g clip-path="url(#ce)">
<path d="M205.00 246.50 L205.39 246.02 L205.92 245.38 L206.55 244.60 L207.25 243.75 L207.98 242.87 L208.70 242.00 L209.39 241.20 L210.00 240.50 L210.54 239.90 L211.05 239.34 L211.54 238.82 L212.02 238.33 L212.49 237.86 L212.97 237.40 L213.47 236.95 L214.00 236.50 L214.56 236.05 L215.14 235.62 L215.73 235.21 L216.33 234.80 L216.94 234.40 L217.54 234.00 L218.13 233.60 L218.70 233.20 L219.25 232.79 L219.79 232.38 L220.31 231.96 L220.83 231.55 L221.35 231.14 L221.89 230.75 L222.43 230.37 L223.00 230.00 L223.58 229.65 L224.17 229.31 L224.77 228.98 L225.37 228.66 L226.00 228.36 L226.64 228.06 L227.31 227.77 L228.00 227.50 L228.73 227.23 L229.49 226.96 L230.27 226.69 L231.07 226.44 L231.89 226.21 L232.70 226.01 L233.51 225.83 L234.30 225.70 L235.08 225.61 L235.86 225.56 L236.63 225.55 L237.41 225.56 L238.18 225.59 L238.95 225.63 L239.73 225.67 L240.50 225.70 L241.27 225.73 L242.05 225.76 L242.82 225.79 L243.59 225.83 L244.37 225.88 L245.14 225.94 L245.92 226.01 L246.70 226.10 L247.49 226.20 L248.30 226.33 L249.11 226.47 L249.92 226.61 L250.72 226.76 L251.51 226.92 L252.27 227.06 L253.00 227.20 L253.69 227.33 L254.34 227.47 L254.96 227.61 L255.57 227.75 L256.17 227.88 L256.79 228.00 L257.43 228.11 L258.10 228.20 L258.81 228.29 L259.54 228.38 L260.29 228.46 L261.05 228.54 L261.82 228.59 L262.59 228.60 L263.35 228.58 L264.10 228.50 L264.84 228.37 L265.59 228.19 L266.33 227.97 L267.07 227.72 L267.81 227.44 L268.54 227.14 L269.27 226.82 L270.00 226.50 L270.71 226.18 L271.39 225.86 L272.06 225.53 L272.73 225.17 L273.42 224.79 L274.13 224.35 L274.89 223.86 L275.70 223.30 L276.57 222.65 L277.50 221.93 L278.47 221.14 L279.47 220.31 L280.48 219.45 L281.50 218.58 L282.51 217.73 L283.50 216.90 L284.48 216.09 L285.45 215.28 L286.43 214.47 L287.40 213.66 L288.38 212.84 L289.35 212.03 L290.32 211.21 L291.30 210.40 L292.28 209.58 L293.28 208.75 L294.28 207.91 L295.28 207.08 L296.27 206.26 L297.24 205.45 L298.19 204.66 L299.10 203.90 L299.98 203.18 L300.82 202.50 L301.64 201.84 L302.44 201.20 L303.23 200.56 L304.01 199.90 L304.80 199.22 L305.60 198.50 L306.40 197.73 L307.20 196.92 L308.00 196.08 L308.80 195.23 L309.60 194.38 L310.40 193.55 L311.20 192.75 L312.00 192.00 L312.82 191.29 L313.65 190.60 L314.49 189.93 L315.33 189.29 L316.15 188.66 L316.96 188.06 L317.75 187.47 L318.50 186.90 L319.22 186.36 L319.90 185.85 L320.57 185.37 L321.21 184.91 L321.84 184.45 L322.47 183.98 L323.08 183.50 L323.70 183.00 L324.31 182.48 L324.92 181.97 L325.51 181.46 L326.10 180.93 L326.68 180.39 L327.26 179.82 L327.83 179.23 L328.40 178.60 L328.96 177.92 L329.50 177.17 L330.04 176.40 L330.57 175.60 L331.10 174.80 L331.65 174.03 L332.21 173.28 L332.80 172.60 L333.42 171.97 L334.07 171.36 L334.74 170.78 L335.43 170.22 L336.10 169.69 L336.77 169.18 L337.40 168.68 L338.00 168.20 L338.58 167.72 L339.18 167.24 L339.76 166.77 L340.32 166.32 L340.85 165.91 L341.31 165.55 L341.70 165.24 L342.00 165.00" fill="none" stroke="#ed575f" stroke-width="0.65"/>
<circle cx="205.00" cy="246.50" r="1.45" fill="#e8202a"/>
<circle cx="207.28" cy="243.71" r="1.45" fill="#e8202a"/>
<circle cx="209.60" cy="240.96" r="1.45" fill="#e8202a"/>
<circle cx="212.04" cy="238.31" r="1.45" fill="#e8202a"/>
<circle cx="214.73" cy="235.93" r="1.45" fill="#e8202a"/>
<circle cx="217.70" cy="233.89" r="1.45" fill="#e8202a"/>
<circle cx="220.59" cy="231.74" r="1.45" fill="#e8202a"/>
<circle cx="223.53" cy="229.68" r="1.45" fill="#e8202a"/>
<circle cx="226.72" cy="228.02" r="1.45" fill="#e8202a"/>
<circle cx="230.09" cy="226.76" r="1.45" fill="#e8202a"/>
<circle cx="233.57" cy="225.82" r="1.45" fill="#e8202a"/>
<circle cx="237.15" cy="225.56" r="1.45" fill="#e8202a"/>
<circle cx="240.75" cy="225.71" r="1.45" fill="#e8202a"/>
<circle cx="244.34" cy="225.88" r="1.45" fill="#e8202a"/>
<circle cx="247.92" cy="226.27" r="1.45" fill="#e8202a"/>
<circle cx="251.46" cy="226.91" r="1.45" fill="#e8202a"/>
<circle cx="254.99" cy="227.62" r="1.45" fill="#e8202a"/>
<circle cx="258.53" cy="228.25" r="1.45" fill="#e8202a"/>
<circle cx="262.71" cy="228.60" r="1.45" fill="#e8202a"/>
<circle cx="266.82" cy="227.80" r="1.45" fill="#e8202a"/>
<circle cx="270.69" cy="226.19" r="1.45" fill="#e8202a"/>
<circle cx="274.38" cy="224.19" r="1.45" fill="#e8202a"/>
<circle cx="277.77" cy="221.71" r="1.45" fill="#e8202a"/>
<circle cx="280.99" cy="219.02" r="1.45" fill="#e8202a"/>
<circle cx="284.21" cy="216.31" r="1.45" fill="#e8202a"/>
<circle cx="287.43" cy="213.63" r="1.45" fill="#e8202a"/>
<circle cx="290.66" cy="210.93" r="1.45" fill="#e8202a"/>
<circle cx="293.88" cy="208.25" r="1.45" fill="#e8202a"/>
<circle cx="297.11" cy="205.56" r="1.45" fill="#e8202a"/>
<circle cx="300.35" cy="202.88" r="1.45" fill="#e8202a"/>
<circle cx="303.61" cy="200.24" r="1.45" fill="#e8202a"/>
<circle cx="306.72" cy="197.41" r="1.45" fill="#e8202a"/>
<circle cx="309.61" cy="194.37" r="1.45" fill="#e8202a"/>
<circle cx="312.63" cy="191.45" r="1.45" fill="#e8202a"/>
<circle cx="315.92" cy="188.84" r="1.45" fill="#e8202a"/>
<circle cx="319.27" cy="186.32" r="1.45" fill="#e8202a"/>
<circle cx="322.66" cy="183.83" r="1.45" fill="#e8202a"/>
<circle cx="325.88" cy="181.13" r="1.45" fill="#e8202a"/>
<circle cx="328.79" cy="178.12" r="1.45" fill="#e8202a"/>
<circle cx="331.20" cy="174.67" r="1.45" fill="#e8202a"/>
<circle cx="333.93" cy="171.50" r="1.45" fill="#e8202a"/>
<circle cx="337.19" cy="168.85" r="1.45" fill="#e8202a"/>
<circle cx="340.46" cy="166.22" r="1.45" fill="#e8202a"/>
<path d="M205.00 246.50 L205.24 246.45 L205.55 246.37 L205.91 246.28 L206.32 246.19 L206.78 246.09 L207.26 245.98 L207.77 245.89 L208.30 245.80 L208.85 245.73 L209.44 245.69 L210.07 245.65 L210.72 245.61 L211.39 245.56 L212.09 245.48 L212.79 245.37 L213.50 245.20 L214.23 244.99 L214.98 244.75 L215.75 244.47 L216.53 244.17 L217.32 243.84 L218.12 243.48 L218.91 243.10 L219.70 242.70 L220.48 242.28 L221.27 241.84 L222.06 241.38 L222.85 240.89 L223.64 240.37 L224.43 239.82 L225.22 239.23 L226.00 238.60 L226.79 237.92 L227.58 237.18 L228.38 236.39 L229.17 235.58 L229.95 234.75 L230.72 233.92 L231.47 233.10 L232.20 232.30 L232.89 231.53 L233.55 230.77 L234.18 230.01 L234.80 229.26 L235.42 228.49 L236.05 227.72 L236.71 226.92 L237.40 226.10 L238.13 225.25 L238.88 224.37 L239.65 223.48 L240.44 222.57 L241.23 221.65 L242.03 220.73 L242.82 219.81 L243.60 218.90 L244.38 218.00 L245.15 217.11 L245.92 216.21 L246.70 215.32 L247.47 214.42 L248.25 213.50 L249.02 212.56 L249.80 211.60 L250.58 210.60 L251.35 209.56 L252.13 208.49 L252.91 207.42 L253.69 206.35 L254.46 205.29 L255.23 204.27 L256.00 203.30 L256.75 202.38 L257.48 201.51 L258.21 200.67 L258.93 199.85 L259.66 199.04 L260.41 198.21 L261.19 197.37 L262.00 196.50 L262.85 195.59 L263.72 194.67 L264.62 193.73 L265.54 192.78 L266.48 191.83 L267.42 190.88 L268.36 189.93 L269.30 189.00 L270.24 188.08 L271.19 187.16 L272.15 186.25 L273.12 185.34 L274.09 184.43 L275.06 183.52 L276.03 182.61 L277.00 181.70 L277.96 180.80 L278.91 179.91 L279.86 179.03 L280.81 178.14 L281.78 177.25 L282.76 176.33 L283.76 175.38 L284.80 174.40 L285.87 173.38 L286.95 172.33 L288.06 171.26 L289.19 170.16 L290.34 169.05 L291.50 167.91 L292.69 166.76 L293.90 165.60 L295.12 164.42 L296.36 163.22 L297.62 162.01 L298.89 160.77 L300.20 159.53 L301.53 158.26 L302.90 156.99 L304.30 155.70 L305.84 154.32 L307.55 152.81 L309.35 151.24 L311.15 149.68 L312.87 148.20 L314.43 146.86 L315.73 145.74 L316.70 144.90" fill="none" stroke="#59e559" stroke-width="0.65"/>
<path d="M205.00 244.69L206.81 247.99L203.19 247.99Z" fill="#22dd22"/>
<path d="M207.54 244.12L209.35 247.42L205.72 247.42Z" fill="#22dd22"/>
<path d="M210.12 243.83L211.93 247.13L208.30 247.13Z" fill="#22dd22"/>
<path d="M212.70 243.56L214.52 246.86L210.89 246.86Z" fill="#22dd22"/>
<path d="M215.20 242.85L217.02 246.15L213.39 246.15Z" fill="#22dd22"/>
<path d="M217.62 241.89L219.43 245.19L215.80 245.19Z" fill="#22dd22"/>
<path d="M219.95 240.75L221.77 244.05L218.14 244.05Z" fill="#22dd22"/>
<path d="M222.21 239.47L224.03 242.77L220.40 242.77Z" fill="#22dd22"/>
<path d="M224.38 238.04L226.20 241.34L222.57 241.34Z" fill="#22dd22"/>
<path d="M226.42 236.42L228.23 239.72L224.60 239.72Z" fill="#22dd22"/>
<path d="M228.31 234.64L230.13 237.94L226.50 237.94Z" fill="#22dd22"/>
<path d="M230.11 232.76L231.93 236.06L228.30 236.06Z" fill="#22dd22"/>
<path d="M231.87 230.85L233.68 234.15L230.05 234.15Z" fill="#22dd22"/>
<path d="M233.59 228.90L235.41 232.20L231.78 232.20Z" fill="#22dd22"/>
<path d="M235.25 226.89L237.06 230.19L233.43 230.19Z" fill="#22dd22"/>
<path d="M236.90 224.89L238.71 228.19L235.08 228.19Z" fill="#22dd22"/>
<path d="M238.58 222.91L240.40 226.21L236.77 226.21Z" fill="#22dd22"/>
<path d="M240.28 220.94L242.09 224.24L238.46 224.24Z" fill="#22dd22"/>
<path d="M241.98 218.97L243.79 222.27L240.16 222.27Z" fill="#22dd22"/>
<path d="M243.67 217.00L245.49 220.30L241.86 220.30Z" fill="#22dd22"/>
<path d="M245.37 215.03L247.19 218.33L243.56 218.33Z" fill="#22dd22"/>
<path d="M247.08 213.07L248.89 216.37L245.26 216.37Z" fill="#22dd22"/>
<path d="M248.75 211.08L250.57 214.38L246.94 214.38Z" fill="#22dd22"/>
<path d="M253.57 204.69L255.39 207.99L251.76 207.99Z" fill="#22dd22"/>
<path d="M258.84 198.14L260.66 201.44L257.03 201.44Z" fill="#22dd22"/>
<path d="M265.04 191.49L266.85 194.79L263.22 194.79Z" fill="#22dd22"/>
<path d="M272.00 184.57L273.82 187.87L270.19 187.87Z" fill="#22dd22"/>
<path d="M279.74 177.33L281.56 180.63L277.93 180.63Z" fill="#22dd22"/>
<path d="M288.05 169.45L289.87 172.75L286.24 172.75Z" fill="#22dd22"/>
<path d="M296.94 160.85L298.75 164.15L295.12 164.15Z" fill="#22dd22"/>
<path d="M306.70 151.74L308.52 155.04L304.89 155.04Z" fill="#22dd22"/>
<path d="M205.00 246.50 L205.39 245.98 L205.92 245.27 L206.55 244.43 L207.25 243.50 L207.98 242.54 L208.70 241.60 L209.39 240.74 L210.00 240.00 L210.54 239.37 L211.05 238.79 L211.54 238.26 L212.02 237.76 L212.49 237.29 L212.97 236.84 L213.47 236.42 L214.00 236.00 L214.55 235.63 L215.11 235.32 L215.69 235.05 L216.28 234.80 L216.87 234.53 L217.47 234.23 L218.08 233.86 L218.70 233.40 L219.32 232.85 L219.94 232.24 L220.57 231.58 L221.21 230.87 L221.85 230.13 L222.52 229.36 L223.20 228.58 L223.90 227.80 L224.63 226.99 L225.38 226.15 L226.15 225.28 L226.94 224.39 L227.73 223.49 L228.53 222.61 L229.32 221.74 L230.10 220.90 L230.87 220.11 L231.62 219.37 L232.38 218.66 L233.13 217.95 L233.89 217.22 L234.67 216.45 L235.47 215.62 L236.30 214.70 L237.16 213.67 L238.06 212.55 L238.97 211.36 L239.91 210.12 L240.84 208.88 L241.78 207.66 L242.70 206.49 L243.60 205.40 L244.48 204.38 L245.35 203.40 L246.21 202.45 L247.06 201.53 L247.92 200.63 L248.77 199.74 L249.63 198.87 L250.50 198.00 L251.38 197.15 L252.26 196.35 L253.14 195.56 L254.03 194.79 L254.91 194.01 L255.81 193.21 L256.70 192.38 L257.60 191.50 L258.50 190.58 L259.40 189.62 L260.31 188.65 L261.21 187.64 L262.12 186.62 L263.04 185.59 L263.97 184.55 L264.90 183.50 L265.84 182.45 L266.78 181.38 L267.73 180.31 L268.69 179.22 L269.65 178.12 L270.62 177.00 L271.61 175.86 L272.60 174.70 L273.67 173.45 L274.83 172.07 L276.03 170.63 L277.23 169.20 L278.37 167.84 L279.39 166.60 L280.26 165.57 L280.90 164.80" fill="none" stroke="#5151db" stroke-width="0.65"/>
<path d="M205.00 248.31L206.81 245.01L203.19 245.01Z" fill="#1818d0"/>
<path d="M206.56 246.23L208.37 242.93L204.74 242.93Z" fill="#1818d0"/>
<path d="M208.13 244.16L209.94 240.86L206.31 240.86Z" fill="#1818d0"/>
<path d="M209.74 242.12L211.56 238.82L207.93 238.82Z" fill="#1818d0"/>
<path d="M211.45 240.17L213.27 236.87L209.64 236.87Z" fill="#1818d0"/>
<path d="M213.32 238.36L215.14 235.06L211.51 235.06Z" fill="#1818d0"/>
<path d="M215.50 236.96L217.31 233.66L213.68 233.66Z" fill="#1818d0"/>
<path d="M217.84 235.82L219.65 232.52L216.02 232.52Z" fill="#1818d0"/>
<path d="M219.83 234.17L221.64 230.87L218.01 230.87Z" fill="#1818d0"/>
<path d="M221.59 232.25L223.40 228.95L219.77 228.95Z" fill="#1818d0"/>
<path d="M223.29 230.29L225.11 226.99L221.48 226.99Z" fill="#1818d0"/>
<path d="M225.03 228.36L226.85 225.06L223.22 225.06Z" fill="#1818d0"/>
<path d="M226.75 226.41L228.57 223.11L224.94 223.11Z" fill="#1818d0"/>
<path d="M228.48 224.47L230.30 221.17L226.67 221.17Z" fill="#1818d0"/>
<path d="M230.25 222.56L232.07 219.26L228.44 219.26Z" fill="#1818d0"/>
<path d="M232.10 220.74L233.92 217.44L230.29 217.44Z" fill="#1818d0"/>
<path d="M233.99 218.94L235.80 215.64L232.17 215.64Z" fill="#1818d0"/>
<path d="M235.79 217.08L237.61 213.78L233.98 213.78Z" fill="#1818d0"/>
<path d="M237.48 215.09L239.29 211.79L235.66 211.79Z" fill="#1818d0"/>
<path d="M242.35 208.75L244.17 205.45L240.54 205.45Z" fill="#1818d0"/>
<path d="M247.90 202.45L249.72 199.15L246.09 199.15Z" fill="#1818d0"/>
<path d="M254.50 196.19L256.31 192.89L252.68 192.89Z" fill="#1818d0"/>
<path d="M261.44 189.20L263.26 185.90L259.63 185.90Z" fill="#1818d0"/>
<path d="M268.53 181.21L270.35 177.91L266.72 177.91Z" fill="#1818d0"/>
<path d="M276.05 172.42L277.87 169.12L274.24 169.12Z" fill="#1818d0"/>
<path d="M205.00 246.00 L205.30 245.54 L205.70 244.95 L206.16 244.23 L206.69 243.44 L207.25 242.59 L207.84 241.71 L208.42 240.84 L209.00 240.00 L209.57 239.18 L210.17 238.34 L210.78 237.49 L211.41 236.62 L212.04 235.74 L212.69 234.84 L213.34 233.93 L214.00 233.00 L214.66 232.05 L215.34 231.07 L216.03 230.07 L216.72 229.06 L217.42 228.04 L218.11 227.02 L218.81 226.01 L219.50 225.00 L220.19 224.00 L220.88 222.99 L221.56 221.98 L222.25 220.97 L222.94 219.96 L223.62 218.96 L224.31 217.98 L225.00 217.00 L225.67 216.06 L226.32 215.17 L226.96 214.30 L227.60 213.42 L228.26 212.53 L228.96 211.60 L229.70 210.59 L230.50 209.50 L231.38 208.29 L232.34 206.98 L233.34 205.60 L234.38 204.18 L235.43 202.74 L236.46 201.33 L237.46 199.97 L238.40 198.70 L239.28 197.51 L240.13 196.38 L240.95 195.30 L241.76 194.24 L242.55 193.19 L243.35 192.15 L244.16 191.09 L245.00 190.00 L245.86 188.89 L246.72 187.78 L247.60 186.66 L248.47 185.53 L249.36 184.40 L250.24 183.27 L251.12 182.14 L252.00 181.00 L252.88 179.86 L253.75 178.70 L254.62 177.55 L255.50 176.39 L256.38 175.23 L257.25 174.08 L258.12 172.93 L259.00 171.80 L259.88 170.68 L260.75 169.56 L261.62 168.46 L262.50 167.36 L263.38 166.26 L264.25 165.17 L265.12 164.08 L266.00 163.00 L266.87 161.93 L267.75 160.87 L268.62 159.82 L269.49 158.77 L270.36 157.72 L271.24 156.66 L272.12 155.59 L273.00 154.50 L273.94 153.33 L274.95 152.05 L276.00 150.73 L277.04 149.42 L278.02 148.17 L278.90 147.05 L279.64 146.11 L280.20 145.40" fill="none" stroke="#59e7f3" stroke-width="0.65"/>
<path d="M205.00 244.02L206.98 246.00L205.00 247.98L203.02 246.00Z" fill="#22e0f0"/>
<path d="M207.20 240.68L209.18 242.66L207.20 244.64L205.22 242.66Z" fill="#22e0f0"/>
<path d="M209.45 237.37L211.43 239.35L209.45 241.33L207.47 239.35Z" fill="#22e0f0"/>
<path d="M211.78 234.12L213.76 236.10L211.78 238.08L209.80 236.10Z" fill="#22e0f0"/>
<path d="M214.11 230.87L216.09 232.85L214.11 234.83L212.13 232.85Z" fill="#22e0f0"/>
<path d="M216.38 227.58L218.36 229.56L216.38 231.54L214.40 229.56Z" fill="#22e0f0"/>
<path d="M220.90 220.97L222.88 222.95L220.90 224.93L218.92 222.95Z" fill="#22e0f0"/>
<path d="M225.63 214.14L227.61 216.12L225.63 218.10L223.65 216.12Z" fill="#22e0f0"/>
<path d="M231.08 206.73L233.06 208.71L231.08 210.69L229.10 208.71Z" fill="#22e0f0"/>
<path d="M237.07 198.53L239.05 200.51L237.07 202.49L235.09 200.51Z" fill="#22e0f0"/>
<path d="M243.82 189.56L245.80 191.54L243.82 193.52L241.84 191.54Z" fill="#22e0f0"/>
<path d="M251.43 179.76L253.41 181.74L251.43 183.72L249.45 181.74Z" fill="#22e0f0"/>
<path d="M259.75 168.85L261.73 170.83L259.75 172.81L257.77 170.83Z" fill="#22e0f0"/>
<path d="M269.27 157.05L271.25 159.03L269.27 161.01L267.29 159.03Z" fill="#22e0f0"/>
<path d="M279.75 143.98L281.73 145.96L279.75 147.94L277.77 145.96Z" fill="#22e0f0"/>
<path d="M205.00 246.00 L205.11 245.54 L205.26 244.94 L205.44 244.22 L205.64 243.41 L205.85 242.56 L206.07 241.68 L206.29 240.82 L206.50 240.00 L206.69 239.21 L206.86 238.41 L207.02 237.60 L207.19 236.78 L207.39 235.95 L207.63 235.11 L207.93 234.26 L208.30 233.40 L208.75 232.52 L209.27 231.62 L209.85 230.71 L210.46 229.79 L211.11 228.86 L211.77 227.93 L212.44 227.01 L213.10 226.10 L213.76 225.19 L214.43 224.29 L215.12 223.38 L215.81 222.47 L216.52 221.57 L217.24 220.68 L217.97 219.78 L218.70 218.90 L219.44 218.03 L220.18 217.17 L220.93 216.33 L221.69 215.48 L222.47 214.63 L223.26 213.77 L224.07 212.90 L224.90 212.00 L225.81 211.02 L226.82 209.95 L227.88 208.83 L228.94 207.72 L229.95 206.66 L230.86 205.70 L231.63 204.90 L232.20 204.30" fill="none" stroke="#e757e7" stroke-width="0.65"/>
<path d="M203.19 246.00L206.49 244.19L206.49 247.81Z" fill="#e020e0"/>
<path d="M204.27 241.63L207.57 239.82L207.57 243.45Z" fill="#e020e0"/>
<path d="M205.28 237.25L208.58 235.43L208.58 239.06Z" fill="#e020e0"/>
<path d="M206.69 232.99L209.99 231.18L209.99 234.81Z" fill="#e020e0"/>
<path d="M209.07 229.18L212.37 227.36L212.37 230.99Z" fill="#e020e0"/>
<path d="M211.70 225.53L215.00 223.71L215.00 227.34Z" fill="#e020e0"/>
<path d="M214.42 221.94L217.72 220.12L217.72 223.75Z" fill="#e020e0"/>
<path d="M217.26 218.45L220.56 216.64L220.56 220.27Z" fill="#e020e0"/>
<path d="M220.24 215.08L223.54 213.27L223.54 216.90Z" fill="#e020e0"/>
<path d="M223.30 211.77L226.60 209.96L226.60 213.59Z" fill="#e020e0"/>
<path d="M226.38 208.50L229.68 206.68L229.68 210.31Z" fill="#e020e0"/>
<path d="M229.49 205.24L232.79 203.43L232.79 207.06Z" fill="#e020e0"/>
<path d="M204.60 246.00 L204.67 245.61 L204.75 245.10 L204.85 244.49 L204.96 243.81 L205.08 243.09 L205.21 242.37 L205.35 241.66 L205.50 241.00 L205.66 240.38 L205.83 239.75 L206.02 239.12 L206.21 238.50 L206.41 237.88 L206.61 237.25 L206.81 236.62 L207.00 236.00 L207.20 235.34 L207.41 234.63 L207.63 233.91 L207.84 233.19 L208.05 232.51 L208.23 231.90 L208.38 231.39 L208.50 231.00" fill="none" stroke="#f5f281" stroke-width="1.0"/>
<path d="M206.41 246.00L203.11 244.19L203.11 247.81Z" fill="#f2ee58"/>
<path d="M206.82 243.53L203.52 241.72L203.52 245.35Z" fill="#f2ee58"/>
<path d="M207.30 241.08L204.00 239.26L204.00 242.89Z" fill="#f2ee58"/>
<path d="M207.97 238.67L204.67 236.86L204.67 240.49Z" fill="#f2ee58"/>
<path d="M208.73 236.29L205.43 234.47L205.43 238.10Z" fill="#f2ee58"/>
<path d="M209.45 233.90L206.15 232.08L206.15 235.71Z" fill="#f2ee58"/>
<path d="M210.16 231.50L206.86 229.69L206.86 233.32Z" fill="#f2ee58"/>
<path d="M205.00 246.00 L204.97 245.42 L204.90 244.64 L204.82 243.72 L204.74 242.69 L204.69 241.62 L204.66 240.55 L204.70 239.52 L204.80 238.60 L204.96 237.77 L205.17 236.97 L205.42 236.20 L205.71 235.44 L206.05 234.68 L206.42 233.91 L206.84 233.12 L207.30 232.30 L207.81 231.45 L208.36 230.58 L208.96 229.69 L209.61 228.79 L210.28 227.88 L211.00 226.96 L211.74 226.03 L212.50 225.10 L213.31 224.15 L214.18 223.17 L215.09 222.17 L216.03 221.16 L216.98 220.17 L217.92 219.20 L218.83 218.27 L219.70 217.40 L220.53 216.58 L221.34 215.79 L222.13 215.03 L222.91 214.31 L223.68 213.60 L224.45 212.92 L225.22 212.25 L226.00 211.60 L226.77 210.96 L227.53 210.34 L228.28 209.75 L229.04 209.17 L229.80 208.61 L230.57 208.06 L231.37 207.52 L232.20 207.00 L233.05 206.49 L233.92 206.00 L234.81 205.52 L235.72 205.06 L236.64 204.60 L237.58 204.16 L238.53 203.73 L239.50 203.30 L240.49 202.88 L241.51 202.48 L242.54 202.09 L243.59 201.71 L244.65 201.34 L245.71 200.96 L246.76 200.58 L247.80 200.20 L248.82 199.80 L249.83 199.40 L250.83 198.98 L251.83 198.57 L252.84 198.17 L253.87 197.79 L254.92 197.43 L256.00 197.10 L257.11 196.81 L258.26 196.55 L259.42 196.32 L260.60 196.11 L261.79 195.90 L262.99 195.68 L264.20 195.45 L265.40 195.20 L266.62 194.91 L267.86 194.59 L269.11 194.25 L270.37 193.91 L271.62 193.58 L272.85 193.27 L274.04 193.01 L275.20 192.80 L276.30 192.66 L277.36 192.57 L278.39 192.53 L279.39 192.51 L280.39 192.50 L281.40 192.49 L282.43 192.46 L283.50 192.40 L284.61 192.31 L285.75 192.21 L286.91 192.10 L288.08 191.99 L289.25 191.87 L290.40 191.74 L291.52 191.62 L292.60 191.50 L293.64 191.38 L294.64 191.26 L295.62 191.13 L296.58 191.01 L297.53 190.88 L298.48 190.75 L299.43 190.63 L300.40 190.50 L301.37 190.39 L302.32 190.29 L303.27 190.20 L304.22 190.10 L305.19 189.99 L306.17 189.86 L307.17 189.70 L308.20 189.50 L309.28 189.25 L310.39 188.96 L311.54 188.64 L312.70 188.30 L313.86 187.95 L315.01 187.59 L316.12 187.24 L317.20 186.90 L318.24 186.59 L319.25 186.30 L320.23 186.02 L321.21 185.73 L322.16 185.43 L323.11 185.10 L324.06 184.73 L325.00 184.30 L325.92 183.82 L326.80 183.31 L327.67 182.75 L328.53 182.17 L329.41 181.56 L330.32 180.92 L331.28 180.27 L332.30 179.60 L333.46 178.86 L334.78 178.03 L336.19 177.15 L337.61 176.26 L338.97 175.40 L340.20 174.63 L341.24 173.98 L342.00 173.50" fill="none" stroke="#444444" stroke-width="0.65"/>
<rect x="203.15" y="236.95" width="3.30" height="3.30" fill="#111111"/>
<rect x="205.65" y="230.65" width="3.30" height="3.30" fill="#111111"/>
<rect x="210.85" y="223.45" width="3.30" height="3.30" fill="#111111"/>
<rect x="218.05" y="215.75" width="3.30" height="3.30" fill="#111111"/>
<rect x="224.35" y="209.95" width="3.30" height="3.30" fill="#111111"/>
<rect x="230.55" y="205.35" width="3.30" height="3.30" fill="#111111"/>
<rect x="237.85" y="201.65" width="3.30" height="3.30" fill="#111111"/>
<rect x="246.15" y="198.55" width="3.30" height="3.30" fill="#111111"/>
<rect x="254.35" y="195.45" width="3.30" height="3.30" fill="#111111"/>
<rect x="263.75" y="193.55" width="3.30" height="3.30" fill="#111111"/>
<rect x="273.55" y="191.15" width="3.30" height="3.30" fill="#111111"/>
<rect x="281.85" y="190.75" width="3.30" height="3.30" fill="#111111"/>
<rect x="290.95" y="189.85" width="3.30" height="3.30" fill="#111111"/>
<rect x="298.75" y="188.85" width="3.30" height="3.30" fill="#111111"/>
<rect x="306.55" y="187.85" width="3.30" height="3.30" fill="#111111"/>
<rect x="315.55" y="185.25" width="3.30" height="3.30" fill="#111111"/>
<rect x="323.35" y="182.65" width="3.30" height="3.30" fill="#111111"/>
<rect x="330.65" y="177.95" width="3.30" height="3.30" fill="#111111"/>
</g>
<rect x="199.8" y="140.7" width="139.5" height="109.20000000000002" fill="none" stroke="#2a2a2a" stroke-width="1"/>
<line x1="199.8" y1="140.20" x2="201.8" y2="140.20" stroke="#333" stroke-width="0.8"/>
<text x="197.00" y="142.10" font-size="6.0" fill="#151515" text-anchor="end" font-weight="bold" stroke="#151515" stroke-width="0.15">-50</text>
<line x1="199.8" y1="161.46" x2="201.8" y2="161.46" stroke="#333" stroke-width="0.8"/>
<text x="197.00" y="163.36" font-size="6.0" fill="#151515" text-anchor="end" font-weight="bold" stroke="#151515" stroke-width="0.15">-40</text>
<line x1="199.8" y1="182.72" x2="201.8" y2="182.72" stroke="#333" stroke-width="0.8"/>
<text x="197.00" y="184.62" font-size="6.0" fill="#151515" text-anchor="end" font-weight="bold" stroke="#151515" stroke-width="0.15">-30</text>
<line x1="199.8" y1="203.98" x2="201.8" y2="203.98" stroke="#333" stroke-width="0.8"/>
<text x="197.00" y="205.88" font-size="6.0" fill="#151515" text-anchor="end" font-weight="bold" stroke="#151515" stroke-width="0.15">-20</text>
<line x1="199.8" y1="225.24" x2="201.8" y2="225.24" stroke="#333" stroke-width="0.8"/>
<text x="197.00" y="227.14" font-size="6.0" fill="#151515" text-anchor="end" font-weight="bold" stroke="#151515" stroke-width="0.15">-10</text>
<line x1="199.8" y1="246.50" x2="201.8" y2="246.50" stroke="#333" stroke-width="0.8"/>
<text x="197.00" y="248.40" font-size="6.0" fill="#151515" text-anchor="end" font-weight="bold" stroke="#151515" stroke-width="0.15">0</text>
<line x1="199.8" y1="150.83" x2="201.0" y2="150.83" stroke="#333" stroke-width="0.7"/>
<line x1="199.8" y1="172.09" x2="201.0" y2="172.09" stroke="#333" stroke-width="0.7"/>
<line x1="199.8" y1="193.35" x2="201.0" y2="193.35" stroke="#333" stroke-width="0.7"/>
<line x1="199.8" y1="214.61" x2="201.0" y2="214.61" stroke="#333" stroke-width="0.7"/>
<line x1="199.8" y1="235.87" x2="201.0" y2="235.87" stroke="#333" stroke-width="0.7"/>
<line x1="204.40" y1="249.9" x2="204.40" y2="247.9" stroke="#333" stroke-width="0.8"/>
<text x="204.40" y="257.40" font-size="6.0" fill="#151515" text-anchor="middle" font-weight="bold" stroke="#151515" stroke-width="0.15">0</text>
<line x1="226.73" y1="249.9" x2="226.73" y2="247.9" stroke="#333" stroke-width="0.8"/>
<text x="226.73" y="257.40" font-size="6.0" fill="#151515" text-anchor="middle" font-weight="bold" stroke="#151515" stroke-width="0.15">10</text>
<line x1="249.06" y1="249.9" x2="249.06" y2="247.9" stroke="#333" stroke-width="0.8"/>
<text x="249.06" y="257.40" font-size="6.0" fill="#151515" text-anchor="middle" font-weight="bold" stroke="#151515" stroke-width="0.15">20</text>
<line x1="271.39" y1="249.9" x2="271.39" y2="247.9" stroke="#333" stroke-width="0.8"/>
<text x="271.39" y="257.40" font-size="6.0" fill="#151515" text-anchor="middle" font-weight="bold" stroke="#151515" stroke-width="0.15">30</text>
<line x1="293.72" y1="249.9" x2="293.72" y2="247.9" stroke="#333" stroke-width="0.8"/>
<text x="293.72" y="257.40" font-size="6.0" fill="#151515" text-anchor="middle" font-weight="bold" stroke="#151515" stroke-width="0.15">40</text>
<line x1="316.05" y1="249.9" x2="316.05" y2="247.9" stroke="#333" stroke-width="0.8"/>
<text x="316.05" y="257.40" font-size="6.0" fill="#151515" text-anchor="middle" font-weight="bold" stroke="#151515" stroke-width="0.15">50</text>
<line x1="338.38" y1="249.9" x2="338.38" y2="247.9" stroke="#333" stroke-width="0.8"/>
<text x="338.38" y="257.40" font-size="6.0" fill="#151515" text-anchor="middle" font-weight="bold" stroke="#151515" stroke-width="0.15">60</text>
<line x1="215.56" y1="249.9" x2="215.56" y2="248.70000000000002" stroke="#333" stroke-width="0.7"/>
<line x1="237.90" y1="249.9" x2="237.90" y2="248.70000000000002" stroke="#333" stroke-width="0.7"/>
<line x1="260.23" y1="249.9" x2="260.23" y2="248.70000000000002" stroke="#333" stroke-width="0.7"/>
<line x1="282.56" y1="249.9" x2="282.56" y2="248.70000000000002" stroke="#333" stroke-width="0.7"/>
<line x1="304.88" y1="249.9" x2="304.88" y2="248.70000000000002" stroke="#333" stroke-width="0.7"/>
<line x1="327.22" y1="249.9" x2="327.22" y2="248.70000000000002" stroke="#333" stroke-width="0.7"/>
<text x="270.00" y="266.30" font-size="8.6" fill="#1a1a1a" text-anchor="middle" font-weight="bold" >Z' (k Ohm)</text>
<text x="0" y="0" font-size="9.1" fill="#1a1a1a" text-anchor="middle" font-weight="bold" letter-spacing="0.25" transform="translate(178.70,190.50) rotate(-90)">Z'' (k Ohm)</text>
<text x="202.50" y="150.80" font-size="13.5" fill="#262626" text-anchor="start" font-weight="normal" >(e)</text>
<text x="219.3" y="157.3" font-size="8.0" fill="#cc2234" font-weight="bold" letter-spacing="0.35">Li<tspan dy="3.3" font-size="6.56">7</tspan><tspan dy="-3.3">O</tspan><tspan dy="3.3" font-size="6.56">2</tspan><tspan dy="-3.3">Br</tspan><tspan dy="3.3" font-size="6.56">3</tspan><tspan dy="-3.3">: Li</tspan><tspan dy="3.3" font-size="6.56">3</tspan><tspan dy="-3.3">OBr</tspan></text>
<text x="219.3" y="171.5" font-size="8.0" fill="#cc2234" font-weight="bold" letter-spacing="0.35">44 w%</text>
<line x1="312.4" y1="192.00" x2="320.7" y2="192.00" stroke="#111111" stroke-width="0.6"/>
<rect x="315.25" y="190.70" width="2.60" height="2.60" fill="#111111"/>
<text x="323.00" y="193.80" font-size="5.0" fill="#111111" text-anchor="start" font-weight="bold" >25 <tspan dy="-1.5" font-size="3.2">o</tspan><tspan dy="1.5">C</tspan></text>
<line x1="312.4" y1="199.73" x2="320.7" y2="199.73" stroke="#e8202a" stroke-width="0.6"/>
<circle cx="316.55" cy="199.73" r="1.30" fill="#e8202a"/>
<text x="323.00" y="201.53" font-size="5.0" fill="#e8202a" text-anchor="start" font-weight="bold" >60 <tspan dy="-1.5" font-size="3.2">o</tspan><tspan dy="1.5">C</tspan></text>
<line x1="312.4" y1="207.46" x2="320.7" y2="207.46" stroke="#22dd22" stroke-width="0.6"/>
<path d="M316.55 206.03L317.98 208.63L315.12 208.63Z" fill="#22dd22"/>
<text x="323.00" y="209.26" font-size="5.0" fill="#30c030" text-anchor="start" font-weight="bold" >80 <tspan dy="-1.5" font-size="3.2">o</tspan><tspan dy="1.5">C</tspan></text>
<line x1="312.4" y1="215.19" x2="320.7" y2="215.19" stroke="#1818d0" stroke-width="0.6"/>
<path d="M316.55 216.62L317.98 214.02L315.12 214.02Z" fill="#1818d0"/>
<text x="323.00" y="216.99" font-size="5.0" fill="#1818d0" text-anchor="start" font-weight="bold" >100 <tspan dy="-1.5" font-size="3.2">o</tspan><tspan dy="1.5">C</tspan></text>
<line x1="312.4" y1="222.92" x2="320.7" y2="222.92" stroke="#22e0f0" stroke-width="0.6"/>
<path d="M316.55 221.36L318.11 222.92L316.55 224.48L314.99 222.92Z" fill="#22e0f0"/>
<text x="323.00" y="224.72" font-size="5.0" fill="#30d8e8" text-anchor="start" font-weight="bold" >120 <tspan dy="-1.5" font-size="3.2">o</tspan><tspan dy="1.5">C</tspan></text>
<line x1="312.4" y1="230.65" x2="320.7" y2="230.65" stroke="#e020e0" stroke-width="0.6"/>
<path d="M315.12 230.65L317.72 229.22L317.72 232.08Z" fill="#e020e0"/>
<text x="323.00" y="232.45" font-size="5.0" fill="#e020e0" text-anchor="start" font-weight="bold" >140 <tspan dy="-1.5" font-size="3.2">o</tspan><tspan dy="1.5">C</tspan></text>
<line x1="312.4" y1="238.38" x2="320.7" y2="238.38" stroke="#f2ee58" stroke-width="0.6"/>
<path d="M317.98 238.38L315.38 236.95L315.38 239.81Z" fill="#f2ee58"/>
<text x="323.00" y="240.18" font-size="5.0" fill="#e8e060" text-anchor="start" font-weight="bold" >160 <tspan dy="-1.5" font-size="3.2">o</tspan><tspan dy="1.5">C</tspan></text>
<line x1="312.4" y1="246.11" x2="320.7" y2="246.11" stroke="#206878" stroke-width="0.6"/>
<circle cx="316.55" cy="246.11" r="0.78" fill="#206878"/>
<text x="323.00" y="247.91" font-size="5.0" fill="#206878" text-anchor="start" font-weight="bold" >170 <tspan dy="-1.5" font-size="3.2">o</tspan><tspan dy="1.5">C</tspan></text>
<clipPath id="cf"><rect x="375.7" y="140.7" width="139.90000000000003" height="109.70000000000002"/></clipPath>
<g clip-path="url(#cf)">
<path d="M376.00 250.00 L376.02 249.88 L376.03 249.73 L376.05 249.55 L376.08 249.35 L376.11 249.13 L376.15 248.89 L376.22 248.65 L376.30 248.40 L376.40 248.13 L376.53 247.84 L376.67 247.53 L376.82 247.21 L376.98 246.89 L377.15 246.58 L377.32 246.28 L377.50 246.00 L377.68 245.75 L377.85 245.52 L378.04 245.31 L378.22 245.10 L378.42 244.89 L378.63 244.68 L378.86 244.45 L379.10 244.20 L379.36 243.92 L379.65 243.62 L379.95 243.31 L380.26 242.99 L380.57 242.67 L380.89 242.36 L381.20 242.07 L381.50 241.80 L381.79 241.56 L382.08 241.33 L382.37 241.11 L382.66 240.91 L382.95 240.71 L383.23 240.53 L383.52 240.36 L383.80 240.20 L384.08 240.05 L384.35 239.91 L384.61 239.79 L384.88 239.67 L385.15 239.57 L385.42 239.47 L385.71 239.38 L386.00 239.30 L386.30 239.23 L386.61 239.16 L386.93 239.11 L387.26 239.06 L387.59 239.02 L387.92 238.98 L388.26 238.94 L388.60 238.90 L388.95 238.86 L389.30 238.82 L389.66 238.78 L390.03 238.75 L390.39 238.72 L390.76 238.68 L391.13 238.64 L391.50 238.60 L391.87 238.56 L392.25 238.51 L392.64 238.47 L393.02 238.42 L393.41 238.38 L393.78 238.32 L394.15 238.27 L394.50 238.20 L394.84 238.13 L395.17 238.05 L395.49 237.97 L395.80 237.88 L396.11 237.79 L396.41 237.70 L396.71 237.60 L397.00 237.50 L397.29 237.40 L397.57 237.30 L397.84 237.19 L398.11 237.09 L398.38 236.98 L398.65 236.86 L398.92 236.73 L399.20 236.60 L399.48 236.46 L399.76 236.31 L400.05 236.16 L400.33 236.00 L400.62 235.83 L400.91 235.66 L401.20 235.48 L401.50 235.30 L401.80 235.10 L402.11 234.89 L402.42 234.67 L402.74 234.45 L403.05 234.23 L403.37 234.01 L403.69 233.80 L404.00 233.60 L404.31 233.42 L404.63 233.24 L404.95 233.07 L405.27 232.91 L405.58 232.76 L405.90 232.60 L406.20 232.45 L406.50 232.30 L406.78 232.16 L407.05 232.03 L407.30 231.90 L407.55 231.78 L407.81 231.65 L408.08 231.51 L408.37 231.36 L408.70 231.20 L409.06 231.01 L409.45 230.81 L409.87 230.59 L410.30 230.36 L410.74 230.13 L411.17 229.91 L411.59 229.70 L412.00 229.50 L412.39 229.32 L412.77 229.14 L413.15 228.97 L413.52 228.80 L413.89 228.64 L414.26 228.49 L414.63 228.34 L415.00 228.20 L415.36 228.06 L415.70 227.94 L416.03 227.81 L416.37 227.69 L416.72 227.58 L417.10 227.48 L417.52 227.39 L418.00 227.30 L418.54 227.22 L419.13 227.15 L419.77 227.08 L420.43 227.02 L421.11 226.97 L421.79 226.93 L422.46 226.91 L423.10 226.90 L423.72 226.90 L424.34 226.92 L424.96 226.95 L425.58 226.99 L426.19 227.04 L426.79 227.11 L427.40 227.20 L428.00 227.30 L428.60 227.43 L429.20 227.58 L429.79 227.75 L430.39 227.93 L430.98 228.12 L431.56 228.32 L432.13 228.51 L432.70 228.70 L433.25 228.88 L433.78 229.06 L434.30 229.24 L434.81 229.42 L435.33 229.60 L435.86 229.79 L436.42 229.99 L437.00 230.20 L437.61 230.41 L438.22 230.63 L438.85 230.85 L439.50 231.07 L440.17 231.31 L440.85 231.56 L441.56 231.82 L442.30 232.10 L443.07 232.41 L443.87 232.74 L444.71 233.10 L445.56 233.46 L446.42 233.83 L447.29 234.18 L448.15 234.50 L449.00 234.80 L449.86 235.07 L450.75 235.34 L451.66 235.59 L452.56 235.83 L453.44 236.05 L454.28 236.23 L455.07 236.39 L455.80 236.50 L456.44 236.57 L457.00 236.61 L457.51 236.61 L457.99 236.59 L458.45 236.54 L458.93 236.47 L459.44 236.39 L460.00 236.30 L460.61 236.20 L461.24 236.08 L461.90 235.95 L462.57 235.79 L463.26 235.62 L463.96 235.44 L464.67 235.23 L465.40 235.00 L466.14 234.75 L466.91 234.47 L467.70 234.17 L468.49 233.86 L469.30 233.53 L470.10 233.19 L470.91 232.84 L471.70 232.50 L472.48 232.16 L473.24 231.81 L474.01 231.45 L474.77 231.09 L475.54 230.71 L476.33 230.33 L477.15 229.92 L478.00 229.50 L478.85 229.08 L479.66 228.66 L480.48 228.24 L481.33 227.80 L482.24 227.33 L483.23 226.81 L484.34 226.24 L485.60 225.60 L487.03 224.89 L488.61 224.13 L490.32 223.32 L492.11 222.46 L493.95 221.56 L495.80 220.61 L497.63 219.63 L499.40 218.60 L501.20 217.47 L503.08 216.22 L505.01 214.88 L506.92 213.53 L508.76 212.19 L510.47 210.95 L512.00 209.83 L513.30 208.90 L514.36 208.15 L515.23 207.53 L515.94 207.01 L516.52 206.59 L516.99 206.25 L517.37 205.96 L517.70 205.72 L518.00 205.50" fill="none" stroke="#dc4a5c" stroke-width="1.9"/>
<circle cx="376.00" cy="250.00" r="0.45" fill="#6a3038"/>
<circle cx="376.76" cy="247.33" r="0.45" fill="#6a3038"/>
<circle cx="378.31" cy="245.01" r="0.45" fill="#6a3038"/>
<circle cx="380.25" cy="242.99" r="0.45" fill="#6a3038"/>
<circle cx="382.34" cy="241.14" r="0.45" fill="#6a3038"/>
<circle cx="384.75" cy="239.73" r="0.45" fill="#6a3038"/>
<circle cx="387.46" cy="239.04" r="0.45" fill="#6a3038"/>
<circle cx="390.24" cy="238.73" r="0.45" fill="#6a3038"/>
<circle cx="393.02" cy="238.43" r="0.45" fill="#6a3038"/>
<circle cx="395.77" cy="237.89" r="0.45" fill="#6a3038"/>
<circle cx="398.41" cy="236.96" r="0.45" fill="#6a3038"/>
<circle cx="400.89" cy="235.67" r="0.45" fill="#6a3038"/>
<circle cx="403.22" cy="234.11" r="0.45" fill="#6a3038"/>
<circle cx="405.64" cy="232.73" r="0.45" fill="#6a3038"/>
<circle cx="408.15" cy="231.48" r="0.45" fill="#6a3038"/>
<circle cx="410.63" cy="230.19" r="0.45" fill="#6a3038"/>
<circle cx="413.15" cy="228.96" r="0.45" fill="#6a3038"/>
<circle cx="415.75" cy="227.92" r="0.45" fill="#6a3038"/>
<circle cx="418.46" cy="227.23" r="0.45" fill="#6a3038"/>
<circle cx="421.24" cy="226.96" r="0.45" fill="#6a3038"/>
<circle cx="424.04" cy="226.91" r="0.45" fill="#6a3038"/>
<circle cx="426.83" cy="227.12" r="0.45" fill="#6a3038"/>
<circle cx="429.57" cy="227.68" r="0.45" fill="#6a3038"/>
<circle cx="432.23" cy="228.55" r="0.45" fill="#6a3038"/>
<circle cx="434.89" cy="229.45" r="0.45" fill="#6a3038"/>
<circle cx="437.52" cy="230.38" r="0.45" fill="#6a3038"/>
<circle cx="440.17" cy="231.31" r="0.45" fill="#6a3038"/>
<circle cx="442.79" cy="232.29" r="0.45" fill="#6a3038"/>
<circle cx="445.37" cy="233.38" r="0.45" fill="#6a3038"/>
<circle cx="447.96" cy="234.43" r="0.45" fill="#6a3038"/>
<circle cx="450.62" cy="235.30" r="0.45" fill="#6a3038"/>
<circle cx="453.33" cy="236.02" r="0.45" fill="#6a3038"/>
<circle cx="456.08" cy="236.53" r="0.45" fill="#6a3038"/>
<circle cx="458.87" cy="236.48" r="0.45" fill="#6a3038"/>
<circle cx="461.63" cy="236.00" r="0.45" fill="#6a3038"/>
<circle cx="464.34" cy="235.32" r="0.45" fill="#6a3038"/>
<circle cx="467.00" cy="234.44" r="0.45" fill="#6a3038"/>
<circle cx="469.60" cy="233.40" r="0.45" fill="#6a3038"/>
<circle cx="472.17" cy="232.29" r="0.45" fill="#6a3038"/>
<circle cx="474.71" cy="231.11" r="0.45" fill="#6a3038"/>
<circle cx="477.23" cy="229.88" r="0.45" fill="#6a3038"/>
<circle cx="479.73" cy="228.63" r="0.45" fill="#6a3038"/>
<circle cx="482.22" cy="227.34" r="0.45" fill="#6a3038"/>
<circle cx="484.70" cy="226.06" r="0.45" fill="#6a3038"/>
<circle cx="487.21" cy="224.80" r="0.45" fill="#6a3038"/>
<circle cx="489.74" cy="223.60" r="0.45" fill="#6a3038"/>
<circle cx="492.26" cy="222.39" r="0.45" fill="#6a3038"/>
<circle cx="494.77" cy="221.14" r="0.45" fill="#6a3038"/>
<circle cx="497.24" cy="219.83" r="0.45" fill="#6a3038"/>
<circle cx="499.67" cy="218.43" r="0.45" fill="#6a3038"/>
<circle cx="502.02" cy="216.92" r="0.45" fill="#6a3038"/>
<circle cx="504.34" cy="215.35" r="0.45" fill="#6a3038"/>
<circle cx="506.63" cy="213.73" r="0.45" fill="#6a3038"/>
<circle cx="508.90" cy="212.09" r="0.45" fill="#6a3038"/>
<circle cx="511.16" cy="210.44" r="0.45" fill="#6a3038"/>
<circle cx="513.43" cy="208.81" r="0.45" fill="#6a3038"/>
<circle cx="515.71" cy="207.18" r="0.45" fill="#6a3038"/>
<circle cx="517.97" cy="205.52" r="0.45" fill="#6a3038"/>
</g>
<rect x="375.7" y="140.7" width="139.90000000000003" height="109.70000000000002" fill="none" stroke="#2a2a2a" stroke-width="1"/>
<line x1="375.7" y1="152.60" x2="377.7" y2="152.60" stroke="#333" stroke-width="0.8"/>
<text x="373.20" y="154.50" font-size="6.0" fill="#151515" text-anchor="end" font-weight="bold" stroke="#151515" stroke-width="0.15">-200</text>
<line x1="375.7" y1="176.95" x2="377.7" y2="176.95" stroke="#333" stroke-width="0.8"/>
<text x="373.20" y="178.85" font-size="6.0" fill="#151515" text-anchor="end" font-weight="bold" stroke="#151515" stroke-width="0.15">-150</text>
<line x1="375.7" y1="201.30" x2="377.7" y2="201.30" stroke="#333" stroke-width="0.8"/>
<text x="373.20" y="203.20" font-size="6.0" fill="#151515" text-anchor="end" font-weight="bold" stroke="#151515" stroke-width="0.15">-100</text>
<line x1="375.7" y1="225.65" x2="377.7" y2="225.65" stroke="#333" stroke-width="0.8"/>
<text x="373.20" y="227.55" font-size="6.0" fill="#151515" text-anchor="end" font-weight="bold" stroke="#151515" stroke-width="0.15">-50</text>
<line x1="375.7" y1="250.00" x2="377.7" y2="250.00" stroke="#333" stroke-width="0.8"/>
<text x="373.20" y="251.90" font-size="6.0" fill="#151515" text-anchor="end" font-weight="bold" stroke="#151515" stroke-width="0.15">0</text>
<line x1="375.7" y1="164.78" x2="376.9" y2="164.78" stroke="#333" stroke-width="0.7"/>
<line x1="375.7" y1="189.12" x2="376.9" y2="189.12" stroke="#333" stroke-width="0.7"/>
<line x1="375.7" y1="213.47" x2="376.9" y2="213.47" stroke="#333" stroke-width="0.7"/>
<line x1="375.7" y1="237.82" x2="376.9" y2="237.82" stroke="#333" stroke-width="0.7"/>
<line x1="376.00" y1="250.4" x2="376.00" y2="248.4" stroke="#333" stroke-width="0.8"/>
<text x="376.00" y="257.60" font-size="6.0" fill="#151515" text-anchor="middle" font-weight="bold" stroke="#151515" stroke-width="0.15">0</text>
<line x1="422.23" y1="250.4" x2="422.23" y2="248.4" stroke="#333" stroke-width="0.8"/>
<text x="422.23" y="257.60" font-size="6.0" fill="#151515" text-anchor="middle" font-weight="bold" stroke="#151515" stroke-width="0.15">100</text>
<line x1="468.46" y1="250.4" x2="468.46" y2="248.4" stroke="#333" stroke-width="0.8"/>
<text x="468.46" y="257.60" font-size="6.0" fill="#151515" text-anchor="middle" font-weight="bold" stroke="#151515" stroke-width="0.15">200</text>
<line x1="514.69" y1="250.4" x2="514.69" y2="248.4" stroke="#333" stroke-width="0.8"/>
<text x="514.69" y="257.60" font-size="6.0" fill="#151515" text-anchor="middle" font-weight="bold" stroke="#151515" stroke-width="0.15">300</text>
<line x1="399.12" y1="250.4" x2="399.12" y2="249.20000000000002" stroke="#333" stroke-width="0.7"/>
<line x1="445.35" y1="250.4" x2="445.35" y2="249.20000000000002" stroke="#333" stroke-width="0.7"/>
<line x1="491.57" y1="250.4" x2="491.57" y2="249.20000000000002" stroke="#333" stroke-width="0.7"/>
<text x="445.50" y="266.30" font-size="8.6" fill="#1a1a1a" text-anchor="middle" font-weight="bold" >Z' (k Ohm)</text>
<text x="0" y="0" font-size="9.1" fill="#1a1a1a" text-anchor="middle" font-weight="bold" letter-spacing="0.25" transform="translate(354.70,190.50) rotate(-90)">Z'' (k Ohm)</text>
<text x="378.30" y="150.80" font-size="13.5" fill="#262626" text-anchor="start" font-weight="normal" >(f)</text>
<text x="396.2" y="156.0" font-size="8.0" fill="#cc2234" font-weight="bold" letter-spacing="0.35">Li<tspan dy="3.3" font-size="6.56">3</tspan><tspan dy="-3.3">OBr</tspan></text>
<text x="398.00" y="172.60" font-size="5.6" fill="#222" text-anchor="start" font-weight="bold" >at 26 <tspan dy="-1.8" font-size="3.6">o</tspan><tspan dy="1.8">C</tspan></text>
<path d="M436.5 178.4H444.5 M449.5 178.4H458.5 M463 178.4H475.5 M480 178.4H488 M493 178.4H499.5" stroke="#3a3a3a" stroke-width="0.8" fill="none"/>
<path d="M444.5 178.4 L445.12 177.3 L446.38 179.5 L447.62 177.3 L448.88 179.5 L449.5 178.4" stroke="#3a3a3a" stroke-width="0.7" fill="none"/>
<path d="M458.5 178.4 L459.06 177.3 L460.19 179.5 L461.31 177.3 L462.44 179.5 L463 178.4" stroke="#3a3a3a" stroke-width="0.7" fill="none"/>
<path d="M475.5 178.4 L476.06 177.3 L477.19 179.5 L478.31 177.3 L479.44 179.5 L480 178.4" stroke="#3a3a3a" stroke-width="0.7" fill="none"/>
<path d="M488 178.4 L488.62 177.3 L489.88 179.5 L491.12 177.3 L492.38 179.5 L493 178.4" stroke="#3a3a3a" stroke-width="0.7" fill="none"/>
<circle cx="492.3" cy="178.6" r="0.9" fill="#3a3a3a"/>
<path d="M453.8 178.4V186.5H467.7V178.4 M455.1 180V185.4H459.55 M461.95 185.4H466.4V180" stroke="#3a3a3a" stroke-width="0.8" fill="none"/>
<path d="M459.55 184.2L461.35 185.4L459.55 186.6Z" fill="#3a3a3a"/>
<path d="M470.6 178.4V186.5H484.4V178.4 M471.90000000000003 180V185.4H476.3 M478.7 185.4H483.09999999999997V180" stroke="#3a3a3a" stroke-width="0.8" fill="none"/>
<path d="M476.3 184.2L478.1 185.4L476.3 186.6Z" fill="#3a3a3a"/>
<text x="447.20" y="175.90" font-size="4.2" fill="#222" text-anchor="middle" font-weight="bold" >R1</text>
<text x="460.60" y="175.90" font-size="4.2" fill="#222" text-anchor="middle" font-weight="bold" >R2</text>
<text x="478.10" y="175.90" font-size="4.2" fill="#222" text-anchor="middle" font-weight="bold" >R3</text>
<text x="490.40" y="175.90" font-size="4.2" fill="#222" text-anchor="middle" font-weight="bold" >W1</text>
<text x="460.80" y="192.70" font-size="4.2" fill="#222" text-anchor="middle" font-weight="bold" >CPE1</text>
<text x="478.10" y="192.70" font-size="4.2" fill="#222" text-anchor="middle" font-weight="bold" >CPE2</text>
<circle cx="449.60" cy="202.30" r="0.90" fill="none" stroke="#555" stroke-width="0.5"/>
<text x="457.30" y="204.20" font-size="5.4" fill="#333" text-anchor="start" font-weight="normal" >experiment data</text>
<line x1="443" y1="209.1" x2="455.9" y2="209.1" stroke="#e8202a" stroke-width="0.9"/>
<text x="457.30" y="210.90" font-size="5.4" fill="#333" text-anchor="start" font-weight="normal" >fitting results</text>
<path d="M482.8 231.1 L502.5 221.9" stroke="#44dd44" stroke-width="0.8"/><path d="M504.5 221 L500.6 221.3 L502.2 224.3Z" fill="#44dd44"/>
<text x="467.50" y="242.30" font-size="5.9" fill="#3ccc3c" text-anchor="start" font-weight="normal" letter-spacing="0.35">Low frequency</text>
</svg>
</body></html>
